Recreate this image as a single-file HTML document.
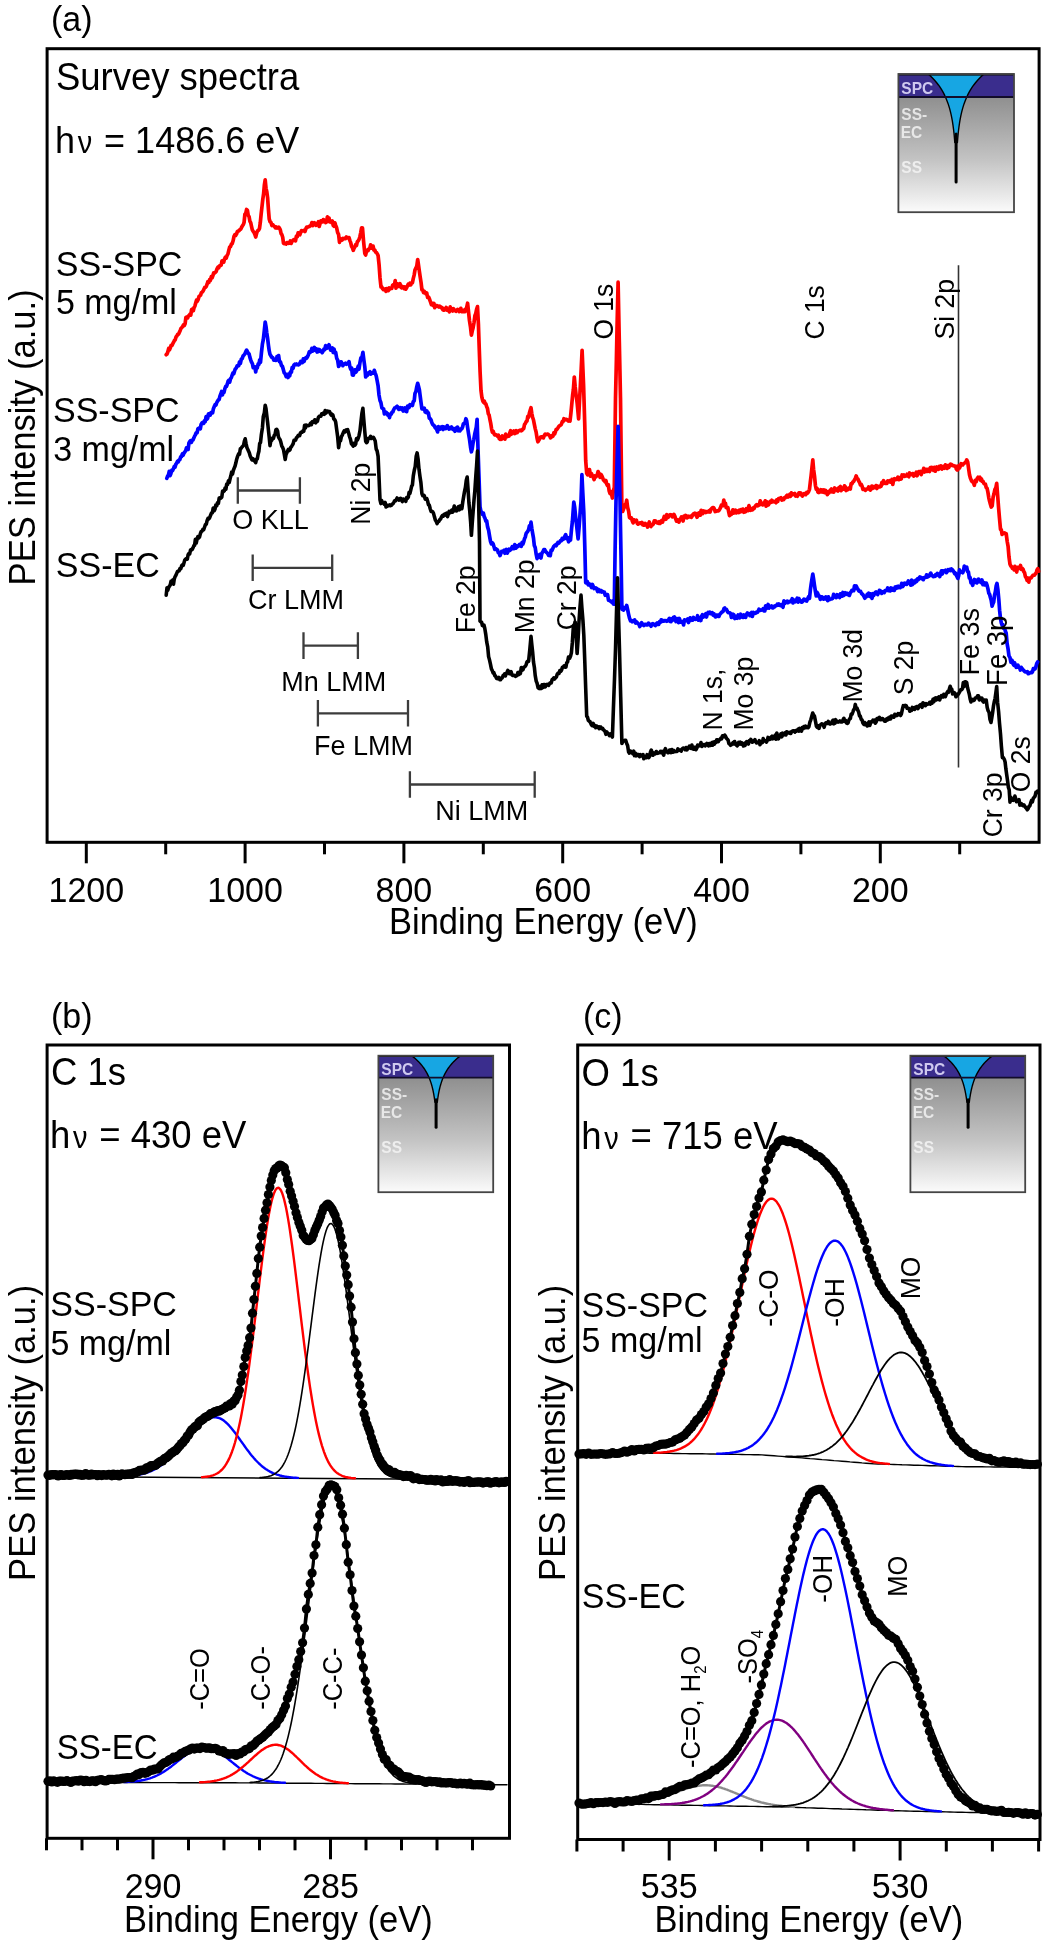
<!DOCTYPE html>
<html><head><meta charset="utf-8"><style>
html,body{margin:0;padding:0;background:#fff;}
svg{display:block;filter:blur(0.6px);}
text{font-family:"Liberation Sans",sans-serif;}
</style></head><body>
<svg width="1050" height="1947" viewBox="0 0 1050 1947">
<defs><linearGradient id="gg" x1="0" y1="0" x2="0" y2="1"><stop offset="0" stop-color="#8f8f8f"/><stop offset="0.55" stop-color="#c4c4c4"/><stop offset="1" stop-color="#fbfbfb"/></linearGradient></defs>
<rect width="1050" height="1947" fill="#fff"/>
<rect x="47.1" y="48.7" width="992" height="793.6" fill="none" stroke="#000" stroke-width="3"/>
<line x1="959.7" y1="842.3" x2="959.7" y2="854.3" stroke="#000" stroke-width="3" />
<line x1="880.3" y1="842.3" x2="880.3" y2="863.3" stroke="#000" stroke-width="3" />
<text x="0" y="0" transform="translate(880.3,901.5) scale(1,1.05)" font-size="34" text-anchor="middle" >200</text>
<line x1="800.9" y1="842.3" x2="800.9" y2="854.3" stroke="#000" stroke-width="3" />
<line x1="721.5" y1="842.3" x2="721.5" y2="863.3" stroke="#000" stroke-width="3" />
<text x="0" y="0" transform="translate(721.5,901.5) scale(1,1.05)" font-size="34" text-anchor="middle" >400</text>
<line x1="642.1" y1="842.3" x2="642.1" y2="854.3" stroke="#000" stroke-width="3" />
<line x1="562.7" y1="842.3" x2="562.7" y2="863.3" stroke="#000" stroke-width="3" />
<text x="0" y="0" transform="translate(562.7,901.5) scale(1,1.05)" font-size="34" text-anchor="middle" >600</text>
<line x1="483.3" y1="842.3" x2="483.3" y2="854.3" stroke="#000" stroke-width="3" />
<line x1="403.9" y1="842.3" x2="403.9" y2="863.3" stroke="#000" stroke-width="3" />
<text x="0" y="0" transform="translate(403.9,901.5) scale(1,1.05)" font-size="34" text-anchor="middle" >800</text>
<line x1="324.5" y1="842.3" x2="324.5" y2="854.3" stroke="#000" stroke-width="3" />
<line x1="245.1" y1="842.3" x2="245.1" y2="863.3" stroke="#000" stroke-width="3" />
<text x="0" y="0" transform="translate(245.1,901.5) scale(1,1.05)" font-size="34" text-anchor="middle" >1000</text>
<line x1="165.7" y1="842.3" x2="165.7" y2="854.3" stroke="#000" stroke-width="3" />
<line x1="86.3" y1="842.3" x2="86.3" y2="863.3" stroke="#000" stroke-width="3" />
<text x="0" y="0" transform="translate(86.3,901.5) scale(1,1.05)" font-size="34" text-anchor="middle" >1200</text>
<text x="0" y="0" transform="translate(543.3,934.0) scale(1,1.05)" font-size="34.5" text-anchor="middle" >Binding Energy (eV)</text>
<text x="0" y="0" transform="translate(50.9,31.4) scale(1,1.05)" font-size="34" text-anchor="start" >(a)</text>
<text x="0" y="0" transform="translate(55.9,89.5) scale(1,1.05)" font-size="36.5" text-anchor="start" >Survey spectra</text>
<text x="0" y="0" transform="translate(55.0,153.3) scale(1,1.05)" font-size="36" text-anchor="start" >h</text>
<text x="0" y="0" transform="translate(77.8,153.3) scale(1,1.05)" font-size="29" text-anchor="start" >ν</text>
<text x="0" y="0" transform="translate(104.1,153.3) scale(1,1.05)" font-size="36" text-anchor="start" >= 1486.6 eV</text>
<text x="0" y="0" transform="translate(55.8,276.0) scale(1,1.05)" font-size="34" text-anchor="start" >SS-SPC</text>
<text x="0" y="0" transform="translate(55.9,314.3) scale(1,1.05)" font-size="34" text-anchor="start" >5 mg/ml</text>
<text x="0" y="0" transform="translate(53.0,422.0) scale(1,1.05)" font-size="34" text-anchor="start" >SS-SPC</text>
<text x="0" y="0" transform="translate(53.2,460.5) scale(1,1.05)" font-size="34" text-anchor="start" >3 mg/ml</text>
<text x="0" y="0" transform="translate(55.8,577.0) scale(1,1.05)" font-size="34" text-anchor="start" >SS-EC</text>
<text x="0" y="0" font-size="34.6" transform="translate(34.5,585.4) rotate(-90) scale(1,1.05)" >PES intensity (a.u.)</text>
<g>
<rect x="898.4" y="97.0" width="115.6" height="115.2" fill="url(#gg)"/>
<rect x="898.4" y="74.0" width="115.6" height="23" fill="#3a2d8d"/>
<path d="M928.80,74.50 L930.70,76.24 L932.47,77.99 L934.13,79.73 L935.66,81.47 L937.09,83.22 L938.43,84.96 L939.67,86.71 L940.82,88.45 L941.90,90.19 L942.90,91.94 L943.84,93.68 L944.71,95.42 L945.52,97.17 L946.27,98.91 L946.97,100.65 L947.63,102.40 L948.24,104.14 L948.81,105.88 L949.33,107.63 L949.83,109.37 L950.29,111.12 L950.71,112.86 L951.11,114.60 L951.48,116.35 L951.82,118.09 L952.15,119.83 L952.45,121.58 L952.72,123.32 L952.98,125.06 L953.22,126.81 L953.45,128.55 L953.66,130.29 L953.85,132.04 L954.04,133.78 L954.21,135.53 L954.36,137.27 L954.51,139.01 L954.65,140.76 L954.77,142.50 L957.43,142.50 L957.55,140.76 L957.69,139.01 L957.84,137.27 L957.99,135.53 L958.16,133.78 L958.35,132.04 L958.54,130.29 L958.75,128.55 L958.98,126.81 L959.22,125.06 L959.48,123.32 L959.75,121.58 L960.05,119.83 L960.38,118.09 L960.72,116.35 L961.09,114.60 L961.49,112.86 L961.91,111.12 L962.37,109.37 L962.87,107.63 L963.39,105.88 L963.96,104.14 L964.57,102.40 L965.23,100.65 L965.93,98.91 L966.68,97.17 L967.49,95.42 L968.36,93.68 L969.30,91.94 L970.30,90.19 L971.38,88.45 L972.53,86.71 L973.77,84.96 L975.11,83.22 L976.54,81.47 L978.07,79.73 L979.73,77.99 L981.50,76.24 L983.40,74.50 Z" fill="#17a6e3" stroke="#000" stroke-width="1.4" stroke-linejoin="round"/>
<line x1="956.1" y1="134.0" x2="956.1" y2="182.0" stroke="#000" stroke-width="3" stroke-linecap="round"/>
<line x1="898.4" y1="97.0" x2="1014.0" y2="97.0" stroke="#120c2a" stroke-width="1.8" />
<line x1="898.4" y1="74.5" x2="1014.0" y2="74.5" stroke="#111" stroke-width="1.8" />
<rect x="898.4" y="74.0" width="115.6" height="138.2" fill="none" stroke="#444" stroke-width="1.8"/>
<text x="0" y="0" transform="translate(901.3,93.9) scale(1,1.05)" font-size="15.5" text-anchor="start" font-weight="bold" style="fill:#cfc9ef">SPC</text>
<text x="0" y="0" transform="translate(901.3,119.6) scale(1,1.05)" font-size="15.5" text-anchor="start" font-weight="bold" style="fill:#e4e4e4">SS-</text>
<text x="0" y="0" transform="translate(900.7,137.6) scale(1,1.05)" font-size="15.5" text-anchor="start" font-weight="bold" style="fill:#e8e8e8">EC</text>
<text x="0" y="0" transform="translate(901.3,173.0) scale(1,1.05)" font-size="15.5" text-anchor="start" font-weight="bold" style="fill:#eeeeee">SS</text>
</g>
<line x1="958.5" y1="265.2" x2="958.5" y2="767.6" stroke="#333" stroke-width="1.6" />
<polyline points="166.2,354.7 167.0,354.0 167.8,352.0 168.7,348.4 169.5,349.9 170.3,347.9 171.1,345.3 172.0,345.4 172.8,343.7 173.6,342.2 174.4,340.5 175.2,339.8 176.1,336.7 176.9,336.1 177.7,334.3 178.5,334.3 179.4,332.2 180.2,330.4 181.0,328.3 181.8,327.6 182.7,326.6 183.5,324.8 184.3,325.5 185.1,323.7 185.9,317.4 186.7,317.1 187.6,317.9 188.4,316.1 189.2,315.5 190.0,314.1 190.8,315.1 191.6,309.5 192.4,309.0 193.3,310.7 194.1,307.5 194.9,306.1 195.7,303.1 196.5,300.2 197.3,301.2 198.1,299.7 199.0,296.5 199.8,295.8 200.6,295.1 201.4,292.6 202.2,292.2 203.0,291.1 203.8,289.6 204.7,287.4 205.5,287.4 206.3,286.4 207.1,284.2 207.9,281.6 208.8,282.4 209.6,279.7 210.4,280.3 211.3,276.6 212.1,278.0 212.9,275.6 213.7,272.9 214.6,272.9 215.4,272.3 216.2,271.4 217.1,268.6 217.9,267.3 218.7,267.8 219.6,265.8 220.4,265.5 221.2,265.1 222.0,260.8 222.9,262.1 223.7,262.2 224.5,259.0 225.4,257.2 226.2,258.1 227.1,255.4 227.9,254.1 228.8,250.4 229.7,246.9 230.5,246.6 231.4,244.1 232.2,243.6 233.1,240.8 234.0,236.3 234.8,234.8 235.7,235.4 236.5,234.1 237.4,231.4 238.2,231.1 239.1,230.7 239.9,229.6 240.8,229.1 241.6,227.2 242.5,225.7 243.3,224.5 244.1,222.3 244.9,214.2 245.8,213.1 246.6,209.5 247.4,210.3 248.2,215.3 249.1,216.7 249.9,221.3 250.7,222.7 251.5,226.4 252.3,229.8 253.2,231.4 254.0,232.4 254.8,234.2 255.7,237.0 256.7,233.0 257.6,230.7 258.6,230.3 259.5,228.4 260.3,222.6 261.1,214.5 261.9,207.4 262.8,199.3 263.6,193.8 264.4,184.7 265.2,179.9 266.0,188.3 266.8,191.7 267.6,197.7 268.4,209.1 269.2,218.9 270.0,221.6 270.9,222.2 271.9,225.6 272.9,224.7 273.8,226.0 274.6,226.5 275.4,227.9 276.2,227.0 277.1,228.1 277.9,227.8 278.7,227.2 279.5,228.2 280.3,229.9 281.1,233.7 281.9,234.7 282.7,237.3 283.5,243.2 284.3,243.7 285.2,243.5 286.0,244.1 286.9,242.7 287.7,242.7 288.6,243.4 289.5,243.0 290.3,241.0 291.2,243.4 292.0,241.3 292.9,240.5 293.8,239.7 294.6,239.3 295.5,240.9 296.4,236.2 297.2,236.9 298.1,232.9 298.9,234.6 299.8,234.8 300.7,232.3 301.5,230.7 302.4,230.8 303.3,230.9 304.1,230.3 305.0,231.5 305.9,228.7 306.7,227.1 307.6,227.2 308.4,226.8 309.3,226.5 310.2,225.8 311.0,225.5 311.9,222.6 312.7,225.6 313.5,223.6 314.3,222.6 315.2,224.7 316.0,225.4 316.8,224.1 317.6,223.4 318.4,221.8 319.2,226.5 320.0,223.7 320.9,220.8 321.7,221.0 322.5,221.9 323.3,219.6 324.1,221.6 324.9,220.5 325.7,222.5 326.6,221.9 327.4,216.9 328.2,220.3 329.0,217.9 329.8,222.0 330.7,221.4 331.5,222.5 332.4,221.0 333.2,225.4 334.0,226.2 334.9,222.8 335.7,225.3 336.6,227.7 337.6,232.4 338.6,234.6 339.5,242.4 340.4,238.6 341.2,239.3 342.1,240.1 343.0,238.4 343.8,238.8 344.7,238.2 345.5,238.6 346.4,237.0 347.3,237.8 348.1,237.9 349.0,237.6 349.9,240.6 350.7,242.6 351.6,246.5 352.4,247.6 353.3,250.3 354.1,248.2 354.9,246.9 355.7,244.6 356.5,245.4 357.3,241.8 358.1,240.9 359.0,239.5 359.9,236.7 360.7,232.8 361.6,227.8 362.5,228.1 363.6,241.7 364.8,253.4 365.6,255.0 366.4,251.9 367.3,250.2 368.1,250.6 368.9,249.0 369.8,248.3 370.6,244.8 371.4,248.1 372.2,246.1 373.1,246.1 373.9,250.1 374.8,250.0 375.6,252.1 376.4,252.4 377.3,253.9 378.1,255.5 379.1,265.0 380.0,277.7 381.0,287.0 381.8,286.9 382.6,288.7 383.5,289.6 384.3,289.2 385.1,288.9 386.0,291.3 386.8,288.6 387.6,290.1 388.4,290.6 389.3,287.9 390.1,288.9 391.0,288.0 391.8,288.3 392.7,285.1 393.5,284.7 394.4,285.1 395.2,280.6 396.0,288.2 396.8,283.6 397.6,284.0 398.4,286.4 399.2,285.6 400.0,283.7 400.9,287.2 401.7,287.9 402.5,286.5 403.3,287.1 404.1,288.5 404.9,287.0 405.7,289.2 406.5,288.0 407.4,286.0 408.2,284.3 409.0,285.0 409.9,283.3 410.7,284.9 411.6,282.9 412.4,282.9 413.3,278.4 414.2,274.9 415.0,269.9 415.9,268.2 416.8,266.0 417.7,259.6 418.5,265.1 419.4,271.6 420.2,277.1 421.1,282.7 421.9,289.7 422.7,289.8 423.5,292.6 424.3,291.4 425.1,292.5 425.9,293.9 426.7,292.9 427.6,297.5 428.6,297.1 429.5,299.1 430.5,302.0 431.4,304.7 432.2,303.2 433.0,305.3 433.9,303.4 434.7,307.7 435.5,306.1 436.3,305.6 437.1,305.5 438.0,306.5 438.8,307.0 439.6,306.2 440.4,306.6 441.3,307.8 442.1,307.7 442.9,309.8 443.7,310.2 444.5,308.9 445.3,309.6 446.2,307.4 447.0,310.1 447.8,309.4 448.6,310.2 449.4,311.8 450.2,306.9 451.0,310.3 451.9,308.7 452.7,311.0 453.5,308.7 454.3,309.9 455.1,310.8 455.9,311.3 456.7,310.6 457.6,309.5 458.4,309.8 459.2,311.6 460.0,310.5 460.8,308.3 461.6,311.6 462.4,311.0 463.3,311.6 464.1,310.1 464.9,311.6 465.7,309.1 466.6,307.9 467.6,303.2 468.6,312.5 469.5,320.8 470.4,326.4 471.4,335.1 472.3,330.8 473.1,327.8 474.0,322.7 474.9,315.7 475.8,313.4 476.6,309.3 477.5,306.6 478.4,323.8 479.2,347.4 480.1,372.0 481.0,390.6 481.9,397.4 482.7,400.6 483.5,402.3 484.3,401.0 485.1,403.6 485.9,404.0 486.7,406.8 487.5,408.6 488.3,413.7 489.1,415.0 490.0,419.8 490.8,423.7 491.6,429.1 492.4,432.2 493.2,431.3 494.1,434.0 494.9,434.9 495.8,434.6 496.6,435.3 497.5,436.2 498.3,435.1 499.2,438.4 500.0,439.3 500.8,437.5 501.6,439.2 502.4,436.0 503.3,436.7 504.1,436.3 504.9,439.1 505.7,434.1 506.5,436.5 507.3,436.6 508.1,435.4 509.0,436.1 509.8,432.8 510.6,430.7 511.4,434.3 512.2,431.5 513.0,432.3 513.9,431.0 514.7,433.6 515.5,433.1 516.3,430.7 517.1,432.6 518.0,431.3 518.8,430.7 519.6,430.7 520.4,430.1 521.3,430.8 522.1,430.2 522.9,429.0 523.7,428.7 524.5,424.5 525.3,423.6 526.1,421.7 527.0,421.0 527.8,416.3 528.6,417.1 529.4,413.0 530.2,410.4 531.0,407.7 531.8,413.6 532.6,417.2 533.5,420.0 534.3,424.2 535.2,428.6 536.1,432.0 537.0,437.8 537.9,441.8 538.8,440.3 539.7,438.8 540.6,437.0 541.6,436.8 542.5,437.1 543.4,437.9 544.3,435.5 545.2,434.1 546.1,434.7 547.0,434.2 547.8,434.0 548.7,434.9 549.6,435.6 550.5,437.9 551.4,435.8 552.2,436.5 553.0,436.1 553.8,432.9 554.6,434.0 555.4,431.9 556.2,429.4 557.0,429.4 557.8,428.1 558.6,426.8 559.5,425.8 560.4,425.2 561.3,424.5 562.2,421.7 563.0,421.8 563.9,418.7 564.8,420.0 565.7,419.4 566.6,419.4 567.4,420.1 568.3,421.0 569.1,420.0 570.0,421.1 570.9,413.2 571.7,405.0 572.6,395.3 573.4,389.3 574.3,377.0 575.2,387.0 576.2,395.9 577.1,402.7 578.6,418.9 579.5,401.0 580.4,385.2 581.2,368.9 582.1,350.4 583.6,385.9 584.7,422.4 585.7,460.7 586.7,473.4 587.6,474.9 588.6,473.0 589.5,469.6 590.5,476.1 591.4,473.4 592.3,475.7 593.3,477.4 594.1,479.5 594.9,475.9 595.7,477.0 596.5,476.0 597.3,474.6 598.1,471.6 599.0,473.5 600.0,477.4 601.0,474.5 601.9,476.0 602.7,477.9 603.5,480.1 604.3,480.3 605.1,481.9 605.9,480.5 606.7,484.1 607.5,485.5 608.3,484.6 609.1,490.6 610.0,493.5 610.8,491.4 611.6,494.4 612.4,498.0 613.3,491.2 614.3,487.4 615.5,398.3 616.4,359.7 617.2,320.2 618.1,282.2 619.3,341.0 620.5,398.4 621.9,511.2 622.7,511.4 623.5,509.1 624.3,507.3 625.1,504.5 625.9,504.3 626.7,500.2 627.6,507.3 628.6,511.1 629.5,517.5 630.5,518.3 631.4,517.9 632.4,521.2 633.2,522.8 634.0,519.9 634.8,520.9 635.6,520.8 636.4,520.1 637.2,523.4 638.0,524.1 638.8,523.6 639.6,523.1 640.4,522.9 641.2,523.5 642.0,522.4 642.8,524.8 643.6,525.2 644.4,525.2 645.2,523.5 646.0,524.5 646.8,524.4 647.6,527.1 648.4,524.9 649.3,522.0 650.1,524.8 651.0,526.5 651.8,524.8 652.6,524.9 653.5,523.6 654.3,520.8 655.1,520.8 656.0,521.4 656.8,522.6 657.6,523.0 658.5,523.3 659.3,521.8 660.2,523.3 661.0,521.5 661.8,520.5 662.6,522.0 663.4,519.3 664.3,516.4 665.1,518.1 665.9,519.2 666.7,514.5 667.5,517.6 668.3,517.2 669.1,515.3 670.0,514.7 670.8,515.6 671.6,515.0 672.4,516.8 673.2,516.4 674.0,514.5 674.8,516.1 675.7,518.9 676.5,521.1 677.3,519.8 678.1,520.4 678.9,522.1 679.8,519.4 680.6,518.7 681.4,517.0 682.3,517.8 683.1,521.0 683.9,516.1 684.8,517.6 685.6,515.5 686.4,517.2 687.2,517.9 688.1,516.1 688.9,517.0 689.7,516.7 690.6,516.1 691.4,517.4 692.2,516.0 693.0,514.4 693.8,513.7 694.6,513.3 695.4,514.8 696.2,513.6 697.0,517.3 697.8,516.0 698.6,513.1 699.5,512.8 700.3,515.2 701.1,510.4 701.9,512.0 702.7,513.6 703.5,511.0 704.3,511.4 705.1,511.3 705.9,512.5 706.7,511.6 707.5,511.7 708.4,511.8 709.2,510.8 710.1,512.0 710.9,509.4 711.8,508.3 712.6,507.6 713.5,507.6 714.3,508.8 715.2,511.6 716.2,511.2 717.1,510.9 718.1,511.0 718.9,510.4 719.7,509.2 720.5,507.6 721.4,505.1 722.2,505.0 723.0,505.6 723.8,500.1 724.6,504.1 725.4,503.1 726.2,507.6 727.1,507.9 727.9,507.6 728.7,511.9 729.5,515.7 730.3,513.3 731.2,514.5 732.0,512.7 732.9,509.8 733.7,513.1 734.5,511.7 735.4,510.2 736.2,512.9 737.0,512.1 737.9,510.9 738.7,512.5 739.5,510.1 740.4,511.9 741.2,509.6 742.1,511.4 742.9,509.1 743.8,512.3 744.6,510.5 745.5,511.8 746.4,508.7 747.2,509.0 748.1,510.6 748.9,505.7 749.8,507.7 750.7,510.3 751.5,509.4 752.4,509.9 753.3,507.9 754.1,508.6 755.0,506.6 755.9,505.4 756.7,504.7 757.6,505.8 758.4,505.5 759.3,505.0 760.2,500.9 761.0,502.5 761.9,504.1 762.7,504.9 763.6,503.5 764.4,502.9 765.2,500.8 766.1,506.2 766.9,501.9 767.7,505.2 768.5,504.8 769.4,502.9 770.2,501.5 771.0,502.2 771.9,500.3 772.7,501.9 773.5,501.3 774.4,501.7 775.2,502.0 776.0,502.8 776.8,499.8 777.7,501.4 778.5,498.7 779.3,498.3 780.2,498.4 781.0,497.7 781.9,500.0 782.7,499.6 783.6,499.7 784.5,497.7 785.3,497.8 786.2,496.3 787.1,495.3 787.9,497.0 788.8,496.5 789.7,494.4 790.5,496.3 791.4,492.9 792.2,494.9 793.1,494.2 793.9,494.3 794.8,493.5 795.6,496.0 796.5,495.5 797.3,496.2 798.2,494.7 799.0,492.8 799.9,494.0 800.7,492.9 801.6,495.0 802.4,496.0 803.3,494.8 804.1,493.6 805.0,493.8 805.8,494.6 806.7,492.4 807.6,493.0 808.6,491.7 809.5,489.3 810.3,482.2 811.1,475.7 812.0,467.2 812.8,459.9 813.6,469.4 814.5,476.0 815.4,485.3 816.2,489.2 817.1,488.4 817.9,492.2 818.8,492.5 819.7,490.5 820.5,489.8 821.4,491.9 822.2,490.0 823.1,492.1 824.0,489.9 824.8,492.7 825.7,490.5 826.5,492.6 827.3,494.6 828.1,491.9 829.0,492.9 829.8,490.7 830.6,490.1 831.4,489.0 832.2,491.9 833.0,490.2 833.8,492.0 834.7,488.0 835.5,488.9 836.3,489.0 837.1,490.4 837.9,491.0 838.7,487.8 839.6,487.3 840.4,486.5 841.2,490.6 842.0,488.8 842.9,488.1 843.7,489.0 844.5,485.8 845.3,486.9 846.1,490.5 847.0,489.8 847.8,489.6 848.6,488.1 849.4,488.8 850.3,489.0 851.1,483.7 852.0,483.9 852.8,482.0 853.7,481.6 854.5,479.8 855.4,478.2 856.2,475.9 857.0,478.4 857.9,479.0 858.7,481.0 859.6,482.5 860.4,484.8 861.3,484.5 862.1,486.3 863.0,489.4 863.8,489.1 864.6,489.0 865.4,490.3 866.2,489.4 867.1,489.0 867.9,489.0 868.7,487.0 869.5,489.1 870.3,490.1 871.1,489.0 871.9,486.1 872.8,488.3 873.6,486.6 874.4,487.4 875.2,487.7 876.0,485.6 876.9,488.5 877.7,486.2 878.6,486.9 879.4,486.3 880.2,486.8 881.1,486.2 881.9,482.3 882.7,483.9 883.6,480.7 884.4,482.4 885.2,483.5 886.1,483.4 886.9,483.5 887.8,480.9 888.6,481.4 889.4,480.8 890.3,482.1 891.1,482.2 892.0,479.4 892.8,484.5 893.7,479.4 894.5,478.6 895.4,479.6 896.2,479.5 897.0,479.0 897.9,477.2 898.7,479.7 899.6,477.6 900.4,479.2 901.3,478.8 902.1,475.0 903.0,475.2 903.8,474.9 904.6,476.3 905.5,475.8 906.3,475.9 907.1,474.3 908.0,475.7 908.8,476.7 909.6,473.0 910.4,474.3 911.3,474.6 912.1,473.9 912.9,473.6 913.8,476.0 914.6,475.1 915.4,474.4 916.3,472.1 917.1,475.8 917.9,473.1 918.7,471.7 919.6,471.8 920.4,471.4 921.2,474.6 922.1,471.9 922.9,471.5 923.7,468.4 924.6,472.0 925.4,469.5 926.2,469.3 927.0,471.4 927.9,469.3 928.7,471.3 929.5,471.5 930.3,467.6 931.2,469.6 932.0,467.5 932.8,469.3 933.6,470.4 934.5,467.3 935.3,471.2 936.1,468.3 936.9,467.0 937.8,468.2 938.6,469.3 939.4,466.3 940.2,467.9 941.1,466.0 941.9,469.1 942.8,467.5 943.6,466.5 944.5,468.2 945.4,464.9 946.2,465.8 947.1,468.4 947.9,465.6 948.8,467.3 949.7,465.5 950.5,464.1 951.4,464.5 952.2,465.5 953.0,465.6 953.8,465.7 954.7,466.4 955.5,466.2 956.3,468.9 957.1,470.0 957.9,469.7 958.7,465.5 959.5,468.1 960.3,466.3 961.1,463.7 961.9,464.8 962.7,465.0 963.5,463.8 964.3,463.3 965.1,462.8 965.9,461.9 966.7,459.9 967.7,462.0 968.6,468.5 969.5,474.7 970.5,478.4 971.5,480.8 972.4,482.0 973.3,482.0 974.3,485.3 975.2,480.4 976.2,481.8 977.1,478.8 978.1,477.2 979.0,477.8 979.8,477.3 980.6,480.3 981.4,478.8 982.2,481.4 983.0,481.3 983.8,483.2 984.6,484.1 985.4,484.1 986.2,487.5 987.1,488.4 987.9,492.1 988.8,497.8 989.6,501.3 990.4,504.2 991.3,507.1 992.2,505.7 993.1,497.2 994.0,493.8 994.9,489.5 995.8,488.0 996.7,483.3 997.7,496.2 998.6,507.9 999.5,518.3 1000.5,529.4 1001.3,529.7 1002.1,534.4 1002.9,533.4 1003.8,533.4 1004.6,532.8 1005.4,533.5 1006.2,533.8 1007.2,541.5 1008.1,546.4 1009.0,557.1 1010.0,564.3 1010.8,566.0 1011.6,566.7 1012.4,568.3 1013.3,568.0 1014.1,569.9 1014.9,566.3 1015.7,569.0 1016.7,572.0 1017.6,567.4 1018.6,567.8 1019.5,568.4 1020.5,565.5 1021.3,569.3 1022.1,568.2 1023.0,569.2 1023.8,571.6 1024.6,572.8 1025.4,576.6 1026.3,577.9 1027.1,580.4 1027.9,578.1 1028.8,582.2 1029.6,578.2 1030.4,577.8 1031.2,577.9 1032.1,576.4 1032.9,575.4 1033.7,575.2 1034.5,575.2 1035.3,573.8 1036.2,573.1 1037.0,570.0 1037.8,568.7 1038.6,571.2" fill="none" stroke="#ff0000" stroke-width="3.7" stroke-linejoin="round" stroke-linecap="round" />
<polyline points="166.8,478.3 167.6,476.2 168.4,475.1 169.3,471.3 170.1,475.6 170.9,473.5 171.7,470.4 172.5,470.7 173.4,468.8 174.2,466.5 175.0,467.3 175.8,464.4 176.6,463.2 177.4,461.4 178.3,461.8 179.1,459.9 179.9,459.5 180.7,456.8 181.5,456.5 182.4,454.0 183.2,455.0 184.0,453.0 184.8,452.0 185.6,450.9 186.5,447.8 187.3,448.9 188.1,449.4 188.9,443.2 189.7,441.7 190.5,440.7 191.4,442.3 192.2,440.0 193.0,439.9 193.8,438.1 194.6,436.1 195.4,434.8 196.2,432.8 197.1,432.8 197.9,428.9 198.7,428.4 199.5,427.9 200.3,428.9 201.1,424.4 202.0,422.9 202.8,422.5 203.6,423.4 204.4,420.8 205.2,421.7 206.1,416.5 206.9,419.3 207.7,418.1 208.5,413.8 209.4,414.8 210.2,415.1 211.0,412.5 211.8,412.3 212.6,412.8 213.4,408.7 214.3,406.6 215.1,404.6 215.9,405.1 216.7,402.6 217.5,401.3 218.3,400.0 219.1,399.6 220.0,396.0 220.8,394.0 221.6,391.5 222.4,394.9 223.2,391.9 224.0,392.3 224.8,388.8 225.7,386.4 226.5,386.5 227.3,384.2 228.1,381.2 228.9,380.2 229.7,382.2 230.5,378.8 231.4,377.4 232.2,375.0 233.0,373.0 233.8,373.6 234.6,370.9 235.4,368.7 236.2,368.2 237.1,365.8 237.9,365.9 238.7,365.7 239.5,361.8 240.4,363.3 241.3,359.1 242.2,358.6 243.1,355.9 243.9,355.2 244.8,354.0 245.7,351.9 246.6,350.1 247.4,351.8 248.3,353.3 249.1,354.0 249.9,357.4 250.7,359.9 251.6,362.3 252.4,363.6 253.2,367.6 254.0,366.6 254.9,367.2 255.7,371.9 256.5,366.7 257.3,367.9 258.1,364.0 258.9,364.3 259.7,359.9 260.5,362.2 261.4,353.0 262.4,344.1 263.3,339.7 264.3,330.7 265.2,322.0 266.0,326.5 266.8,332.9 267.6,338.3 268.4,345.0 269.2,350.7 270.0,354.3 270.9,355.9 271.9,357.4 272.9,357.8 273.8,360.2 274.6,360.1 275.4,360.3 276.2,360.3 277.0,356.7 277.8,357.7 278.6,355.6 279.5,361.8 280.5,361.9 281.4,365.4 282.4,366.4 283.3,369.4 284.2,372.7 285.2,373.8 286.2,376.7 287.1,376.1 288.0,377.5 288.8,374.0 289.7,375.9 290.5,371.8 291.4,372.1 292.2,367.4 293.1,368.3 293.9,365.1 294.8,364.2 295.6,364.6 296.5,364.0 297.3,364.5 298.2,364.9 299.0,364.6 299.9,363.4 300.7,361.5 301.6,362.1 302.4,362.6 303.3,358.9 304.1,361.4 305.0,358.9 305.9,357.7 306.7,358.0 307.6,356.5 308.4,354.7 309.3,351.9 310.2,352.3 311.0,351.2 311.9,348.3 312.8,351.0 313.6,350.5 314.5,347.5 315.4,350.3 316.2,348.7 317.1,352.0 317.9,351.8 318.8,349.4 319.7,349.9 320.5,351.4 321.4,351.1 322.2,352.7 323.1,351.1 323.9,349.1 324.8,349.6 325.6,345.6 326.5,348.0 327.3,348.1 328.2,346.1 329.0,344.8 329.8,347.4 330.7,350.1 331.5,348.8 332.4,348.0 333.2,352.3 334.0,349.0 334.9,353.0 335.7,352.5 336.7,358.3 337.6,359.9 338.6,366.5 339.5,365.0 340.3,362.2 341.2,361.8 342.1,363.8 342.9,365.7 343.8,364.0 344.7,363.8 345.5,363.2 346.4,364.3 347.3,363.7 348.1,363.4 349.0,361.6 349.9,366.7 350.7,369.2 351.6,368.0 352.4,375.0 353.3,375.2 354.1,372.7 354.9,369.9 355.7,372.3 356.6,371.2 357.4,368.7 358.2,366.2 359.0,369.1 360.0,362.3 360.9,357.9 361.9,357.7 362.9,352.3 363.8,359.6 364.8,366.7 365.7,377.0 366.6,372.8 367.4,375.4 368.3,373.8 369.1,372.6 370.0,371.7 370.9,374.0 371.7,373.0 372.6,372.6 373.4,373.0 374.3,370.3 375.2,373.1 376.2,375.8 377.2,381.0 378.1,385.8 379.0,395.0 380.0,400.5 380.9,402.6 381.9,408.0 382.7,408.5 383.6,408.9 384.4,413.9 385.3,413.5 386.1,412.3 387.0,413.3 387.8,415.1 388.7,414.3 389.5,417.7 390.3,414.3 391.2,414.3 392.0,412.3 392.9,411.9 393.7,409.6 394.6,408.1 395.4,407.8 396.3,407.0 397.1,406.3 398.0,407.1 398.8,409.4 399.7,408.8 400.6,407.8 401.5,409.4 402.3,407.9 403.2,411.0 404.1,410.2 405.0,408.0 405.8,411.1 406.7,411.6 407.5,406.2 408.3,407.9 409.1,407.4 410.0,404.7 410.8,405.0 411.6,404.4 412.4,405.5 413.3,401.5 414.2,400.9 415.0,393.3 415.9,391.7 416.8,386.7 417.7,383.3 418.5,386.2 419.4,389.9 420.2,396.2 421.1,402.9 421.9,408.8 422.7,408.3 423.5,409.0 424.3,408.1 425.2,412.0 426.0,412.5 426.8,410.9 427.6,412.3 428.4,413.0 429.3,418.1 430.1,418.6 431.0,419.9 431.8,422.4 432.7,424.4 433.5,425.2 434.4,426.0 435.2,427.8 436.0,427.1 436.8,429.8 437.6,431.9 438.4,426.7 439.2,428.9 440.0,429.1 440.8,427.1 441.6,428.5 442.4,426.6 443.2,429.5 444.0,427.0 444.8,427.7 445.6,428.6 446.5,427.3 447.3,425.6 448.2,427.3 449.0,429.1 449.9,428.1 450.7,428.6 451.6,427.0 452.4,428.7 453.2,429.6 454.1,428.8 454.9,431.3 455.8,428.7 456.6,427.7 457.5,427.1 458.3,430.8 459.2,429.3 460.0,430.8 460.8,428.8 461.7,429.0 462.5,427.2 463.4,423.8 464.2,423.3 465.0,423.0 465.9,418.7 466.7,420.9 467.6,427.4 468.6,434.0 469.5,439.3 470.5,446.8 471.4,451.8 472.2,448.8 473.0,443.3 473.8,439.6 474.7,434.2 475.5,430.6 476.3,427.1 477.1,419.3 478.1,451.7 479.0,477.4 480.0,506.7 480.8,510.8 481.7,512.4 482.5,514.4 483.4,513.1 484.2,516.6 485.0,518.3 485.9,521.2 486.7,520.9 487.6,526.9 488.6,530.2 489.6,536.4 490.5,541.3 491.4,543.9 492.2,542.7 493.1,543.9 494.0,546.8 494.8,549.4 495.7,548.6 496.5,549.5 497.4,549.7 498.3,552.6 499.1,553.0 500.0,555.6 500.8,553.5 501.6,551.5 502.4,551.7 503.3,550.9 504.1,550.3 504.9,553.3 505.7,552.4 506.5,549.5 507.3,553.2 508.1,550.9 509.0,549.1 509.8,550.5 510.6,549.7 511.4,548.5 512.2,546.6 513.0,548.7 513.9,548.7 514.7,544.5 515.5,548.2 516.3,547.9 517.1,546.0 518.0,546.4 518.8,545.5 519.6,544.3 520.4,544.6 521.3,546.4 522.1,542.3 522.9,544.1 523.7,541.9 524.5,538.7 525.3,537.0 526.1,533.6 527.0,532.2 527.8,531.3 528.6,529.6 529.4,525.9 530.2,529.0 531.0,522.2 531.8,528.3 532.6,533.1 533.5,538.1 534.3,545.5 535.2,547.6 536.2,554.4 537.1,558.6 538.1,555.1 539.0,557.2 540.0,554.4 541.0,558.0 541.9,553.2 542.9,551.7 543.8,549.7 544.8,549.7 545.8,551.8 546.7,552.5 547.6,553.4 548.6,555.3 549.4,554.7 550.3,555.6 551.1,550.2 552.0,550.4 552.8,548.6 553.7,546.6 554.5,545.7 555.4,544.9 556.2,545.7 557.1,543.8 557.9,542.5 558.8,543.2 559.7,542.0 560.5,540.6 561.4,540.6 562.2,538.3 563.1,539.4 564.0,538.4 564.8,536.4 565.7,534.6 566.7,538.7 567.6,537.4 568.6,541.8 569.5,537.6 570.5,540.1 571.5,529.4 572.4,521.3 573.8,502.1 574.7,507.4 575.5,515.7 576.4,523.5 577.2,530.8 578.1,538.9 579.1,527.1 580.0,514.5 581.0,501.3 581.9,474.7 582.8,492.8 583.8,512.3 584.8,546.9 585.7,582.8 586.5,582.1 587.4,581.7 588.2,584.9 589.0,583.7 589.9,584.5 590.7,585.9 591.6,587.5 592.4,584.5 593.3,586.5 594.1,588.5 595.0,588.2 595.9,587.9 596.7,588.6 597.6,591.5 598.4,589.4 599.3,591.3 600.2,591.7 601.0,590.5 601.9,592.0 602.7,591.5 603.5,592.0 604.3,592.0 605.2,595.3 606.0,594.3 606.8,594.8 607.6,594.7 608.5,600.2 609.5,600.5 610.5,601.1 611.4,602.0 612.4,601.2 613.3,603.9 614.3,604.2 615.1,550.1 616.0,501.5 617.0,464.8 618.1,426.3 619.0,463.1 620.0,499.4 621.0,555.0 621.9,609.3 622.7,606.7 623.5,610.1 624.3,608.0 625.1,608.6 625.9,608.0 626.7,605.4 627.7,610.0 628.6,614.3 629.5,618.2 630.5,620.8 631.3,620.5 632.2,621.7 633.0,620.9 633.9,621.5 634.7,619.9 635.6,623.0 636.4,621.8 637.3,622.8 638.1,623.7 639.0,624.4 639.8,626.6 640.7,624.6 641.6,622.7 642.4,624.8 643.3,624.1 644.1,625.5 645.0,624.3 645.9,624.4 646.7,624.9 647.6,624.9 648.5,623.1 649.3,624.3 650.2,624.9 651.1,626.2 651.9,624.0 652.8,623.7 653.6,624.7 654.5,624.4 655.4,625.5 656.2,623.9 657.1,622.9 657.9,624.5 658.7,624.5 659.6,621.7 660.4,622.4 661.2,619.8 662.0,621.3 662.8,620.5 663.7,621.1 664.5,620.6 665.3,620.8 666.1,620.7 666.9,621.3 667.7,620.8 668.6,619.6 669.4,618.4 670.2,621.5 671.0,621.6 671.8,619.0 672.7,620.1 673.5,617.2 674.3,617.0 675.1,619.0 676.0,621.6 676.8,618.6 677.7,619.2 678.5,622.7 679.4,618.5 680.2,622.1 681.1,622.2 681.9,621.6 682.7,622.0 683.6,624.9 684.4,619.9 685.2,620.8 686.1,620.7 686.9,619.9 687.7,618.9 688.5,622.5 689.4,620.6 690.2,617.8 691.0,619.0 691.9,620.3 692.7,620.1 693.5,617.5 694.4,619.1 695.2,619.3 696.0,619.2 696.8,618.9 697.6,615.7 698.4,620.2 699.2,617.8 700.0,619.5 700.8,620.6 701.6,616.4 702.4,614.7 703.3,617.1 704.1,615.5 704.9,614.8 705.7,613.8 706.5,617.0 707.3,613.9 708.1,612.4 708.9,613.3 709.7,612.1 710.5,613.5 711.3,613.1 712.2,612.6 713.0,615.0 713.9,613.8 714.7,615.9 715.6,616.9 716.4,615.1 717.3,615.0 718.1,616.5 718.9,616.4 719.8,614.3 720.6,613.5 721.5,612.4 722.3,611.9 723.1,611.3 724.0,608.6 724.8,608.0 725.6,609.5 726.4,609.4 727.3,611.3 728.1,612.6 728.9,612.7 729.8,612.8 730.6,613.4 731.4,617.5 732.2,616.6 733.1,614.2 733.9,614.7 734.8,618.5 735.6,618.2 736.5,616.6 737.3,618.2 738.2,615.0 739.0,617.1 739.8,617.8 740.7,614.2 741.5,615.4 742.4,617.2 743.2,617.4 744.0,614.9 744.9,615.8 745.7,617.3 746.5,614.5 747.4,613.0 748.2,614.4 749.0,613.7 749.9,615.7 750.7,614.0 751.6,612.5 752.4,616.4 753.2,612.4 754.1,613.3 754.9,613.3 755.7,613.2 756.5,612.1 757.4,612.3 758.2,611.2 759.0,609.2 759.8,610.4 760.7,610.2 761.5,609.9 762.3,610.0 763.1,608.8 764.0,611.0 764.8,611.0 765.6,605.8 766.4,608.4 767.3,607.2 768.1,604.5 768.9,608.1 769.7,606.5 770.6,606.5 771.4,605.9 772.2,607.9 773.1,607.9 773.9,606.4 774.7,606.8 775.6,605.5 776.4,605.7 777.2,604.3 778.0,605.1 778.9,603.9 779.7,605.1 780.5,605.5 781.4,604.7 782.2,605.6 783.0,607.3 783.9,600.9 784.7,603.4 785.5,602.5 786.3,602.4 787.2,601.1 788.0,602.7 788.8,602.1 789.7,601.4 790.5,601.7 791.3,601.1 792.2,598.7 793.0,603.0 793.9,601.1 794.7,600.2 795.5,601.7 796.4,600.3 797.2,598.2 798.1,602.1 798.9,598.6 799.8,600.4 800.6,600.7 801.4,602.2 802.3,601.9 803.1,600.5 804.0,599.1 804.8,599.5 805.7,600.8 806.7,601.1 807.6,598.9 808.6,596.8 809.5,598.3 810.3,590.6 811.1,584.6 812.0,578.9 812.8,574.1 813.6,579.1 814.5,585.5 815.4,591.4 816.2,595.9 817.0,592.4 817.8,593.5 818.6,596.2 819.5,596.2 820.3,599.4 821.1,596.8 821.9,596.9 822.7,598.6 823.5,599.0 824.3,597.6 825.2,598.8 826.0,597.0 826.8,597.5 827.6,600.6 828.5,596.9 829.3,599.7 830.2,599.1 831.1,599.0 831.9,598.9 832.8,598.2 833.6,594.4 834.5,595.7 835.4,595.9 836.2,597.6 837.1,594.7 837.9,595.1 838.7,595.5 839.6,597.5 840.4,593.8 841.2,593.8 842.0,596.2 842.9,592.5 843.7,595.5 844.5,594.4 845.3,592.8 846.1,594.2 847.0,593.3 847.8,594.7 848.6,594.8 849.4,595.4 850.3,592.6 851.1,591.9 852.0,590.2 852.8,590.0 853.7,590.6 854.5,585.9 855.4,588.4 856.2,586.0 857.1,587.8 857.9,589.2 858.8,590.9 859.6,591.2 860.5,591.4 861.4,593.3 862.2,594.0 863.1,594.8 863.9,596.3 864.8,598.2 865.6,597.0 866.4,596.7 867.2,594.5 868.0,595.8 868.8,593.2 869.6,596.3 870.4,593.8 871.2,596.4 872.0,598.4 872.8,593.7 873.6,595.6 874.4,594.1 875.2,592.6 876.0,592.0 876.9,593.6 877.7,594.5 878.5,592.9 879.4,590.3 880.2,590.7 881.0,591.6 881.8,593.4 882.7,591.8 883.5,591.7 884.3,592.6 885.2,590.6 886.0,590.5 886.8,590.2 887.7,587.9 888.5,590.6 889.3,590.4 890.1,590.9 891.0,587.9 891.8,588.2 892.6,590.2 893.5,589.2 894.3,590.4 895.1,587.1 896.0,588.2 896.8,586.7 897.6,587.7 898.4,586.3 899.3,587.3 900.1,587.7 900.9,586.8 901.7,583.3 902.6,586.5 903.4,585.5 904.2,583.3 905.0,583.2 905.9,584.0 906.7,584.4 907.5,582.7 908.3,580.9 909.2,583.0 910.0,582.5 910.8,585.2 911.6,580.0 912.5,584.6 913.3,583.3 914.1,581.1 915.0,582.7 915.8,580.4 916.6,581.3 917.5,578.8 918.3,579.6 919.1,577.9 919.9,576.9 920.8,578.4 921.6,577.6 922.4,579.0 923.3,579.6 924.1,577.5 924.9,577.5 925.8,577.5 926.6,574.8 927.4,577.1 928.2,576.5 929.1,576.1 929.9,574.5 930.7,573.1 931.6,575.1 932.4,575.6 933.2,576.7 934.1,576.2 934.9,576.3 935.7,574.7 936.5,575.5 937.4,573.4 938.2,574.3 939.0,574.4 939.8,576.5 940.7,573.0 941.5,570.8 942.3,574.0 943.1,570.9 944.0,571.7 944.8,571.1 945.6,570.1 946.4,572.7 947.3,571.5 948.1,569.7 948.9,570.3 949.7,569.4 950.6,570.5 951.4,569.0 952.2,569.5 953.0,570.6 953.8,571.8 954.7,573.7 955.5,573.1 956.3,575.1 957.1,576.8 957.9,578.4 958.7,575.7 959.5,569.9 960.3,572.4 961.1,571.7 961.9,571.9 962.7,572.7 963.5,570.8 964.3,566.1 965.1,568.7 965.9,567.6 966.7,567.2 967.6,571.7 968.4,571.8 969.3,577.9 970.1,577.5 971.0,583.0 971.9,583.1 972.7,585.3 973.5,581.1 974.4,579.5 975.2,582.3 976.1,580.3 977.0,582.9 977.8,579.7 978.6,579.1 979.5,581.6 980.3,580.7 981.2,582.6 982.0,580.0 982.9,584.7 983.7,582.4 984.6,584.9 985.4,583.1 986.3,583.1 987.1,585.4 987.9,588.7 988.8,593.2 989.6,594.3 990.4,597.5 991.2,600.2 992.1,606.1 992.9,603.7 993.7,601.9 994.5,595.4 995.4,591.4 996.2,585.8 997.0,583.4 997.9,589.8 998.8,599.2 999.6,610.2 1000.5,618.5 1001.3,622.8 1002.1,625.0 1002.9,624.7 1003.8,628.6 1004.6,628.6 1005.4,631.3 1006.2,633.3 1007.1,643.7 1008.1,649.2 1009.0,655.9 1010.0,657.6 1010.9,662.1 1011.9,660.1 1012.8,663.4 1013.8,665.2 1014.6,662.7 1015.4,665.4 1016.2,667.4 1017.1,666.6 1017.9,665.2 1018.7,667.5 1019.5,667.4 1020.4,670.1 1021.2,667.3 1022.1,668.5 1023.0,669.8 1023.8,670.4 1024.7,671.4 1025.5,672.0 1026.4,672.0 1027.3,671.6 1028.1,673.7 1029.0,673.4 1029.9,672.8 1030.7,672.4 1031.6,672.7 1032.4,672.1 1033.3,668.6 1034.2,669.3 1035.0,668.9 1035.9,666.8 1036.7,663.7 1037.6,662.0" fill="none" stroke="#0000ff" stroke-width="3.7" stroke-linejoin="round" stroke-linecap="round" />
<polyline points="166.2,595.1 167.0,587.7 167.8,590.2 168.6,587.5 169.4,586.2 170.2,585.2 171.0,581.4 171.9,582.4 172.7,580.1 173.5,584.2 174.3,578.8 175.1,576.6 175.9,575.3 176.7,573.4 177.5,571.6 178.3,571.1 179.1,570.8 180.0,568.5 180.8,568.7 181.6,565.9 182.4,564.8 183.2,565.4 184.0,562.7 184.8,560.0 185.7,559.1 186.5,558.6 187.3,559.1 188.1,554.8 188.9,553.5 189.7,553.8 190.5,550.0 191.4,549.4 192.2,549.6 193.0,547.8 193.8,545.8 194.6,545.2 195.4,539.3 196.2,543.0 197.1,539.0 197.9,536.7 198.7,537.9 199.5,537.1 200.3,533.9 201.2,531.4 202.0,531.2 202.9,529.4 203.7,529.6 204.6,527.0 205.4,524.6 206.3,524.1 207.1,520.7 208.0,518.4 208.8,519.0 209.7,517.6 210.6,515.2 211.5,513.0 212.3,513.0 213.2,508.0 214.1,510.8 215.0,509.1 215.8,505.0 216.7,505.8 217.5,502.8 218.4,503.3 219.2,498.0 220.1,497.8 220.9,498.2 221.8,497.1 222.6,491.1 223.5,491.5 224.3,490.9 225.1,488.1 225.9,489.3 226.7,484.0 227.6,484.4 228.4,480.9 229.2,482.5 230.0,479.0 230.8,476.1 231.7,472.0 232.5,474.1 233.3,470.5 234.2,468.1 235.0,466.2 235.9,462.8 236.7,459.2 237.6,456.4 238.6,453.9 239.5,454.2 240.3,448.9 241.1,448.4 241.9,447.1 242.8,446.2 243.6,445.0 244.4,441.0 245.2,438.8 246.0,443.4 246.9,447.5 247.7,449.3 248.5,451.1 249.3,452.8 250.2,456.0 251.0,457.8 251.9,459.9 252.9,458.6 253.8,460.6 254.8,461.0 255.7,462.6 256.5,459.0 257.3,458.9 258.1,454.3 258.9,451.2 259.7,443.4 260.5,442.5 261.4,434.3 262.4,428.0 263.3,416.5 264.3,413.1 265.2,405.2 266.0,408.6 266.8,415.6 267.6,422.3 268.4,429.9 269.2,437.2 270.0,445.6 270.8,441.0 271.7,440.5 272.5,438.1 273.4,438.5 274.2,435.5 275.0,434.6 275.9,429.8 276.7,429.3 277.6,431.1 278.4,436.8 279.2,438.4 280.1,439.8 280.9,442.3 281.8,446.2 282.6,447.3 283.5,449.7 284.3,454.2 285.2,459.4 286.0,454.6 286.8,452.9 287.6,450.9 288.4,449.4 289.2,450.5 290.0,449.7 290.8,447.3 291.6,446.5 292.4,445.0 293.2,443.7 294.0,440.3 294.8,440.4 295.6,440.1 296.4,437.8 297.2,437.1 298.1,435.6 298.9,435.1 299.7,435.6 300.5,432.8 301.3,432.1 302.1,432.2 302.9,430.9 303.8,431.2 304.6,425.2 305.4,427.9 306.2,425.1 307.1,425.4 307.9,425.8 308.8,425.6 309.7,425.0 310.5,423.3 311.4,424.7 312.2,421.7 313.1,421.4 314.0,422.1 314.8,419.8 315.7,422.8 316.6,420.5 317.4,421.3 318.3,417.6 319.2,416.4 320.0,416.3 320.9,416.3 321.7,413.8 322.6,414.2 323.5,412.9 324.3,414.3 325.2,410.5 326.1,413.1 326.9,411.2 327.8,411.1 328.6,411.8 329.5,411.5 330.3,413.5 331.2,415.0 332.0,414.2 332.9,415.1 333.8,419.0 334.8,419.7 335.7,422.2 336.7,429.8 337.6,436.3 338.6,447.7 339.6,441.1 340.5,440.8 341.4,436.6 342.4,434.8 343.3,432.6 344.1,431.0 345.0,431.9 345.9,430.0 346.7,429.9 347.6,429.6 348.6,432.9 349.5,436.5 350.5,439.3 351.4,443.7 352.4,444.8 353.2,446.1 354.0,443.4 354.9,445.1 355.7,444.0 356.5,438.5 357.4,439.9 358.2,438.2 359.0,435.7 360.0,430.7 360.9,422.2 361.9,413.4 362.9,408.3 363.8,419.8 364.8,431.6 365.7,441.3 366.5,442.7 367.3,441.9 368.1,438.5 369.0,438.2 369.8,438.0 370.6,436.4 371.4,438.5 372.3,437.7 373.3,437.3 374.2,438.8 375.2,440.9 376.2,449.1 377.1,450.9 378.1,456.4 379.1,478.8 380.0,499.9 380.9,503.6 381.7,500.6 382.6,503.0 383.4,502.9 384.3,504.2 385.2,502.5 386.0,507.0 386.9,505.2 387.7,506.1 388.6,505.5 389.5,504.9 390.3,505.7 391.2,505.4 392.0,504.2 392.9,504.0 393.7,502.5 394.6,500.7 395.4,500.9 396.2,499.7 397.1,498.0 398.0,499.2 398.8,500.1 399.7,498.9 400.6,498.3 401.5,499.9 402.3,501.6 403.2,499.0 404.1,499.4 405.0,499.5 405.8,501.4 406.7,497.6 407.5,498.3 408.3,497.2 409.1,492.4 410.0,493.2 410.8,489.8 411.6,486.3 412.4,485.1 413.3,475.9 414.3,470.3 415.2,466.6 416.2,456.2 417.1,452.9 418.1,459.2 419.0,469.3 420.0,476.8 420.9,482.6 421.9,493.6 422.7,495.6 423.5,495.0 424.3,495.8 425.2,499.1 426.0,498.9 426.8,498.6 427.6,501.0 428.5,504.9 429.3,505.1 430.2,508.8 431.1,511.5 431.9,511.5 432.8,511.9 433.6,513.6 434.5,517.1 435.4,520.2 436.2,521.3 437.1,523.6 438.0,521.5 438.8,521.5 439.7,519.7 440.6,519.0 441.5,516.9 442.3,515.6 443.2,516.2 444.1,514.5 445.0,513.8 445.8,515.0 446.7,513.2 447.5,516.7 448.4,513.8 449.2,511.4 450.1,512.8 450.9,511.9 451.8,510.2 452.6,512.2 453.5,509.4 454.3,506.0 455.1,510.7 456.0,508.5 456.8,510.8 457.7,507.7 458.5,506.6 459.4,509.8 460.2,506.0 461.1,507.3 461.9,508.6 462.8,501.8 463.7,496.4 464.5,491.6 465.4,487.5 466.3,480.2 467.2,477.0 468.0,488.6 468.9,502.5 469.7,510.6 470.6,521.5 471.4,535.3 472.3,522.4 473.1,511.8 474.0,500.2 474.9,490.1 475.8,476.3 476.6,465.6 477.5,451.0 478.5,496.0 479.5,542.0 480.0,621.0 480.8,621.9 481.6,622.2 482.4,625.5 483.2,625.9 484.0,625.1 484.8,628.5 485.8,634.6 486.7,641.9 487.7,646.8 488.6,656.6 489.5,659.9 490.5,664.3 491.4,668.8 492.2,670.3 493.1,672.9 493.9,672.7 494.8,675.6 495.6,676.1 496.5,678.3 497.3,678.7 498.2,678.8 499.0,677.5 499.8,679.7 500.6,679.6 501.4,678.1 502.2,677.9 503.0,675.8 503.8,675.2 504.6,673.8 505.4,676.0 506.2,673.8 507.0,672.2 507.8,670.4 508.6,671.2 509.4,673.7 510.3,672.8 511.1,671.7 512.0,674.9 512.8,675.4 513.7,675.2 514.5,675.4 515.4,676.3 516.2,675.9 517.0,675.4 517.9,672.5 518.7,674.6 519.6,672.1 520.4,673.6 521.3,667.5 522.1,670.2 523.0,669.7 523.8,667.2 524.6,666.9 525.4,666.0 526.2,664.6 527.0,661.8 527.8,661.1 528.6,661.3 529.8,649.8 531.0,636.3 531.8,644.5 532.7,652.8 533.5,662.1 534.4,667.5 535.2,675.4 536.2,681.1 537.1,683.3 538.1,687.8 538.9,688.4 539.7,688.6 540.5,686.3 541.3,688.5 542.1,684.8 542.9,687.6 543.8,684.5 544.6,684.6 545.4,686.8 546.2,685.1 547.0,684.4 547.8,684.5 548.6,685.4 549.5,683.7 550.3,682.7 551.2,683.0 552.1,679.7 552.9,679.0 553.8,677.8 554.6,679.0 555.5,677.7 556.4,677.1 557.2,674.3 558.1,673.1 559.0,673.4 559.8,670.7 560.7,671.3 561.6,670.1 562.4,667.2 563.3,667.0 564.1,665.9 565.0,667.3 565.9,667.3 566.7,662.8 567.6,661.9 568.5,657.0 569.5,658.4 570.5,656.2 571.4,652.9 572.3,642.9 573.3,627.5 574.2,625.4 575.2,622.1 576.2,635.5 577.1,653.5 578.1,639.2 579.0,621.5 580.0,607.0 581.0,595.1 581.9,607.9 582.9,620.0 583.8,634.8 584.8,661.7 585.7,688.3 586.7,716.3 587.5,717.1 588.3,720.2 589.1,721.1 590.0,721.6 590.8,723.5 591.6,725.1 592.4,725.7 593.2,723.4 594.1,726.3 594.9,725.5 595.8,727.7 596.6,726.0 597.5,726.8 598.3,726.7 599.2,728.7 600.0,726.9 600.8,727.1 601.7,728.6 602.5,728.3 603.4,729.8 604.2,730.4 605.1,731.5 605.9,734.3 606.8,732.0 607.6,733.3 608.6,733.8 609.5,735.7 610.5,734.0 611.4,735.4 612.4,737.0 613.4,708.8 614.5,679.0 615.5,649.3 616.5,612.4 617.5,577.8 618.5,615.4 619.5,650.4 620.7,696.7 621.9,743.5 622.9,740.9 623.8,741.0 624.8,740.4 625.7,740.4 626.7,743.5 627.6,745.4 628.6,752.0 629.4,753.1 630.3,751.0 631.1,752.3 632.0,752.5 632.8,753.6 633.7,751.1 634.5,755.6 635.4,753.3 636.2,755.9 637.0,754.7 637.9,754.4 638.7,755.1 639.6,756.7 640.4,754.7 641.3,755.7 642.1,755.9 643.0,754.6 643.8,758.8 644.6,757.6 645.5,756.5 646.3,757.7 647.1,754.7 648.0,755.5 648.8,757.6 649.6,756.3 650.5,751.9 651.3,750.1 652.1,752.8 652.9,755.2 653.8,753.0 654.6,753.0 655.4,753.8 656.3,751.5 657.1,752.7 657.9,753.3 658.8,752.8 659.6,752.7 660.4,751.3 661.3,752.7 662.1,751.3 662.9,753.5 663.7,755.1 664.6,750.7 665.4,748.7 666.2,750.9 667.1,751.9 667.9,752.7 668.7,752.6 669.6,750.1 670.4,750.0 671.2,752.6 672.0,749.5 672.9,752.2 673.7,750.5 674.5,751.7 675.4,751.5 676.2,751.5 677.0,751.4 677.9,748.9 678.7,750.4 679.5,749.9 680.3,750.1 681.2,751.1 682.0,749.0 682.8,748.3 683.6,748.1 684.5,748.4 685.3,749.7 686.1,747.5 686.9,749.9 687.8,748.6 688.6,747.7 689.4,746.1 690.2,748.0 691.1,748.4 691.9,745.1 692.7,748.7 693.5,749.2 694.4,747.3 695.2,747.3 696.0,749.7 696.9,748.0 697.7,745.0 698.5,746.0 699.4,745.7 700.2,745.5 701.0,742.5 701.8,746.4 702.7,744.4 703.5,745.3 704.3,744.7 705.2,745.8 706.0,744.2 706.8,743.4 707.7,744.9 708.5,745.9 709.3,743.5 710.1,745.5 711.0,743.9 711.8,742.7 712.6,745.2 713.5,742.0 714.3,744.2 715.1,741.7 715.9,742.5 716.7,739.7 717.5,739.7 718.3,741.7 719.1,740.1 720.0,739.3 720.8,738.2 721.6,738.8 722.4,735.9 723.2,735.8 724.0,736.5 724.8,735.1 725.6,736.4 726.4,738.3 727.3,739.2 728.1,740.2 728.9,743.7 729.8,744.0 730.6,745.3 731.4,744.8 732.2,744.0 733.0,742.6 733.8,743.9 734.6,741.5 735.4,743.3 736.2,744.9 737.1,745.9 737.9,744.9 738.7,742.4 739.5,744.0 740.3,742.2 741.1,744.1 741.9,742.8 742.7,743.9 743.5,746.0 744.3,743.7 745.1,745.3 745.9,742.4 746.7,741.6 747.6,743.6 748.4,744.0 749.2,740.9 750.0,741.5 750.8,739.4 751.6,740.9 752.4,742.2 753.2,741.1 754.1,740.6 754.9,739.7 755.8,742.1 756.6,742.9 757.5,742.8 758.3,742.5 759.2,740.7 760.0,744.8 760.8,742.2 761.6,741.8 762.4,742.6 763.2,738.6 764.0,741.0 764.8,740.7 765.6,741.1 766.4,742.1 767.2,740.6 768.0,737.4 768.8,739.0 769.6,739.5 770.4,739.1 771.2,737.0 772.0,736.2 772.8,738.8 773.6,738.3 774.4,737.5 775.2,735.0 776.0,739.3 776.8,733.0 777.6,736.0 778.5,738.9 779.3,735.7 780.1,736.0 780.9,733.9 781.8,736.9 782.6,733.2 783.4,735.0 784.2,734.6 785.1,732.8 785.9,735.0 786.7,731.8 787.5,732.4 788.4,733.0 789.2,732.3 790.0,733.2 790.8,733.5 791.7,731.6 792.5,731.1 793.3,730.8 794.1,730.8 794.9,732.1 795.8,730.6 796.6,731.1 797.4,730.3 798.2,729.1 799.0,731.1 799.8,728.4 800.6,729.5 801.5,731.2 802.3,727.6 803.1,728.8 803.9,726.6 804.7,727.7 805.5,726.2 806.4,727.5 807.2,727.0 808.0,727.7 808.9,726.7 809.9,722.2 810.8,719.8 811.8,716.1 812.7,713.0 813.6,714.9 814.5,716.3 815.5,721.4 816.4,726.1 817.3,727.3 818.2,725.8 819.0,728.4 819.9,725.4 820.7,724.9 821.6,723.9 822.4,724.0 823.3,724.7 824.1,727.3 825.0,724.2 825.8,722.9 826.7,723.2 827.5,723.5 828.3,721.4 829.1,723.5 830.0,724.1 830.8,723.4 831.6,723.5 832.4,720.9 833.2,720.1 834.0,723.8 834.9,723.3 835.7,719.7 836.5,721.8 837.3,721.3 838.1,722.1 838.9,721.8 839.8,721.0 840.6,722.0 841.4,722.0 842.2,721.9 843.1,719.6 843.9,718.3 844.7,721.2 845.5,720.3 846.4,722.8 847.2,723.5 848.0,723.0 848.8,720.3 849.6,718.9 850.4,718.4 851.2,714.0 852.1,714.2 852.9,712.0 853.7,709.5 854.5,709.1 855.3,704.4 856.1,708.5 857.0,708.1 857.8,710.3 858.6,711.9 859.5,715.9 860.3,716.1 861.2,719.4 862.0,719.8 862.9,723.0 863.8,724.3 864.6,722.5 865.5,724.7 866.4,723.6 867.2,726.0 868.1,723.6 869.0,721.8 869.8,725.4 870.6,723.0 871.4,721.5 872.2,721.7 873.0,720.1 873.8,721.7 874.6,720.2 875.4,723.2 876.2,721.8 877.0,718.5 877.8,718.4 878.6,719.3 879.5,717.4 880.3,719.7 881.2,719.7 882.1,718.6 882.9,718.8 883.8,720.1 884.6,721.2 885.5,721.2 886.4,719.2 887.2,720.2 888.1,718.0 888.9,719.2 889.8,717.0 890.6,718.9 891.4,716.0 892.3,716.0 893.1,716.9 893.9,717.2 894.8,714.3 895.6,715.1 896.4,715.6 897.2,715.4 898.1,713.6 898.9,714.5 899.7,713.7 900.6,715.5 901.4,714.0 902.4,709.2 903.3,705.7 904.2,706.3 905.2,705.3 906.2,705.7 907.1,708.3 908.0,708.2 909.0,708.7 909.8,711.2 910.6,710.0 911.5,710.4 912.3,707.4 913.1,709.1 913.9,707.8 914.7,709.3 915.6,707.2 916.4,706.8 917.2,706.5 918.0,708.6 918.8,706.7 919.6,705.4 920.5,704.7 921.3,704.4 922.1,707.3 922.9,702.7 923.7,703.7 924.6,705.3 925.4,705.7 926.2,703.6 927.0,704.4 927.9,704.0 928.7,704.0 929.6,702.4 930.4,704.1 931.3,701.8 932.1,703.2 933.0,699.4 933.8,701.7 934.6,698.5 935.5,697.8 936.3,700.0 937.2,697.9 938.0,699.2 938.9,696.9 939.7,700.0 940.6,697.5 941.4,695.7 942.2,696.7 943.0,697.0 943.8,694.3 944.6,695.3 945.4,696.7 946.2,694.5 947.0,692.7 947.8,691.4 948.6,692.2 949.4,688.9 950.2,686.3 951.0,688.7 951.8,689.2 952.6,694.0 953.4,693.0 954.3,692.6 955.1,693.5 955.9,696.7 956.7,696.1 957.5,694.9 958.4,694.0 959.2,692.6 960.0,691.1 960.8,689.6 961.7,689.6 962.5,688.5 963.3,682.6 964.1,686.5 965.0,681.8 965.8,681.7 966.7,682.6 967.5,687.5 968.4,690.9 969.3,694.2 970.1,698.7 971.0,701.9 971.8,699.3 972.6,700.0 973.5,700.6 974.3,700.0 975.1,698.2 976.0,697.8 976.8,697.5 977.6,695.8 978.5,695.9 979.3,700.0 980.2,697.9 981.0,698.9 981.9,698.2 982.8,701.2 983.6,702.2 984.5,700.0 985.3,701.4 986.2,700.1 987.2,707.6 988.1,710.7 989.1,712.5 990.0,719.4 991.0,722.5 991.8,717.6 992.6,712.7 993.4,706.4 994.3,701.7 995.1,698.3 995.9,692.5 996.7,686.5 997.6,702.4 998.6,711.6 999.5,723.2 1000.5,733.8 1001.4,746.4 1002.4,757.6 1003.3,757.6 1004.3,759.3 1005.1,762.0 1005.9,769.1 1006.7,774.7 1007.6,781.1 1008.4,787.4 1009.2,789.8 1010.0,802.2 1010.8,797.3 1011.6,799.2 1012.4,800.1 1013.3,800.4 1014.1,799.8 1014.9,796.0 1015.7,798.7 1016.5,801.7 1017.3,800.2 1018.1,800.8 1019.0,799.7 1019.8,805.1 1020.6,804.8 1021.4,803.7 1022.2,805.2 1023.1,805.7 1023.9,804.8 1024.8,806.4 1025.6,807.5 1026.4,808.4 1027.3,809.8 1028.1,808.7 1029.0,806.4 1029.8,805.9 1030.7,802.9 1031.6,800.4 1032.4,801.9 1033.3,798.3 1034.1,797.3 1035.0,796.3 1035.9,792.4 1036.7,793.0 1037.6,791.1" fill="none" stroke="#000" stroke-width="3.6" stroke-linejoin="round" stroke-linecap="round" />
<path d="M237.8,477.2 V503.8 M237.8,490.5 H299.9 M299.9,477.2 V503.8" stroke="#3c3c3c" stroke-width="2.3" fill="none"/>
<text x="0" y="0" transform="translate(232.2,528.6) scale(1,1.05)" font-size="27" text-anchor="start" >O KLL</text>
<path d="M252.7,554.5 V581.1 M252.7,567.8 H332.2 M332.2,554.5 V581.1" stroke="#3c3c3c" stroke-width="2.3" fill="none"/>
<text x="0" y="0" transform="translate(248.0,609.3) scale(1,1.05)" font-size="27" text-anchor="start" >Cr LMM</text>
<path d="M303.5,632.3 V658.9 M303.5,645.6 H357.9 M357.9,632.3 V658.9" stroke="#3c3c3c" stroke-width="2.3" fill="none"/>
<text x="0" y="0" transform="translate(281.3,690.5) scale(1,1.05)" font-size="27" text-anchor="start" >Mn LMM</text>
<path d="M317.9,700.0 V726.6 M317.9,713.3 H408.0 M408.0,700.0 V726.6" stroke="#3c3c3c" stroke-width="2.3" fill="none"/>
<text x="0" y="0" transform="translate(314.1,755.3) scale(1,1.05)" font-size="27" text-anchor="start" >Fe LMM</text>
<path d="M409.9,771.2 V797.8 M409.9,784.5 H534.7 M534.7,771.2 V797.8" stroke="#3c3c3c" stroke-width="2.3" fill="none"/>
<text x="0" y="0" transform="translate(435.3,820.0) scale(1,1.05)" font-size="27" text-anchor="start" >Ni LMM</text>
<text x="0" y="0" font-size="26.5" transform="translate(370.0,524.7) rotate(-90) scale(1,1.05)" >Ni 2p</text>
<text x="0" y="0" font-size="26.5" transform="translate(475.0,633.2) rotate(-90) scale(1,1.05)" >Fe 2p</text>
<text x="0" y="0" font-size="26.5" transform="translate(533.5,633.2) rotate(-90) scale(1,1.05)" >Mn 2p</text>
<text x="0" y="0" font-size="26.5" transform="translate(576.0,630.3) rotate(-90) scale(1,1.05)" >Cr 2p</text>
<text x="0" y="0" font-size="26.5" transform="translate(613.0,339.6) rotate(-90) scale(1,1.05)" >O 1s</text>
<text x="0" y="0" font-size="26.5" transform="translate(721.5,730.5) rotate(-90) scale(1,1.05)" >N 1s,</text>
<text x="0" y="0" font-size="26.5" transform="translate(752.5,730.5) rotate(-90) scale(1,1.05)" >Mo 3p</text>
<text x="0" y="0" font-size="26.5" transform="translate(824.0,339.6) rotate(-90) scale(1,1.05)" >C 1s</text>
<text x="0" y="0" font-size="26.5" transform="translate(953.5,339.5) rotate(-90) scale(1,1.05)" >Si 2p</text>
<text x="0" y="0" font-size="26.5" transform="translate(862.0,702.6) rotate(-90) scale(1,1.05)" >Mo 3d</text>
<text x="0" y="0" font-size="26.5" transform="translate(912.5,695.2) rotate(-90) scale(1,1.05)" >S 2p</text>
<text x="0" y="0" font-size="27" transform="translate(979.0,675.5) rotate(-90) scale(1,1.05)" >Fe 3s</text>
<text x="0" y="0" font-size="27.5" transform="translate(1006.5,685.9) rotate(-90) scale(1,1.05)" >Fe 3p</text>
<text x="0" y="0" font-size="26.5" transform="translate(1029.5,792.3) rotate(-90) scale(1,1.05)" >O 2s</text>
<text x="0" y="0" font-size="26.5" transform="translate(1002.3,837.3) rotate(-90) scale(1,1.05)" >Cr 3p</text>
<rect x="47.1" y="1045" width="462.4" height="793.3" fill="none" stroke="#000" stroke-width="3"/>
<line x1="472.5" y1="1838.3" x2="472.5" y2="1850.3" stroke="#000" stroke-width="3" />
<line x1="437.0" y1="1838.3" x2="437.0" y2="1850.3" stroke="#000" stroke-width="3" />
<line x1="401.5" y1="1838.3" x2="401.5" y2="1850.3" stroke="#000" stroke-width="3" />
<line x1="366.0" y1="1838.3" x2="366.0" y2="1850.3" stroke="#000" stroke-width="3" />
<line x1="330.5" y1="1838.3" x2="330.5" y2="1859.3" stroke="#000" stroke-width="3" />
<text x="0" y="0" transform="translate(330.5,1898.0) scale(1,1.05)" font-size="34" text-anchor="middle" >285</text>
<line x1="295.0" y1="1838.3" x2="295.0" y2="1850.3" stroke="#000" stroke-width="3" />
<line x1="259.5" y1="1838.3" x2="259.5" y2="1850.3" stroke="#000" stroke-width="3" />
<line x1="224.0" y1="1838.3" x2="224.0" y2="1850.3" stroke="#000" stroke-width="3" />
<line x1="188.5" y1="1838.3" x2="188.5" y2="1850.3" stroke="#000" stroke-width="3" />
<line x1="153.0" y1="1838.3" x2="153.0" y2="1859.3" stroke="#000" stroke-width="3" />
<text x="0" y="0" transform="translate(153.0,1898.0) scale(1,1.05)" font-size="34" text-anchor="middle" >290</text>
<line x1="117.5" y1="1838.3" x2="117.5" y2="1850.3" stroke="#000" stroke-width="3" />
<line x1="82.0" y1="1838.3" x2="82.0" y2="1850.3" stroke="#000" stroke-width="3" />
<line x1="46.5" y1="1838.3" x2="46.5" y2="1850.3" stroke="#000" stroke-width="3" />
<text x="0" y="0" transform="translate(278.3,1932.0) scale(1,1.05)" font-size="34.5" text-anchor="middle" >Binding Energy (eV)</text>
<text x="0" y="0" transform="translate(50.9,1028.0) scale(1,1.05)" font-size="34" text-anchor="start" >(b)</text>
<text x="0" y="0" transform="translate(51.0,1085.4) scale(1,1.05)" font-size="36.5" text-anchor="start" >C 1s</text>
<text x="0" y="0" transform="translate(50.0,1148.0) scale(1,1.05)" font-size="36.5" text-anchor="start" >h</text>
<text x="0" y="0" transform="translate(72.9,1148.0) scale(1,1.05)" font-size="29" text-anchor="start" >ν</text>
<text x="0" y="0" transform="translate(99.2,1148.0) scale(1,1.05)" font-size="36.5" text-anchor="start" >= 430 eV</text>
<text x="0" y="0" transform="translate(50.3,1315.5) scale(1,1.05)" font-size="34" text-anchor="start" >SS-SPC</text>
<text x="0" y="0" transform="translate(50.4,1354.5) scale(1,1.05)" font-size="34" text-anchor="start" >5 mg/ml</text>
<text x="0" y="0" transform="translate(56.8,1759.4) scale(1,1.05)" font-size="33" text-anchor="start" >SS-EC</text>
<text x="0" y="0" font-size="34.6" transform="translate(35.0,1580.9) rotate(-90) scale(1,1.05)" >PES intensity (a.u.)</text>
<g>
<rect x="378.4" y="1077.7" width="114.8" height="114.5" fill="url(#gg)"/>
<rect x="378.4" y="1055.7" width="114.8" height="22" fill="#3a2d8d"/>
<path d="M412.30,1056.20 L413.79,1057.38 L415.20,1058.56 L416.51,1059.74 L417.75,1060.92 L418.92,1062.10 L420.01,1063.28 L421.04,1064.46 L422.01,1065.64 L422.92,1066.82 L423.77,1067.99 L424.57,1069.17 L425.33,1070.35 L426.03,1071.53 L426.70,1072.71 L427.33,1073.89 L427.91,1075.07 L428.47,1076.25 L428.99,1077.43 L429.48,1078.61 L429.93,1079.79 L430.37,1080.97 L430.77,1082.15 L431.15,1083.33 L431.51,1084.51 L431.85,1085.69 L432.16,1086.87 L432.46,1088.05 L432.74,1089.23 L433.00,1090.41 L433.25,1091.58 L433.48,1092.76 L433.70,1093.94 L433.90,1095.12 L434.10,1096.30 L434.28,1097.48 L434.45,1098.66 L434.61,1099.84 L434.76,1101.02 L434.90,1102.20 L437.30,1102.20 L437.44,1101.02 L437.59,1099.84 L437.75,1098.66 L437.92,1097.48 L438.10,1096.30 L438.30,1095.12 L438.50,1093.94 L438.72,1092.76 L438.95,1091.58 L439.20,1090.41 L439.46,1089.23 L439.74,1088.05 L440.04,1086.87 L440.35,1085.69 L440.69,1084.51 L441.05,1083.33 L441.43,1082.15 L441.83,1080.97 L442.27,1079.79 L442.72,1078.61 L443.21,1077.43 L443.73,1076.25 L444.29,1075.07 L444.87,1073.89 L445.50,1072.71 L446.17,1071.53 L446.87,1070.35 L447.63,1069.17 L448.43,1067.99 L449.28,1066.82 L450.19,1065.64 L451.16,1064.46 L452.19,1063.28 L453.28,1062.10 L454.45,1060.92 L455.69,1059.74 L457.00,1058.56 L458.41,1057.38 L459.90,1056.20 Z" fill="#17a6e3" stroke="#000" stroke-width="1.4" stroke-linejoin="round"/>
<line x1="436.1" y1="1099.7" x2="436.1" y2="1127.2" stroke="#000" stroke-width="3" stroke-linecap="round"/>
<line x1="378.4" y1="1077.7" x2="493.2" y2="1077.7" stroke="#120c2a" stroke-width="1.8" />
<line x1="378.4" y1="1056.2" x2="493.2" y2="1056.2" stroke="#111" stroke-width="1.8" />
<rect x="378.4" y="1055.7" width="114.8" height="136.5" fill="none" stroke="#444" stroke-width="1.8"/>
<text x="0" y="0" transform="translate(381.3,1074.6) scale(1,1.05)" font-size="15.5" text-anchor="start" font-weight="bold" style="fill:#cfc9ef">SPC</text>
<text x="0" y="0" transform="translate(381.3,1100.0) scale(1,1.05)" font-size="15.5" text-anchor="start" font-weight="bold" style="fill:#e4e4e4">SS-</text>
<text x="0" y="0" transform="translate(380.7,1118.0) scale(1,1.05)" font-size="15.5" text-anchor="start" font-weight="bold" style="fill:#e8e8e8">EC</text>
<text x="0" y="0" transform="translate(381.3,1153.2) scale(1,1.05)" font-size="15.5" text-anchor="start" font-weight="bold" style="fill:#eeeeee">SS</text>
</g>
<polyline points="47.0,1476.5 509.0,1479.8" fill="none" stroke="#000" stroke-width="1.4" stroke-linejoin="round" stroke-linecap="round" />
<polyline points="47.0,1782.2 51.0,1782.2 55.0,1782.2 59.0,1782.2 63.0,1782.3 67.0,1782.3 71.0,1782.3 75.0,1782.3 79.0,1782.3 83.0,1782.3 87.0,1782.3 91.0,1782.4 95.0,1782.4 99.0,1782.4 103.0,1782.4 107.0,1782.4 111.0,1782.4 115.0,1782.4 119.0,1782.4 123.0,1782.5 127.0,1782.5 131.0,1782.5 135.0,1782.5 139.0,1782.5 143.0,1782.5 147.0,1782.5 151.0,1782.6 155.0,1782.6 159.0,1782.6 163.0,1782.6 167.0,1782.6 171.0,1782.6 175.0,1782.6 179.0,1782.7 183.0,1782.7 187.0,1782.7 191.0,1782.7 195.0,1782.7 199.0,1782.7 203.0,1782.7 207.0,1782.8 211.0,1782.8 215.0,1782.8 219.0,1782.8 223.0,1782.8 227.0,1782.8 231.0,1782.8 235.0,1782.8 239.0,1782.9 243.0,1782.9 247.0,1782.9 251.0,1782.9 255.0,1782.9 259.0,1783.0 263.0,1783.0 267.0,1783.0 271.0,1783.1 275.0,1783.1 279.0,1783.1 283.0,1783.1 287.0,1783.2 291.0,1783.2 295.0,1783.2 299.0,1783.3 303.0,1783.3 307.0,1783.3 311.0,1783.3 315.0,1783.4 319.0,1783.4 323.0,1783.4 327.0,1783.5 331.0,1783.5 335.0,1783.5 339.0,1783.6 343.0,1783.6 347.0,1783.6 351.0,1783.6 355.0,1783.7 359.0,1783.7 363.0,1783.7 367.0,1783.8 371.0,1783.8 375.0,1783.8 379.0,1783.8 383.0,1783.9 387.0,1783.9 391.0,1783.9 395.0,1784.0 399.0,1784.0 403.0,1784.0 407.0,1784.1 411.0,1784.1 415.0,1784.1 419.0,1784.1 423.0,1784.2 427.0,1784.2 431.0,1784.2 435.0,1784.3 439.0,1784.3 443.0,1784.3 447.0,1784.3 451.0,1784.4 455.0,1784.4 459.0,1784.4 463.0,1784.5 467.0,1784.5 471.0,1784.5 475.0,1784.6 479.0,1784.6 483.0,1784.6 487.0,1784.6 491.0,1784.7 495.0,1784.7 499.0,1784.7 503.0,1784.8 507.0,1784.8" fill="none" stroke="#000" stroke-width="1.4" stroke-linejoin="round" stroke-linecap="round" />
<polyline points="119.0,1476.7 120.0,1476.6 121.0,1476.6 122.0,1476.5 123.0,1476.5 124.0,1476.4 125.0,1476.4 126.0,1476.3 127.0,1476.3 128.0,1476.2 129.0,1476.1 130.0,1476.0 131.0,1475.9 132.0,1475.8 133.0,1475.7 134.0,1475.6 135.0,1475.4 136.0,1475.3 137.0,1475.1 138.0,1474.9 139.0,1474.7 140.0,1474.5 141.0,1474.3 142.0,1474.1 143.0,1473.8 144.0,1473.6 145.0,1473.3 146.0,1473.0 147.0,1472.6 148.0,1472.3 149.0,1471.9 150.0,1471.5 151.0,1471.1 152.0,1470.6 153.0,1470.2 154.0,1469.7 155.0,1469.2 156.0,1468.6 157.0,1468.0 158.0,1467.4 159.0,1466.8 160.0,1466.1 161.0,1465.4 162.0,1464.7 163.0,1464.0 164.0,1463.2 165.0,1462.4 166.0,1461.5 167.0,1460.7 168.0,1459.8 169.0,1458.8 170.0,1457.9 171.0,1456.9 172.0,1455.9 173.0,1454.8 174.0,1453.8 175.0,1452.7 176.0,1451.6 177.0,1450.5 178.0,1449.3 179.0,1448.2 180.0,1447.0 181.0,1445.8 182.0,1444.6 183.0,1443.4 184.0,1442.2 185.0,1441.0 186.0,1439.8 187.0,1438.5 188.0,1437.3 189.0,1436.1 190.0,1435.0 191.0,1433.8 192.0,1432.6 193.0,1431.5 194.0,1430.4 195.0,1429.3 196.0,1428.2 197.0,1427.2 198.0,1426.2 199.0,1425.3 200.0,1424.4 201.0,1423.5 202.0,1422.7 203.0,1421.9 204.0,1421.2 205.0,1420.6 206.0,1420.0 207.0,1419.4 208.0,1418.9 209.0,1418.5 210.0,1418.1 211.0,1417.8 212.0,1417.6 213.0,1417.4 214.0,1417.3 215.0,1417.3 216.0,1417.3 217.0,1417.5 218.0,1417.7 219.0,1418.0 220.0,1418.4 221.0,1418.9 222.0,1419.4 223.0,1420.1 224.0,1420.8 225.0,1421.6 226.0,1422.5 227.0,1423.4 228.0,1424.4 229.0,1425.4 230.0,1426.6 231.0,1427.7 232.0,1428.9 233.0,1430.2 234.0,1431.5 235.0,1432.8 236.0,1434.1 237.0,1435.5 238.0,1436.9 239.0,1438.3 240.0,1439.7 241.0,1441.1 242.0,1442.5 243.0,1443.9 244.0,1445.3 245.0,1446.7 246.0,1448.1 247.0,1449.5 248.0,1450.8 249.0,1452.1 250.0,1453.4 251.0,1454.7 252.0,1455.9 253.0,1457.1 254.0,1458.3 255.0,1459.4 256.0,1460.5 257.0,1461.5 258.0,1462.5 259.0,1463.5 260.0,1464.4 261.0,1465.3 262.0,1466.2 263.0,1467.0 264.0,1467.7 265.0,1468.5 266.0,1469.2 267.0,1469.8 268.0,1470.5 269.0,1471.0 270.0,1471.6 271.0,1472.1 272.0,1472.6 273.0,1473.1 274.0,1473.5 275.0,1473.9 276.0,1474.2 277.0,1474.6 278.0,1474.9 279.0,1475.2 280.0,1475.5 281.0,1475.7 282.0,1476.0 283.0,1476.2 284.0,1476.4 285.0,1476.6 286.0,1476.7 287.0,1476.9 288.0,1477.0 289.0,1477.2 290.0,1477.3 291.0,1477.4 292.0,1477.5 293.0,1477.6 294.0,1477.7 295.0,1477.7 296.0,1477.8 297.0,1477.9 298.0,1477.9" fill="none" stroke="#0000ff" stroke-width="2.4" stroke-linejoin="round" stroke-linecap="round" />
<polyline points="202.0,1477.2 203.0,1477.1 204.0,1477.0 205.0,1476.9 206.0,1476.8 207.0,1476.7 208.0,1476.5 209.0,1476.4 210.0,1476.2 211.0,1475.9 212.0,1475.6 213.0,1475.3 214.0,1474.9 215.0,1474.5 216.0,1474.0 217.0,1473.5 218.0,1472.9 219.0,1472.2 220.0,1471.4 221.0,1470.5 222.0,1469.6 223.0,1468.5 224.0,1467.2 225.0,1465.9 226.0,1464.4 227.0,1462.7 228.0,1460.9 229.0,1458.9 230.0,1456.7 231.0,1454.3 232.0,1451.7 233.0,1448.9 234.0,1445.8 235.0,1442.5 236.0,1438.9 237.0,1435.1 238.0,1431.0 239.0,1426.6 240.0,1421.9 241.0,1416.9 242.0,1411.6 243.0,1406.1 244.0,1400.2 245.0,1394.1 246.0,1387.6 247.0,1380.9 248.0,1374.0 249.0,1366.8 250.0,1359.3 251.0,1351.7 252.0,1343.8 253.0,1335.8 254.0,1327.7 255.0,1319.4 256.0,1311.1 257.0,1302.7 258.0,1294.3 259.0,1286.0 260.0,1277.7 261.0,1269.6 262.0,1261.6 263.0,1253.8 264.0,1246.3 265.0,1239.0 266.0,1232.1 267.0,1225.5 268.0,1219.4 269.0,1213.7 270.0,1208.5 271.0,1203.8 272.0,1199.7 273.0,1196.2 274.0,1193.2 275.0,1190.9 276.0,1189.2 277.0,1188.1 278.0,1187.8 279.0,1188.0 280.0,1189.0 281.0,1190.5 282.0,1192.7 283.0,1195.6 284.0,1199.0 285.0,1203.1 286.0,1207.6 287.0,1212.8 288.0,1218.4 289.0,1224.4 290.0,1230.9 291.0,1237.8 292.0,1245.0 293.0,1252.5 294.0,1260.2 295.0,1268.2 296.0,1276.3 297.0,1284.6 298.0,1292.9 299.0,1301.3 300.0,1309.7 301.0,1318.1 302.0,1326.4 303.0,1334.5 304.0,1342.6 305.0,1350.5 306.0,1358.2 307.0,1365.7 308.0,1373.0 309.0,1380.0 310.0,1386.8 311.0,1393.3 312.0,1399.5 313.0,1405.4 314.0,1411.0 315.0,1416.4 316.0,1421.4 317.0,1426.2 318.0,1430.7 319.0,1434.9 320.0,1438.8 321.0,1442.4 322.0,1445.8 323.0,1448.9 324.0,1451.8 325.0,1454.5 326.0,1457.0 327.0,1459.2 328.0,1461.3 329.0,1463.1 330.0,1464.8 331.0,1466.4 332.0,1467.8 333.0,1469.0 334.0,1470.1 335.0,1471.2 336.0,1472.1 337.0,1472.9 338.0,1473.6 339.0,1474.3 340.0,1474.8 341.0,1475.3 342.0,1475.8 343.0,1476.2 344.0,1476.5 345.0,1476.8 346.0,1477.1 347.0,1477.3 348.0,1477.5 349.0,1477.7 350.0,1477.8 351.0,1478.0 352.0,1478.1 353.0,1478.2 354.0,1478.3 355.0,1478.3" fill="none" stroke="#ff0000" stroke-width="2.4" stroke-linejoin="round" stroke-linecap="round" />
<polyline points="260.0,1477.6 261.0,1477.6 262.0,1477.5 263.0,1477.4 264.0,1477.3 265.0,1477.1 266.0,1477.0 267.0,1476.8 268.0,1476.6 269.0,1476.3 270.0,1476.0 271.0,1475.7 272.0,1475.3 273.0,1474.8 274.0,1474.3 275.0,1473.7 276.0,1473.0 277.0,1472.2 278.0,1471.4 279.0,1470.4 280.0,1469.3 281.0,1468.1 282.0,1466.7 283.0,1465.2 284.0,1463.5 285.0,1461.6 286.0,1459.5 287.0,1457.2 288.0,1454.7 289.0,1452.0 290.0,1449.0 291.0,1445.8 292.0,1442.3 293.0,1438.5 294.0,1434.5 295.0,1430.2 296.0,1425.6 297.0,1420.6 298.0,1415.4 299.0,1409.9 300.0,1404.1 301.0,1398.0 302.0,1391.7 303.0,1385.1 304.0,1378.2 305.0,1371.1 306.0,1363.8 307.0,1356.4 308.0,1348.7 309.0,1341.0 310.0,1333.2 311.0,1325.3 312.0,1317.4 313.0,1309.6 314.0,1301.8 315.0,1294.2 316.0,1286.7 317.0,1279.4 318.0,1272.4 319.0,1265.7 320.0,1259.4 321.0,1253.4 322.0,1247.9 323.0,1242.9 324.0,1238.4 325.0,1234.4 326.0,1231.0 327.0,1228.2 328.0,1226.1 329.0,1224.6 330.0,1223.7 331.0,1223.5 332.0,1224.0 333.0,1225.1 334.0,1226.9 335.0,1229.3 336.0,1232.4 337.0,1236.0 338.0,1240.2 339.0,1245.0 340.0,1250.2 341.0,1255.9 342.0,1262.0 343.0,1268.5 344.0,1275.4 345.0,1282.5 346.0,1289.9 347.0,1297.4 348.0,1305.1 349.0,1313.0 350.0,1320.8 351.0,1328.7 352.0,1336.6 353.0,1344.4 354.0,1352.1 355.0,1359.7 356.0,1367.1 357.0,1374.4 358.0,1381.4 359.0,1388.1 360.0,1394.7 361.0,1400.9 362.0,1406.9 363.0,1412.6 364.0,1418.0 365.0,1423.1 366.0,1427.9 367.0,1432.5 368.0,1436.7 369.0,1440.6 370.0,1444.3 371.0,1447.7 372.0,1450.8 373.0,1453.7 374.0,1456.4 375.0,1458.8 376.0,1461.0 377.0,1463.0 378.0,1464.8 379.0,1466.5 380.0,1468.0 381.0,1469.3 382.0,1470.5 383.0,1471.5 384.0,1472.5 385.0,1473.3 386.0,1474.1 387.0,1474.7 388.0,1475.3 389.0,1475.8 390.0,1476.3 391.0,1476.7 392.0,1477.0 393.0,1477.3 394.0,1477.6 395.0,1477.8 396.0,1478.0 397.0,1478.2 398.0,1478.3 399.0,1478.4 400.0,1478.5 401.0,1478.6" fill="none" stroke="#000" stroke-width="1.6" stroke-linejoin="round" stroke-linecap="round" />
<polyline points="48.0,1475.1 49.5,1475.3 50.9,1474.9 52.4,1474.6 53.8,1474.8 55.3,1474.5 56.7,1475.1 58.2,1475.9 59.6,1474.8 61.1,1474.7 62.5,1475.4 64.0,1475.3 65.4,1475.2 66.9,1474.5 68.3,1475.1 69.8,1475.5 71.2,1474.3 72.7,1474.8 74.1,1474.0 75.6,1474.3 77.0,1474.0 78.5,1475.0 79.9,1474.3 81.4,1475.3 82.8,1475.2 84.3,1475.0 85.7,1473.6 87.2,1474.8 88.6,1475.1 90.1,1475.2 91.5,1474.2 93.0,1474.8 94.4,1474.5 95.9,1474.6 97.3,1475.7 98.8,1474.6 100.2,1475.0 101.7,1475.6 103.1,1474.7 104.6,1475.0 106.0,1475.1 107.5,1475.1 108.9,1474.3 110.4,1475.0 111.8,1475.8 113.3,1474.0 114.7,1475.4 116.2,1474.9 117.6,1474.4 119.1,1475.9 120.5,1475.1 122.0,1473.8 123.4,1474.5 124.9,1474.7 126.3,1474.1 127.8,1474.5 129.2,1473.9 130.7,1474.2 132.1,1474.4 133.6,1472.8 135.0,1472.9 136.5,1472.0 137.9,1471.8 139.4,1470.4 140.8,1470.3 142.3,1470.0 143.7,1470.1 145.2,1469.8 146.6,1467.8 148.1,1467.5 149.5,1467.8 151.0,1465.6 152.4,1465.9 153.9,1465.4 155.3,1465.4 156.8,1464.3 158.2,1462.8 159.7,1461.9 161.1,1461.0 162.6,1461.1 164.0,1458.9 165.5,1458.0 166.9,1457.4 168.4,1456.0 169.8,1454.8 171.3,1453.1 172.7,1452.6 174.2,1451.1 175.6,1450.7 177.1,1449.0 178.5,1447.0 180.0,1445.8 181.4,1443.6 182.9,1442.7 184.3,1440.3 185.8,1438.9 187.2,1436.0 188.7,1435.0 190.1,1431.9 191.6,1429.8 193.0,1429.1 194.5,1427.1 195.9,1426.1 197.4,1425.8 198.8,1422.4 200.3,1421.1 201.7,1420.3 203.2,1419.3 204.6,1417.8 206.1,1416.8 207.5,1416.4 209.0,1415.4 210.4,1413.7 211.9,1413.5 213.3,1412.9 214.8,1411.6 216.2,1411.8 217.7,1410.6 219.1,1411.2 220.6,1410.2 222.0,1409.5 223.5,1408.5 224.9,1408.0 226.4,1406.2 227.8,1406.0 229.3,1406.0 230.7,1403.6 232.2,1404.2 233.6,1401.2 235.1,1400.8 236.5,1397.4 238.0,1395.1 239.4,1390.2 240.9,1381.6 242.3,1375.1 243.8,1366.5 245.2,1357.5 246.7,1351.1 248.1,1345.4 249.6,1337.7 251.0,1328.0 252.5,1313.2 253.9,1299.6 255.4,1286.3 256.8,1273.4 258.3,1258.6 259.7,1247.2 261.2,1236.0 262.6,1227.5 264.1,1218.4 265.5,1210.2 267.0,1202.8 268.4,1194.5 269.9,1187.0 271.3,1180.5 272.8,1175.1 274.2,1170.8 275.7,1168.5 277.1,1168.1 278.6,1165.9 280.0,1165.2 281.5,1165.7 282.9,1166.9 284.4,1167.7 285.8,1172.7 287.3,1179.4 288.7,1184.4 290.2,1191.2 291.6,1196.0 293.1,1201.3 294.5,1206.4 296.0,1212.7 297.4,1217.5 298.9,1222.6 300.3,1226.3 301.8,1230.3 303.2,1235.4 304.7,1236.9 306.1,1239.3 307.6,1240.5 309.0,1240.7 310.5,1239.6 311.9,1238.5 313.4,1234.8 314.8,1230.6 316.3,1226.9 317.7,1224.0 319.2,1220.2 320.6,1216.5 322.1,1212.1 323.5,1208.1 325.0,1207.0 326.4,1205.0 327.9,1204.0 329.3,1205.4 330.8,1207.2 332.2,1209.3 333.7,1212.4 335.1,1215.2 336.6,1220.4 338.0,1223.6 339.5,1230.4 340.9,1237.0 342.4,1245.3 343.8,1255.9 345.3,1266.1 346.7,1275.0 348.2,1284.7 349.6,1296.1 351.1,1307.2 352.5,1322.0 354.0,1338.8 355.4,1352.7 356.9,1364.0 358.3,1375.4 359.8,1385.1 361.2,1394.3 362.7,1404.3 364.1,1413.7 365.6,1419.0 367.0,1424.3 368.5,1428.3 369.9,1432.1 371.4,1437.7 372.8,1441.7 374.3,1446.4 375.7,1450.2 377.2,1454.9 378.6,1457.9 380.1,1460.6 381.5,1463.5 383.0,1464.7 384.4,1466.9 385.9,1468.3 387.3,1470.6 388.8,1469.6 390.2,1471.9 391.7,1472.1 393.1,1472.7 394.6,1472.4 396.0,1473.6 397.5,1474.8 398.9,1474.7 400.4,1475.2 401.8,1475.4 403.3,1476.6 404.7,1476.3 406.2,1475.3 407.6,1476.5 409.1,1476.0 410.5,1475.5 412.0,1477.4 413.4,1478.8 414.9,1478.3 416.3,1477.8 417.8,1478.2 419.2,1479.6 420.7,1479.3 422.1,1479.4 423.6,1479.5 425.0,1479.7 426.5,1480.2 427.9,1480.2 429.4,1480.1 430.8,1479.4 432.3,1480.5 433.7,1479.8 435.2,1481.0 436.6,1479.7 438.1,1480.4 439.5,1480.6 441.0,1479.9 442.4,1481.8 443.9,1481.7 445.3,1480.6 446.8,1481.4 448.2,1481.2 449.7,1479.5 451.1,1481.2 452.6,1481.1 454.0,1481.2 455.5,1480.6 456.9,1481.1 458.4,1481.2 459.8,1482.1 461.3,1481.6 462.7,1481.5 464.2,1482.5 465.6,1481.3 467.1,1481.4 468.5,1480.6 470.0,1482.7 471.4,1482.4 472.9,1482.4 474.3,1482.3 475.8,1482.0 477.2,1482.1 478.7,1481.9 480.1,1482.0 481.6,1482.2 483.0,1483.1 484.5,1482.5 485.9,1482.2 487.4,1481.9 488.8,1481.9 490.3,1483.2 491.7,1482.6 493.2,1482.3 494.6,1482.1 496.1,1481.6 497.5,1482.3 499.0,1482.8 500.4,1482.1 501.9,1482.2 503.3,1482.2 504.8,1482.4 506.2,1481.3" fill="none" stroke="#000" stroke-width="3" stroke-linejoin="round" stroke-linecap="round" />
<g fill="#000"><circle cx="48.0" cy="1475.1" r="4.6"/><circle cx="49.5" cy="1475.3" r="4.6"/><circle cx="50.9" cy="1474.9" r="4.6"/><circle cx="52.4" cy="1474.6" r="4.6"/><circle cx="53.8" cy="1474.8" r="4.6"/><circle cx="55.3" cy="1474.5" r="4.6"/><circle cx="56.7" cy="1475.1" r="4.6"/><circle cx="58.2" cy="1475.9" r="4.6"/><circle cx="59.6" cy="1474.8" r="4.6"/><circle cx="61.1" cy="1474.7" r="4.6"/><circle cx="62.5" cy="1475.4" r="4.6"/><circle cx="64.0" cy="1475.3" r="4.6"/><circle cx="65.4" cy="1475.2" r="4.6"/><circle cx="66.9" cy="1474.5" r="4.6"/><circle cx="68.3" cy="1475.1" r="4.6"/><circle cx="69.8" cy="1475.5" r="4.6"/><circle cx="71.2" cy="1474.3" r="4.6"/><circle cx="72.7" cy="1474.8" r="4.6"/><circle cx="74.1" cy="1474.0" r="4.6"/><circle cx="75.6" cy="1474.3" r="4.6"/><circle cx="77.0" cy="1474.0" r="4.6"/><circle cx="78.5" cy="1475.0" r="4.6"/><circle cx="79.9" cy="1474.3" r="4.6"/><circle cx="81.4" cy="1475.3" r="4.6"/><circle cx="82.8" cy="1475.2" r="4.6"/><circle cx="84.3" cy="1475.0" r="4.6"/><circle cx="85.7" cy="1473.6" r="4.6"/><circle cx="87.2" cy="1474.8" r="4.6"/><circle cx="88.6" cy="1475.1" r="4.6"/><circle cx="90.1" cy="1475.2" r="4.6"/><circle cx="91.5" cy="1474.2" r="4.6"/><circle cx="93.0" cy="1474.8" r="4.6"/><circle cx="94.4" cy="1474.5" r="4.6"/><circle cx="95.9" cy="1474.6" r="4.6"/><circle cx="97.3" cy="1475.7" r="4.6"/><circle cx="98.8" cy="1474.6" r="4.6"/><circle cx="100.2" cy="1475.0" r="4.6"/><circle cx="101.7" cy="1475.6" r="4.6"/><circle cx="103.1" cy="1474.7" r="4.6"/><circle cx="104.6" cy="1475.0" r="4.6"/><circle cx="106.0" cy="1475.1" r="4.6"/><circle cx="107.5" cy="1475.1" r="4.6"/><circle cx="108.9" cy="1474.3" r="4.6"/><circle cx="110.4" cy="1475.0" r="4.6"/><circle cx="111.8" cy="1475.8" r="4.6"/><circle cx="113.3" cy="1474.0" r="4.6"/><circle cx="114.7" cy="1475.4" r="4.6"/><circle cx="116.2" cy="1474.9" r="4.6"/><circle cx="117.6" cy="1474.4" r="4.6"/><circle cx="119.1" cy="1475.9" r="4.6"/><circle cx="120.5" cy="1475.1" r="4.6"/><circle cx="122.0" cy="1473.8" r="4.6"/><circle cx="123.4" cy="1474.5" r="4.6"/><circle cx="124.9" cy="1474.7" r="4.6"/><circle cx="126.3" cy="1474.1" r="4.6"/><circle cx="127.8" cy="1474.5" r="4.6"/><circle cx="129.2" cy="1473.9" r="4.6"/><circle cx="130.7" cy="1474.2" r="4.6"/><circle cx="132.1" cy="1474.4" r="4.6"/><circle cx="133.6" cy="1472.8" r="4.6"/><circle cx="135.0" cy="1472.9" r="4.6"/><circle cx="136.5" cy="1472.0" r="4.6"/><circle cx="137.9" cy="1471.8" r="4.6"/><circle cx="139.4" cy="1470.4" r="4.6"/><circle cx="140.8" cy="1470.3" r="4.6"/><circle cx="142.3" cy="1470.0" r="4.6"/><circle cx="143.7" cy="1470.1" r="4.6"/><circle cx="145.2" cy="1469.8" r="4.6"/><circle cx="146.6" cy="1467.8" r="4.6"/><circle cx="148.1" cy="1467.5" r="4.6"/><circle cx="149.5" cy="1467.8" r="4.6"/><circle cx="151.0" cy="1465.6" r="4.6"/><circle cx="152.4" cy="1465.9" r="4.6"/><circle cx="153.9" cy="1465.4" r="4.6"/><circle cx="155.3" cy="1465.4" r="4.6"/><circle cx="156.8" cy="1464.3" r="4.6"/><circle cx="158.2" cy="1462.8" r="4.6"/><circle cx="159.7" cy="1461.9" r="4.6"/><circle cx="161.1" cy="1461.0" r="4.6"/><circle cx="162.6" cy="1461.1" r="4.6"/><circle cx="164.0" cy="1458.9" r="4.6"/><circle cx="165.5" cy="1458.0" r="4.6"/><circle cx="166.9" cy="1457.4" r="4.6"/><circle cx="168.4" cy="1456.0" r="4.6"/><circle cx="169.8" cy="1454.8" r="4.6"/><circle cx="171.3" cy="1453.1" r="4.6"/><circle cx="172.7" cy="1452.6" r="4.6"/><circle cx="174.2" cy="1451.1" r="4.6"/><circle cx="175.6" cy="1450.7" r="4.6"/><circle cx="177.1" cy="1449.0" r="4.6"/><circle cx="178.5" cy="1447.0" r="4.6"/><circle cx="180.0" cy="1445.8" r="4.6"/><circle cx="181.4" cy="1443.6" r="4.6"/><circle cx="182.9" cy="1442.7" r="4.6"/><circle cx="184.3" cy="1440.3" r="4.6"/><circle cx="185.8" cy="1438.9" r="4.6"/><circle cx="187.2" cy="1436.0" r="4.6"/><circle cx="188.7" cy="1435.0" r="4.6"/><circle cx="190.1" cy="1431.9" r="4.6"/><circle cx="191.6" cy="1429.8" r="4.6"/><circle cx="193.0" cy="1429.1" r="4.6"/><circle cx="194.5" cy="1427.1" r="4.6"/><circle cx="195.9" cy="1426.1" r="4.6"/><circle cx="197.4" cy="1425.8" r="4.6"/><circle cx="198.8" cy="1422.4" r="4.6"/><circle cx="200.3" cy="1421.1" r="4.6"/><circle cx="201.7" cy="1420.3" r="4.6"/><circle cx="203.2" cy="1419.3" r="4.6"/><circle cx="204.6" cy="1417.8" r="4.6"/><circle cx="206.1" cy="1416.8" r="4.6"/><circle cx="207.5" cy="1416.4" r="4.6"/><circle cx="209.0" cy="1415.4" r="4.6"/><circle cx="210.4" cy="1413.7" r="4.6"/><circle cx="211.9" cy="1413.5" r="4.6"/><circle cx="213.3" cy="1412.9" r="4.6"/><circle cx="214.8" cy="1411.6" r="4.6"/><circle cx="216.2" cy="1411.8" r="4.6"/><circle cx="217.7" cy="1410.6" r="4.6"/><circle cx="219.1" cy="1411.2" r="4.6"/><circle cx="220.6" cy="1410.2" r="4.6"/><circle cx="222.0" cy="1409.5" r="4.6"/><circle cx="223.5" cy="1408.5" r="4.6"/><circle cx="224.9" cy="1408.0" r="4.6"/><circle cx="226.4" cy="1406.2" r="4.6"/><circle cx="227.8" cy="1406.0" r="4.6"/><circle cx="229.3" cy="1406.0" r="4.6"/><circle cx="230.7" cy="1403.6" r="4.6"/><circle cx="232.2" cy="1404.2" r="4.6"/><circle cx="233.6" cy="1401.2" r="4.6"/><circle cx="235.1" cy="1400.8" r="4.6"/><circle cx="236.5" cy="1397.4" r="4.6"/><circle cx="238.0" cy="1395.1" r="4.6"/><circle cx="239.4" cy="1390.2" r="4.6"/><circle cx="240.9" cy="1381.6" r="4.6"/><circle cx="242.3" cy="1375.1" r="4.6"/><circle cx="243.8" cy="1366.5" r="4.6"/><circle cx="245.2" cy="1357.5" r="4.6"/><circle cx="246.7" cy="1351.1" r="4.6"/><circle cx="248.1" cy="1345.4" r="4.6"/><circle cx="249.6" cy="1337.7" r="4.6"/><circle cx="251.0" cy="1328.0" r="4.6"/><circle cx="252.5" cy="1313.2" r="4.6"/><circle cx="253.9" cy="1299.6" r="4.6"/><circle cx="255.4" cy="1286.3" r="4.6"/><circle cx="256.8" cy="1273.4" r="4.6"/><circle cx="258.3" cy="1258.6" r="4.6"/><circle cx="259.7" cy="1247.2" r="4.6"/><circle cx="261.2" cy="1236.0" r="4.6"/><circle cx="262.6" cy="1227.5" r="4.6"/><circle cx="264.1" cy="1218.4" r="4.6"/><circle cx="265.5" cy="1210.2" r="4.6"/><circle cx="267.0" cy="1202.8" r="4.6"/><circle cx="268.4" cy="1194.5" r="4.6"/><circle cx="269.9" cy="1187.0" r="4.6"/><circle cx="271.3" cy="1180.5" r="4.6"/><circle cx="272.8" cy="1175.1" r="4.6"/><circle cx="274.2" cy="1170.8" r="4.6"/><circle cx="275.7" cy="1168.5" r="4.6"/><circle cx="277.1" cy="1168.1" r="4.6"/><circle cx="278.6" cy="1165.9" r="4.6"/><circle cx="280.0" cy="1165.2" r="4.6"/><circle cx="281.5" cy="1165.7" r="4.6"/><circle cx="282.9" cy="1166.9" r="4.6"/><circle cx="284.4" cy="1167.7" r="4.6"/><circle cx="285.8" cy="1172.7" r="4.6"/><circle cx="287.3" cy="1179.4" r="4.6"/><circle cx="288.7" cy="1184.4" r="4.6"/><circle cx="290.2" cy="1191.2" r="4.6"/><circle cx="291.6" cy="1196.0" r="4.6"/><circle cx="293.1" cy="1201.3" r="4.6"/><circle cx="294.5" cy="1206.4" r="4.6"/><circle cx="296.0" cy="1212.7" r="4.6"/><circle cx="297.4" cy="1217.5" r="4.6"/><circle cx="298.9" cy="1222.6" r="4.6"/><circle cx="300.3" cy="1226.3" r="4.6"/><circle cx="301.8" cy="1230.3" r="4.6"/><circle cx="303.2" cy="1235.4" r="4.6"/><circle cx="304.7" cy="1236.9" r="4.6"/><circle cx="306.1" cy="1239.3" r="4.6"/><circle cx="307.6" cy="1240.5" r="4.6"/><circle cx="309.0" cy="1240.7" r="4.6"/><circle cx="310.5" cy="1239.6" r="4.6"/><circle cx="311.9" cy="1238.5" r="4.6"/><circle cx="313.4" cy="1234.8" r="4.6"/><circle cx="314.8" cy="1230.6" r="4.6"/><circle cx="316.3" cy="1226.9" r="4.6"/><circle cx="317.7" cy="1224.0" r="4.6"/><circle cx="319.2" cy="1220.2" r="4.6"/><circle cx="320.6" cy="1216.5" r="4.6"/><circle cx="322.1" cy="1212.1" r="4.6"/><circle cx="323.5" cy="1208.1" r="4.6"/><circle cx="325.0" cy="1207.0" r="4.6"/><circle cx="326.4" cy="1205.0" r="4.6"/><circle cx="327.9" cy="1204.0" r="4.6"/><circle cx="329.3" cy="1205.4" r="4.6"/><circle cx="330.8" cy="1207.2" r="4.6"/><circle cx="332.2" cy="1209.3" r="4.6"/><circle cx="333.7" cy="1212.4" r="4.6"/><circle cx="335.1" cy="1215.2" r="4.6"/><circle cx="336.6" cy="1220.4" r="4.6"/><circle cx="338.0" cy="1223.6" r="4.6"/><circle cx="339.5" cy="1230.4" r="4.6"/><circle cx="340.9" cy="1237.0" r="4.6"/><circle cx="342.4" cy="1245.3" r="4.6"/><circle cx="343.8" cy="1255.9" r="4.6"/><circle cx="345.3" cy="1266.1" r="4.6"/><circle cx="346.7" cy="1275.0" r="4.6"/><circle cx="348.2" cy="1284.7" r="4.6"/><circle cx="349.6" cy="1296.1" r="4.6"/><circle cx="351.1" cy="1307.2" r="4.6"/><circle cx="352.5" cy="1322.0" r="4.6"/><circle cx="354.0" cy="1338.8" r="4.6"/><circle cx="355.4" cy="1352.7" r="4.6"/><circle cx="356.9" cy="1364.0" r="4.6"/><circle cx="358.3" cy="1375.4" r="4.6"/><circle cx="359.8" cy="1385.1" r="4.6"/><circle cx="361.2" cy="1394.3" r="4.6"/><circle cx="362.7" cy="1404.3" r="4.6"/><circle cx="364.1" cy="1413.7" r="4.6"/><circle cx="365.6" cy="1419.0" r="4.6"/><circle cx="367.0" cy="1424.3" r="4.6"/><circle cx="368.5" cy="1428.3" r="4.6"/><circle cx="369.9" cy="1432.1" r="4.6"/><circle cx="371.4" cy="1437.7" r="4.6"/><circle cx="372.8" cy="1441.7" r="4.6"/><circle cx="374.3" cy="1446.4" r="4.6"/><circle cx="375.7" cy="1450.2" r="4.6"/><circle cx="377.2" cy="1454.9" r="4.6"/><circle cx="378.6" cy="1457.9" r="4.6"/><circle cx="380.1" cy="1460.6" r="4.6"/><circle cx="381.5" cy="1463.5" r="4.6"/><circle cx="383.0" cy="1464.7" r="4.6"/><circle cx="384.4" cy="1466.9" r="4.6"/><circle cx="385.9" cy="1468.3" r="4.6"/><circle cx="387.3" cy="1470.6" r="4.6"/><circle cx="388.8" cy="1469.6" r="4.6"/><circle cx="390.2" cy="1471.9" r="4.6"/><circle cx="391.7" cy="1472.1" r="4.6"/><circle cx="393.1" cy="1472.7" r="4.6"/><circle cx="394.6" cy="1472.4" r="4.6"/><circle cx="396.0" cy="1473.6" r="4.6"/><circle cx="397.5" cy="1474.8" r="4.6"/><circle cx="398.9" cy="1474.7" r="4.6"/><circle cx="400.4" cy="1475.2" r="4.6"/><circle cx="401.8" cy="1475.4" r="4.6"/><circle cx="403.3" cy="1476.6" r="4.6"/><circle cx="404.7" cy="1476.3" r="4.6"/><circle cx="406.2" cy="1475.3" r="4.6"/><circle cx="407.6" cy="1476.5" r="4.6"/><circle cx="409.1" cy="1476.0" r="4.6"/><circle cx="410.5" cy="1475.5" r="4.6"/><circle cx="412.0" cy="1477.4" r="4.6"/><circle cx="413.4" cy="1478.8" r="4.6"/><circle cx="414.9" cy="1478.3" r="4.6"/><circle cx="416.3" cy="1477.8" r="4.6"/><circle cx="417.8" cy="1478.2" r="4.6"/><circle cx="419.2" cy="1479.6" r="4.6"/><circle cx="420.7" cy="1479.3" r="4.6"/><circle cx="422.1" cy="1479.4" r="4.6"/><circle cx="423.6" cy="1479.5" r="4.6"/><circle cx="425.0" cy="1479.7" r="4.6"/><circle cx="426.5" cy="1480.2" r="4.6"/><circle cx="427.9" cy="1480.2" r="4.6"/><circle cx="429.4" cy="1480.1" r="4.6"/><circle cx="430.8" cy="1479.4" r="4.6"/><circle cx="432.3" cy="1480.5" r="4.6"/><circle cx="433.7" cy="1479.8" r="4.6"/><circle cx="435.2" cy="1481.0" r="4.6"/><circle cx="436.6" cy="1479.7" r="4.6"/><circle cx="438.1" cy="1480.4" r="4.6"/><circle cx="439.5" cy="1480.6" r="4.6"/><circle cx="441.0" cy="1479.9" r="4.6"/><circle cx="442.4" cy="1481.8" r="4.6"/><circle cx="443.9" cy="1481.7" r="4.6"/><circle cx="445.3" cy="1480.6" r="4.6"/><circle cx="446.8" cy="1481.4" r="4.6"/><circle cx="448.2" cy="1481.2" r="4.6"/><circle cx="449.7" cy="1479.5" r="4.6"/><circle cx="451.1" cy="1481.2" r="4.6"/><circle cx="452.6" cy="1481.1" r="4.6"/><circle cx="454.0" cy="1481.2" r="4.6"/><circle cx="455.5" cy="1480.6" r="4.6"/><circle cx="456.9" cy="1481.1" r="4.6"/><circle cx="458.4" cy="1481.2" r="4.6"/><circle cx="459.8" cy="1482.1" r="4.6"/><circle cx="461.3" cy="1481.6" r="4.6"/><circle cx="462.7" cy="1481.5" r="4.6"/><circle cx="464.2" cy="1482.5" r="4.6"/><circle cx="465.6" cy="1481.3" r="4.6"/><circle cx="467.1" cy="1481.4" r="4.6"/><circle cx="468.5" cy="1480.6" r="4.6"/><circle cx="470.0" cy="1482.7" r="4.6"/><circle cx="471.4" cy="1482.4" r="4.6"/><circle cx="472.9" cy="1482.4" r="4.6"/><circle cx="474.3" cy="1482.3" r="4.6"/><circle cx="475.8" cy="1482.0" r="4.6"/><circle cx="477.2" cy="1482.1" r="4.6"/><circle cx="478.7" cy="1481.9" r="4.6"/><circle cx="480.1" cy="1482.0" r="4.6"/><circle cx="481.6" cy="1482.2" r="4.6"/><circle cx="483.0" cy="1483.1" r="4.6"/><circle cx="484.5" cy="1482.5" r="4.6"/><circle cx="485.9" cy="1482.2" r="4.6"/><circle cx="487.4" cy="1481.9" r="4.6"/><circle cx="488.8" cy="1481.9" r="4.6"/><circle cx="490.3" cy="1483.2" r="4.6"/><circle cx="491.7" cy="1482.6" r="4.6"/><circle cx="493.2" cy="1482.3" r="4.6"/><circle cx="494.6" cy="1482.1" r="4.6"/><circle cx="496.1" cy="1481.6" r="4.6"/><circle cx="497.5" cy="1482.3" r="4.6"/><circle cx="499.0" cy="1482.8" r="4.6"/><circle cx="500.4" cy="1482.1" r="4.6"/><circle cx="501.9" cy="1482.2" r="4.6"/><circle cx="503.3" cy="1482.2" r="4.6"/><circle cx="504.8" cy="1482.4" r="4.6"/><circle cx="506.2" cy="1481.3" r="4.6"/></g>
<polyline points="124.0,1782.1 125.0,1782.1 126.0,1782.0 127.0,1782.0 128.0,1781.9 129.0,1781.9 130.0,1781.8 131.0,1781.7 132.0,1781.7 133.0,1781.6 134.0,1781.5 135.0,1781.4 136.0,1781.2 137.0,1781.1 138.0,1781.0 139.0,1780.8 140.0,1780.7 141.0,1780.5 142.0,1780.3 143.0,1780.1 144.0,1779.9 145.0,1779.7 146.0,1779.4 147.0,1779.2 148.0,1778.9 149.0,1778.6 150.0,1778.3 151.0,1777.9 152.0,1777.6 153.0,1777.2 154.0,1776.8 155.0,1776.4 156.0,1775.9 157.0,1775.5 158.0,1775.0 159.0,1774.5 160.0,1773.9 161.0,1773.4 162.0,1772.8 163.0,1772.2 164.0,1771.6 165.0,1770.9 166.0,1770.3 167.0,1769.6 168.0,1768.9 169.0,1768.1 170.0,1767.4 171.0,1766.7 172.0,1765.9 173.0,1765.1 174.0,1764.3 175.0,1763.5 176.0,1762.7 177.0,1761.9 178.0,1761.1 179.0,1760.3 180.0,1759.5 181.0,1758.7 182.0,1757.9 183.0,1757.1 184.0,1756.4 185.0,1755.6 186.0,1754.9 187.0,1754.1 188.0,1753.4 189.0,1752.8 190.0,1752.1 191.0,1751.5 192.0,1750.9 193.0,1750.4 194.0,1749.9 195.0,1749.4 196.0,1749.0 197.0,1748.6 198.0,1748.3 199.0,1748.0 200.0,1747.7 201.0,1747.5 202.0,1747.4 203.0,1747.3 204.0,1747.2 205.0,1747.3 206.0,1747.3 207.0,1747.4 208.0,1747.6 209.0,1747.8 210.0,1748.0 211.0,1748.3 212.0,1748.7 213.0,1749.1 214.0,1749.5 215.0,1750.0 216.0,1750.5 217.0,1751.0 218.0,1751.6 219.0,1752.2 220.0,1752.9 221.0,1753.6 222.0,1754.3 223.0,1755.0 224.0,1755.7 225.0,1756.5 226.0,1757.3 227.0,1758.1 228.0,1758.9 229.0,1759.7 230.0,1760.5 231.0,1761.3 232.0,1762.1 233.0,1762.9 234.0,1763.7 235.0,1764.5 236.0,1765.3 237.0,1766.1 238.0,1766.9 239.0,1767.7 240.0,1768.4 241.0,1769.1 242.0,1769.8 243.0,1770.5 244.0,1771.2 245.0,1771.8 246.0,1772.5 247.0,1773.1 248.0,1773.7 249.0,1774.2 250.0,1774.8 251.0,1775.3 252.0,1775.8 253.0,1776.3 254.0,1776.7 255.0,1777.2 256.0,1777.6 257.0,1778.0 258.0,1778.3 259.0,1778.7 260.0,1779.0 261.0,1779.3 262.0,1779.6 263.0,1779.9 264.0,1780.1 265.0,1780.4 266.0,1780.6 267.0,1780.8 268.0,1781.0 269.0,1781.2 270.0,1781.4 271.0,1781.5 272.0,1781.7 273.0,1781.8 274.0,1781.9 275.0,1782.1 276.0,1782.2 277.0,1782.3 278.0,1782.3 279.0,1782.4 280.0,1782.5 281.0,1782.6 282.0,1782.6 283.0,1782.7 284.0,1782.8 285.0,1782.8" fill="none" stroke="#0000ff" stroke-width="2.4" stroke-linejoin="round" stroke-linecap="round" />
<polyline points="200.0,1782.3 201.0,1782.3 202.0,1782.2 203.0,1782.2 204.0,1782.1 205.0,1782.1 206.0,1782.0 207.0,1781.9 208.0,1781.8 209.0,1781.7 210.0,1781.6 211.0,1781.4 212.0,1781.3 213.0,1781.1 214.0,1781.0 215.0,1780.8 216.0,1780.6 217.0,1780.4 218.0,1780.1 219.0,1779.9 220.0,1779.6 221.0,1779.3 222.0,1779.0 223.0,1778.7 224.0,1778.3 225.0,1778.0 226.0,1777.6 227.0,1777.1 228.0,1776.7 229.0,1776.2 230.0,1775.7 231.0,1775.1 232.0,1774.6 233.0,1774.0 234.0,1773.4 235.0,1772.7 236.0,1772.1 237.0,1771.4 238.0,1770.6 239.0,1769.9 240.0,1769.1 241.0,1768.3 242.0,1767.5 243.0,1766.7 244.0,1765.8 245.0,1765.0 246.0,1764.1 247.0,1763.2 248.0,1762.3 249.0,1761.3 250.0,1760.4 251.0,1759.5 252.0,1758.6 253.0,1757.7 254.0,1756.7 255.0,1755.8 256.0,1755.0 257.0,1754.1 258.0,1753.2 259.0,1752.4 260.0,1751.6 261.0,1750.8 262.0,1750.1 263.0,1749.4 264.0,1748.7 265.0,1748.1 266.0,1747.5 267.0,1747.0 268.0,1746.6 269.0,1746.1 270.0,1745.8 271.0,1745.5 272.0,1745.2 273.0,1745.0 274.0,1744.9 275.0,1744.8 276.0,1744.8 277.0,1744.8 278.0,1745.0 279.0,1745.2 280.0,1745.4 281.0,1745.7 282.0,1746.1 283.0,1746.6 284.0,1747.1 285.0,1747.6 286.0,1748.2 287.0,1748.9 288.0,1749.6 289.0,1750.3 290.0,1751.1 291.0,1752.0 292.0,1752.8 293.0,1753.7 294.0,1754.6 295.0,1755.6 296.0,1756.5 297.0,1757.5 298.0,1758.5 299.0,1759.4 300.0,1760.4 301.0,1761.4 302.0,1762.4 303.0,1763.4 304.0,1764.3 305.0,1765.3 306.0,1766.2 307.0,1767.1 308.0,1768.0 309.0,1768.9 310.0,1769.7 311.0,1770.5 312.0,1771.3 313.0,1772.1 314.0,1772.8 315.0,1773.5 316.0,1774.2 317.0,1774.8 318.0,1775.4 319.0,1776.0 320.0,1776.6 321.0,1777.1 322.0,1777.6 323.0,1778.1 324.0,1778.5 325.0,1778.9 326.0,1779.3 327.0,1779.7 328.0,1780.0 329.0,1780.3 330.0,1780.6 331.0,1780.9 332.0,1781.1 333.0,1781.4 334.0,1781.6 335.0,1781.8 336.0,1782.0 337.0,1782.1 338.0,1782.3 339.0,1782.4 340.0,1782.6 341.0,1782.7 342.0,1782.8 343.0,1782.9 344.0,1783.0 345.0,1783.0 346.0,1783.1 347.0,1783.2 348.0,1783.2" fill="none" stroke="#ff0000" stroke-width="2.4" stroke-linejoin="round" stroke-linecap="round" />
<polyline points="250.0,1782.5 251.0,1782.4 252.0,1782.4 253.0,1782.3 254.0,1782.2 255.0,1782.0 256.0,1781.9 257.0,1781.7 258.0,1781.6 259.0,1781.4 260.0,1781.1 261.0,1780.8 262.0,1780.5 263.0,1780.2 264.0,1779.8 265.0,1779.3 266.0,1778.8 267.0,1778.2 268.0,1777.6 269.0,1776.8 270.0,1776.0 271.0,1775.1 272.0,1774.1 273.0,1773.0 274.0,1771.8 275.0,1770.4 276.0,1769.0 277.0,1767.3 278.0,1765.5 279.0,1763.6 280.0,1761.5 281.0,1759.2 282.0,1756.7 283.0,1754.0 284.0,1751.0 285.0,1747.9 286.0,1744.5 287.0,1740.9 288.0,1737.1 289.0,1732.9 290.0,1728.6 291.0,1724.0 292.0,1719.1 293.0,1713.9 294.0,1708.5 295.0,1702.8 296.0,1696.9 297.0,1690.7 298.0,1684.2 299.0,1677.5 300.0,1670.6 301.0,1663.5 302.0,1656.2 303.0,1648.7 304.0,1641.1 305.0,1633.3 306.0,1625.4 307.0,1617.4 308.0,1609.4 309.0,1601.4 310.0,1593.4 311.0,1585.4 312.0,1577.5 313.0,1569.7 314.0,1562.0 315.0,1554.6 316.0,1547.3 317.0,1540.3 318.0,1533.7 319.0,1527.3 320.0,1521.3 321.0,1515.7 322.0,1510.6 323.0,1505.9 324.0,1501.7 325.0,1498.0 326.0,1494.8 327.0,1492.2 328.0,1490.1 329.0,1488.7 330.0,1487.8 331.0,1487.5 332.0,1487.8 333.0,1488.6 334.0,1489.9 335.0,1491.8 336.0,1494.2 337.0,1497.1 338.0,1500.5 339.0,1504.4 340.0,1508.7 341.0,1513.4 342.0,1518.5 343.0,1524.1 344.0,1529.9 345.0,1536.1 346.0,1542.6 347.0,1549.3 348.0,1556.3 349.0,1563.4 350.0,1570.8 351.0,1578.2 352.0,1585.8 353.0,1593.4 354.0,1601.1 355.0,1608.7 356.0,1616.4 357.0,1624.0 358.0,1631.6 359.0,1639.0 360.0,1646.4 361.0,1653.6 362.0,1660.6 363.0,1667.5 364.0,1674.2 365.0,1680.7 366.0,1687.0 367.0,1693.1 368.0,1699.0 369.0,1704.6 370.0,1710.0 371.0,1715.1 372.0,1720.0 373.0,1724.7 374.0,1729.1 375.0,1733.3 376.0,1737.2 377.0,1741.0 378.0,1744.5 379.0,1747.7 380.0,1750.8 381.0,1753.7 382.0,1756.3 383.0,1758.8 384.0,1761.1 385.0,1763.2 386.0,1765.2 387.0,1767.0 388.0,1768.7 389.0,1770.2 390.0,1771.6 391.0,1772.9 392.0,1774.0 393.0,1775.1 394.0,1776.1 395.0,1776.9 396.0,1777.7 397.0,1778.4 398.0,1779.1 399.0,1779.7 400.0,1780.2 401.0,1780.6 402.0,1781.0 403.0,1781.4 404.0,1781.7 405.0,1782.0 406.0,1782.3 407.0,1782.5 408.0,1782.7 409.0,1782.9 410.0,1783.1 411.0,1783.2 412.0,1783.3 413.0,1783.5 414.0,1783.6 415.0,1783.6 416.0,1783.7" fill="none" stroke="#000" stroke-width="1.6" stroke-linejoin="round" stroke-linecap="round" />
<polyline points="48.0,1781.3 49.9,1780.9 51.8,1781.9 53.7,1780.9 55.6,1781.7 57.5,1782.3 59.4,1781.2 61.3,1781.0 63.2,1781.4 65.1,1781.3 67.0,1780.7 68.9,1781.5 70.8,1782.4 72.7,1781.0 74.6,1781.0 76.5,1780.5 78.4,1781.2 80.3,1780.2 82.2,1780.3 84.1,1781.7 86.0,1780.3 87.9,1781.4 89.8,1781.6 91.7,1780.8 93.6,1780.9 95.5,1781.7 97.4,1780.3 99.3,1780.0 101.2,1779.5 103.1,1780.3 105.0,1781.0 106.9,1780.7 108.8,1779.4 110.7,1779.4 112.6,1779.4 114.5,1779.7 116.4,1779.2 118.3,1779.2 120.2,1779.0 122.1,1778.3 124.0,1778.2 125.9,1778.0 127.8,1777.5 129.7,1777.5 131.6,1777.9 133.5,1776.6 135.4,1775.7 137.3,1774.0 139.2,1774.6 141.1,1772.6 143.0,1772.4 144.9,1773.3 146.8,1772.7 148.7,1771.6 150.6,1770.1 152.5,1770.2 154.4,1769.2 156.3,1769.0 158.2,1768.8 160.1,1766.3 162.0,1764.4 163.9,1762.9 165.8,1762.5 167.7,1761.2 169.6,1759.5 171.5,1759.1 173.4,1757.2 175.3,1757.5 177.2,1756.4 179.1,1755.4 181.0,1753.4 182.9,1753.0 184.8,1751.7 186.7,1750.8 188.6,1750.2 190.5,1748.9 192.4,1748.2 194.3,1749.1 196.2,1748.1 198.1,1748.1 200.0,1748.6 201.9,1747.0 203.8,1747.5 205.7,1748.1 207.6,1748.2 209.5,1747.8 211.4,1748.7 213.3,1748.6 215.2,1748.3 217.1,1749.2 219.0,1750.9 220.9,1751.3 222.8,1750.5 224.7,1753.1 226.6,1753.3 228.5,1754.4 230.4,1753.8 232.3,1754.1 234.2,1753.6 236.1,1755.5 238.0,1753.5 239.9,1754.0 241.8,1752.1 243.7,1751.8 245.6,1749.6 247.5,1749.1 249.4,1748.6 251.3,1745.8 253.2,1745.6 255.1,1743.5 257.0,1741.1 258.9,1739.9 260.8,1738.4 262.7,1737.2 264.6,1735.3 266.5,1733.4 268.4,1731.9 270.3,1729.6 272.2,1727.4 274.1,1726.1 276.0,1724.5 277.9,1720.5 279.8,1718.5 281.7,1714.7 283.6,1710.2 285.5,1705.9 287.4,1698.5 289.3,1694.1 291.2,1687.2 293.1,1682.0 295.0,1674.3 296.9,1666.4 298.8,1659.7 300.7,1651.5 302.6,1642.8 304.5,1628.0 306.4,1608.9 308.3,1594.4 310.2,1583.4 312.1,1573.0 314.0,1555.5 315.9,1544.8 317.8,1527.2 319.7,1514.7 321.6,1504.7 323.5,1496.1 325.4,1491.4 327.3,1489.1 329.2,1485.3 331.1,1484.9 333.0,1485.5 334.9,1486.5 336.8,1489.8 338.7,1497.8 340.6,1505.2 342.5,1514.2 344.4,1528.2 346.3,1544.7 348.2,1562.2 350.1,1574.8 352.0,1590.6 353.9,1606.1 355.8,1616.2 357.7,1628.5 359.6,1641.8 361.5,1655.1 363.4,1667.8 365.3,1681.2 367.2,1690.8 369.1,1701.2 371.0,1711.5 372.9,1720.5 374.8,1730.3 376.7,1737.6 378.6,1743.1 380.5,1748.9 382.4,1754.5 384.3,1759.3 386.2,1759.7 388.1,1764.3 390.0,1765.4 391.9,1768.6 393.8,1769.0 395.7,1770.9 397.6,1771.6 399.5,1773.2 401.4,1775.7 403.3,1776.4 405.2,1776.5 407.1,1777.0 409.0,1777.0 410.9,1778.4 412.8,1779.1 414.7,1779.5 416.6,1779.9 418.5,1779.6 420.4,1780.5 422.3,1780.8 424.2,1781.8 426.1,1782.4 428.0,1781.4 429.9,1781.2 431.8,1781.8 433.7,1781.6 435.6,1781.7 437.5,1782.3 439.4,1781.8 441.3,1783.0 443.2,1782.7 445.1,1783.0 447.0,1782.9 448.9,1782.7 450.8,1782.7 452.7,1783.3 454.6,1783.2 456.5,1783.8 458.4,1783.8 460.3,1783.1 462.2,1784.0 464.1,1783.3 466.0,1783.9 467.9,1784.2 469.8,1783.2 471.7,1784.7 473.6,1784.8 475.5,1784.8 477.4,1784.7 479.3,1784.9 481.2,1784.7 483.1,1785.2 485.0,1785.2 486.9,1785.7 488.8,1785.0 490.7,1786.0" fill="none" stroke="#000" stroke-width="3" stroke-linejoin="round" stroke-linecap="round" />
<g fill="#000"><circle cx="48.0" cy="1781.3" r="4.6"/><circle cx="49.9" cy="1780.9" r="4.6"/><circle cx="51.8" cy="1781.9" r="4.6"/><circle cx="53.7" cy="1780.9" r="4.6"/><circle cx="55.6" cy="1781.7" r="4.6"/><circle cx="57.5" cy="1782.3" r="4.6"/><circle cx="59.4" cy="1781.2" r="4.6"/><circle cx="61.3" cy="1781.0" r="4.6"/><circle cx="63.2" cy="1781.4" r="4.6"/><circle cx="65.1" cy="1781.3" r="4.6"/><circle cx="67.0" cy="1780.7" r="4.6"/><circle cx="68.9" cy="1781.5" r="4.6"/><circle cx="70.8" cy="1782.4" r="4.6"/><circle cx="72.7" cy="1781.0" r="4.6"/><circle cx="74.6" cy="1781.0" r="4.6"/><circle cx="76.5" cy="1780.5" r="4.6"/><circle cx="78.4" cy="1781.2" r="4.6"/><circle cx="80.3" cy="1780.2" r="4.6"/><circle cx="82.2" cy="1780.3" r="4.6"/><circle cx="84.1" cy="1781.7" r="4.6"/><circle cx="86.0" cy="1780.3" r="4.6"/><circle cx="87.9" cy="1781.4" r="4.6"/><circle cx="89.8" cy="1781.6" r="4.6"/><circle cx="91.7" cy="1780.8" r="4.6"/><circle cx="93.6" cy="1780.9" r="4.6"/><circle cx="95.5" cy="1781.7" r="4.6"/><circle cx="97.4" cy="1780.3" r="4.6"/><circle cx="99.3" cy="1780.0" r="4.6"/><circle cx="101.2" cy="1779.5" r="4.6"/><circle cx="103.1" cy="1780.3" r="4.6"/><circle cx="105.0" cy="1781.0" r="4.6"/><circle cx="106.9" cy="1780.7" r="4.6"/><circle cx="108.8" cy="1779.4" r="4.6"/><circle cx="110.7" cy="1779.4" r="4.6"/><circle cx="112.6" cy="1779.4" r="4.6"/><circle cx="114.5" cy="1779.7" r="4.6"/><circle cx="116.4" cy="1779.2" r="4.6"/><circle cx="118.3" cy="1779.2" r="4.6"/><circle cx="120.2" cy="1779.0" r="4.6"/><circle cx="122.1" cy="1778.3" r="4.6"/><circle cx="124.0" cy="1778.2" r="4.6"/><circle cx="125.9" cy="1778.0" r="4.6"/><circle cx="127.8" cy="1777.5" r="4.6"/><circle cx="129.7" cy="1777.5" r="4.6"/><circle cx="131.6" cy="1777.9" r="4.6"/><circle cx="133.5" cy="1776.6" r="4.6"/><circle cx="135.4" cy="1775.7" r="4.6"/><circle cx="137.3" cy="1774.0" r="4.6"/><circle cx="139.2" cy="1774.6" r="4.6"/><circle cx="141.1" cy="1772.6" r="4.6"/><circle cx="143.0" cy="1772.4" r="4.6"/><circle cx="144.9" cy="1773.3" r="4.6"/><circle cx="146.8" cy="1772.7" r="4.6"/><circle cx="148.7" cy="1771.6" r="4.6"/><circle cx="150.6" cy="1770.1" r="4.6"/><circle cx="152.5" cy="1770.2" r="4.6"/><circle cx="154.4" cy="1769.2" r="4.6"/><circle cx="156.3" cy="1769.0" r="4.6"/><circle cx="158.2" cy="1768.8" r="4.6"/><circle cx="160.1" cy="1766.3" r="4.6"/><circle cx="162.0" cy="1764.4" r="4.6"/><circle cx="163.9" cy="1762.9" r="4.6"/><circle cx="165.8" cy="1762.5" r="4.6"/><circle cx="167.7" cy="1761.2" r="4.6"/><circle cx="169.6" cy="1759.5" r="4.6"/><circle cx="171.5" cy="1759.1" r="4.6"/><circle cx="173.4" cy="1757.2" r="4.6"/><circle cx="175.3" cy="1757.5" r="4.6"/><circle cx="177.2" cy="1756.4" r="4.6"/><circle cx="179.1" cy="1755.4" r="4.6"/><circle cx="181.0" cy="1753.4" r="4.6"/><circle cx="182.9" cy="1753.0" r="4.6"/><circle cx="184.8" cy="1751.7" r="4.6"/><circle cx="186.7" cy="1750.8" r="4.6"/><circle cx="188.6" cy="1750.2" r="4.6"/><circle cx="190.5" cy="1748.9" r="4.6"/><circle cx="192.4" cy="1748.2" r="4.6"/><circle cx="194.3" cy="1749.1" r="4.6"/><circle cx="196.2" cy="1748.1" r="4.6"/><circle cx="198.1" cy="1748.1" r="4.6"/><circle cx="200.0" cy="1748.6" r="4.6"/><circle cx="201.9" cy="1747.0" r="4.6"/><circle cx="203.8" cy="1747.5" r="4.6"/><circle cx="205.7" cy="1748.1" r="4.6"/><circle cx="207.6" cy="1748.2" r="4.6"/><circle cx="209.5" cy="1747.8" r="4.6"/><circle cx="211.4" cy="1748.7" r="4.6"/><circle cx="213.3" cy="1748.6" r="4.6"/><circle cx="215.2" cy="1748.3" r="4.6"/><circle cx="217.1" cy="1749.2" r="4.6"/><circle cx="219.0" cy="1750.9" r="4.6"/><circle cx="220.9" cy="1751.3" r="4.6"/><circle cx="222.8" cy="1750.5" r="4.6"/><circle cx="224.7" cy="1753.1" r="4.6"/><circle cx="226.6" cy="1753.3" r="4.6"/><circle cx="228.5" cy="1754.4" r="4.6"/><circle cx="230.4" cy="1753.8" r="4.6"/><circle cx="232.3" cy="1754.1" r="4.6"/><circle cx="234.2" cy="1753.6" r="4.6"/><circle cx="236.1" cy="1755.5" r="4.6"/><circle cx="238.0" cy="1753.5" r="4.6"/><circle cx="239.9" cy="1754.0" r="4.6"/><circle cx="241.8" cy="1752.1" r="4.6"/><circle cx="243.7" cy="1751.8" r="4.6"/><circle cx="245.6" cy="1749.6" r="4.6"/><circle cx="247.5" cy="1749.1" r="4.6"/><circle cx="249.4" cy="1748.6" r="4.6"/><circle cx="251.3" cy="1745.8" r="4.6"/><circle cx="253.2" cy="1745.6" r="4.6"/><circle cx="255.1" cy="1743.5" r="4.6"/><circle cx="257.0" cy="1741.1" r="4.6"/><circle cx="258.9" cy="1739.9" r="4.6"/><circle cx="260.8" cy="1738.4" r="4.6"/><circle cx="262.7" cy="1737.2" r="4.6"/><circle cx="264.6" cy="1735.3" r="4.6"/><circle cx="266.5" cy="1733.4" r="4.6"/><circle cx="268.4" cy="1731.9" r="4.6"/><circle cx="270.3" cy="1729.6" r="4.6"/><circle cx="272.2" cy="1727.4" r="4.6"/><circle cx="274.1" cy="1726.1" r="4.6"/><circle cx="276.0" cy="1724.5" r="4.6"/><circle cx="277.9" cy="1720.5" r="4.6"/><circle cx="279.8" cy="1718.5" r="4.6"/><circle cx="281.7" cy="1714.7" r="4.6"/><circle cx="283.6" cy="1710.2" r="4.6"/><circle cx="285.5" cy="1705.9" r="4.6"/><circle cx="287.4" cy="1698.5" r="4.6"/><circle cx="289.3" cy="1694.1" r="4.6"/><circle cx="291.2" cy="1687.2" r="4.6"/><circle cx="293.1" cy="1682.0" r="4.6"/><circle cx="295.0" cy="1674.3" r="4.6"/><circle cx="296.9" cy="1666.4" r="4.6"/><circle cx="298.8" cy="1659.7" r="4.6"/><circle cx="300.7" cy="1651.5" r="4.6"/><circle cx="302.6" cy="1642.8" r="4.6"/><circle cx="304.5" cy="1628.0" r="4.6"/><circle cx="306.4" cy="1608.9" r="4.6"/><circle cx="308.3" cy="1594.4" r="4.6"/><circle cx="310.2" cy="1583.4" r="4.6"/><circle cx="312.1" cy="1573.0" r="4.6"/><circle cx="314.0" cy="1555.5" r="4.6"/><circle cx="315.9" cy="1544.8" r="4.6"/><circle cx="317.8" cy="1527.2" r="4.6"/><circle cx="319.7" cy="1514.7" r="4.6"/><circle cx="321.6" cy="1504.7" r="4.6"/><circle cx="323.5" cy="1496.1" r="4.6"/><circle cx="325.4" cy="1491.4" r="4.6"/><circle cx="327.3" cy="1489.1" r="4.6"/><circle cx="329.2" cy="1485.3" r="4.6"/><circle cx="331.1" cy="1484.9" r="4.6"/><circle cx="333.0" cy="1485.5" r="4.6"/><circle cx="334.9" cy="1486.5" r="4.6"/><circle cx="336.8" cy="1489.8" r="4.6"/><circle cx="338.7" cy="1497.8" r="4.6"/><circle cx="340.6" cy="1505.2" r="4.6"/><circle cx="342.5" cy="1514.2" r="4.6"/><circle cx="344.4" cy="1528.2" r="4.6"/><circle cx="346.3" cy="1544.7" r="4.6"/><circle cx="348.2" cy="1562.2" r="4.6"/><circle cx="350.1" cy="1574.8" r="4.6"/><circle cx="352.0" cy="1590.6" r="4.6"/><circle cx="353.9" cy="1606.1" r="4.6"/><circle cx="355.8" cy="1616.2" r="4.6"/><circle cx="357.7" cy="1628.5" r="4.6"/><circle cx="359.6" cy="1641.8" r="4.6"/><circle cx="361.5" cy="1655.1" r="4.6"/><circle cx="363.4" cy="1667.8" r="4.6"/><circle cx="365.3" cy="1681.2" r="4.6"/><circle cx="367.2" cy="1690.8" r="4.6"/><circle cx="369.1" cy="1701.2" r="4.6"/><circle cx="371.0" cy="1711.5" r="4.6"/><circle cx="372.9" cy="1720.5" r="4.6"/><circle cx="374.8" cy="1730.3" r="4.6"/><circle cx="376.7" cy="1737.6" r="4.6"/><circle cx="378.6" cy="1743.1" r="4.6"/><circle cx="380.5" cy="1748.9" r="4.6"/><circle cx="382.4" cy="1754.5" r="4.6"/><circle cx="384.3" cy="1759.3" r="4.6"/><circle cx="386.2" cy="1759.7" r="4.6"/><circle cx="388.1" cy="1764.3" r="4.6"/><circle cx="390.0" cy="1765.4" r="4.6"/><circle cx="391.9" cy="1768.6" r="4.6"/><circle cx="393.8" cy="1769.0" r="4.6"/><circle cx="395.7" cy="1770.9" r="4.6"/><circle cx="397.6" cy="1771.6" r="4.6"/><circle cx="399.5" cy="1773.2" r="4.6"/><circle cx="401.4" cy="1775.7" r="4.6"/><circle cx="403.3" cy="1776.4" r="4.6"/><circle cx="405.2" cy="1776.5" r="4.6"/><circle cx="407.1" cy="1777.0" r="4.6"/><circle cx="409.0" cy="1777.0" r="4.6"/><circle cx="410.9" cy="1778.4" r="4.6"/><circle cx="412.8" cy="1779.1" r="4.6"/><circle cx="414.7" cy="1779.5" r="4.6"/><circle cx="416.6" cy="1779.9" r="4.6"/><circle cx="418.5" cy="1779.6" r="4.6"/><circle cx="420.4" cy="1780.5" r="4.6"/><circle cx="422.3" cy="1780.8" r="4.6"/><circle cx="424.2" cy="1781.8" r="4.6"/><circle cx="426.1" cy="1782.4" r="4.6"/><circle cx="428.0" cy="1781.4" r="4.6"/><circle cx="429.9" cy="1781.2" r="4.6"/><circle cx="431.8" cy="1781.8" r="4.6"/><circle cx="433.7" cy="1781.6" r="4.6"/><circle cx="435.6" cy="1781.7" r="4.6"/><circle cx="437.5" cy="1782.3" r="4.6"/><circle cx="439.4" cy="1781.8" r="4.6"/><circle cx="441.3" cy="1783.0" r="4.6"/><circle cx="443.2" cy="1782.7" r="4.6"/><circle cx="445.1" cy="1783.0" r="4.6"/><circle cx="447.0" cy="1782.9" r="4.6"/><circle cx="448.9" cy="1782.7" r="4.6"/><circle cx="450.8" cy="1782.7" r="4.6"/><circle cx="452.7" cy="1783.3" r="4.6"/><circle cx="454.6" cy="1783.2" r="4.6"/><circle cx="456.5" cy="1783.8" r="4.6"/><circle cx="458.4" cy="1783.8" r="4.6"/><circle cx="460.3" cy="1783.1" r="4.6"/><circle cx="462.2" cy="1784.0" r="4.6"/><circle cx="464.1" cy="1783.3" r="4.6"/><circle cx="466.0" cy="1783.9" r="4.6"/><circle cx="467.9" cy="1784.2" r="4.6"/><circle cx="469.8" cy="1783.2" r="4.6"/><circle cx="471.7" cy="1784.7" r="4.6"/><circle cx="473.6" cy="1784.8" r="4.6"/><circle cx="475.5" cy="1784.8" r="4.6"/><circle cx="477.4" cy="1784.7" r="4.6"/><circle cx="479.3" cy="1784.9" r="4.6"/><circle cx="481.2" cy="1784.7" r="4.6"/><circle cx="483.1" cy="1785.2" r="4.6"/><circle cx="485.0" cy="1785.2" r="4.6"/><circle cx="486.9" cy="1785.7" r="4.6"/><circle cx="488.8" cy="1785.0" r="4.6"/><circle cx="490.7" cy="1786.0" r="4.6"/></g>
<text x="0" y="0" font-size="25.5" transform="translate(208.5,1709.8) rotate(-90) scale(1,1.05)" >-C=O</text>
<text x="0" y="0" font-size="25.5" transform="translate(270.0,1709.8) rotate(-90) scale(1,1.05)" >-C-O-</text>
<text x="0" y="0" font-size="25.5" transform="translate(342.0,1709.8) rotate(-90) scale(1,1.05)" >-C-C-</text>
<rect x="577.7" y="1045" width="462.3" height="794.5" fill="none" stroke="#000" stroke-width="3"/>
<line x1="1038.6" y1="1839.5" x2="1038.6" y2="1851.5" stroke="#000" stroke-width="3" />
<line x1="992.4" y1="1839.5" x2="992.4" y2="1851.5" stroke="#000" stroke-width="3" />
<line x1="946.3" y1="1839.5" x2="946.3" y2="1851.5" stroke="#000" stroke-width="3" />
<line x1="900.1" y1="1839.5" x2="900.1" y2="1860.5" stroke="#000" stroke-width="3" />
<text x="0" y="0" transform="translate(900.1,1897.7) scale(1,1.05)" font-size="34" text-anchor="middle" >530</text>
<line x1="853.9" y1="1839.5" x2="853.9" y2="1851.5" stroke="#000" stroke-width="3" />
<line x1="807.8" y1="1839.5" x2="807.8" y2="1851.5" stroke="#000" stroke-width="3" />
<line x1="761.6" y1="1839.5" x2="761.6" y2="1851.5" stroke="#000" stroke-width="3" />
<line x1="715.4" y1="1839.5" x2="715.4" y2="1851.5" stroke="#000" stroke-width="3" />
<line x1="669.2" y1="1839.5" x2="669.2" y2="1860.5" stroke="#000" stroke-width="3" />
<text x="0" y="0" transform="translate(669.2,1897.7) scale(1,1.05)" font-size="34" text-anchor="middle" >535</text>
<line x1="623.1" y1="1839.5" x2="623.1" y2="1851.5" stroke="#000" stroke-width="3" />
<line x1="576.9" y1="1839.5" x2="576.9" y2="1851.5" stroke="#000" stroke-width="3" />
<text x="0" y="0" transform="translate(808.9,1932.0) scale(1,1.05)" font-size="34.5" text-anchor="middle" >Binding Energy (eV)</text>
<text x="0" y="0" transform="translate(582.9,1028.0) scale(1,1.05)" font-size="34" text-anchor="start" >(c)</text>
<text x="0" y="0" transform="translate(581.6,1085.7) scale(1,1.05)" font-size="36.5" text-anchor="start" >O 1s</text>
<text x="0" y="0" transform="translate(581.3,1149.3) scale(1,1.05)" font-size="36.5" text-anchor="start" >h</text>
<text x="0" y="0" transform="translate(604.2,1149.3) scale(1,1.05)" font-size="29" text-anchor="start" >ν</text>
<text x="0" y="0" transform="translate(630.5,1149.3) scale(1,1.05)" font-size="36.5" text-anchor="start" >= 715 eV</text>
<text x="0" y="0" transform="translate(581.5,1316.7) scale(1,1.05)" font-size="34" text-anchor="start" >SS-SPC</text>
<text x="0" y="0" transform="translate(581.6,1351.7) scale(1,1.05)" font-size="34" text-anchor="start" >5 mg/ml</text>
<text x="0" y="0" transform="translate(581.8,1607.7) scale(1,1.05)" font-size="34" text-anchor="start" >SS-EC</text>
<text x="0" y="0" font-size="34.6" transform="translate(565.0,1580.9) rotate(-90) scale(1,1.05)" >PES intensity (a.u.)</text>
<g>
<rect x="910.4" y="1077.7" width="114.8" height="114.5" fill="url(#gg)"/>
<rect x="910.4" y="1055.7" width="114.8" height="22" fill="#3a2d8d"/>
<path d="M944.30,1056.20 L945.79,1057.38 L947.20,1058.56 L948.51,1059.74 L949.75,1060.92 L950.92,1062.10 L952.01,1063.28 L953.04,1064.46 L954.01,1065.64 L954.92,1066.82 L955.77,1067.99 L956.57,1069.17 L957.33,1070.35 L958.03,1071.53 L958.70,1072.71 L959.33,1073.89 L959.91,1075.07 L960.47,1076.25 L960.99,1077.43 L961.48,1078.61 L961.93,1079.79 L962.37,1080.97 L962.77,1082.15 L963.15,1083.33 L963.51,1084.51 L963.85,1085.69 L964.16,1086.87 L964.46,1088.05 L964.74,1089.23 L965.00,1090.41 L965.25,1091.58 L965.48,1092.76 L965.70,1093.94 L965.90,1095.12 L966.10,1096.30 L966.28,1097.48 L966.45,1098.66 L966.61,1099.84 L966.76,1101.02 L966.90,1102.20 L969.30,1102.20 L969.44,1101.02 L969.59,1099.84 L969.75,1098.66 L969.92,1097.48 L970.10,1096.30 L970.30,1095.12 L970.50,1093.94 L970.72,1092.76 L970.95,1091.58 L971.20,1090.41 L971.46,1089.23 L971.74,1088.05 L972.04,1086.87 L972.35,1085.69 L972.69,1084.51 L973.05,1083.33 L973.43,1082.15 L973.83,1080.97 L974.27,1079.79 L974.72,1078.61 L975.21,1077.43 L975.73,1076.25 L976.29,1075.07 L976.87,1073.89 L977.50,1072.71 L978.17,1071.53 L978.87,1070.35 L979.63,1069.17 L980.43,1067.99 L981.28,1066.82 L982.19,1065.64 L983.16,1064.46 L984.19,1063.28 L985.28,1062.10 L986.45,1060.92 L987.69,1059.74 L989.00,1058.56 L990.41,1057.38 L991.90,1056.20 Z" fill="#17a6e3" stroke="#000" stroke-width="1.4" stroke-linejoin="round"/>
<line x1="968.1" y1="1099.7" x2="968.1" y2="1127.2" stroke="#000" stroke-width="3" stroke-linecap="round"/>
<line x1="910.4" y1="1077.7" x2="1025.2" y2="1077.7" stroke="#120c2a" stroke-width="1.8" />
<line x1="910.4" y1="1056.2" x2="1025.2" y2="1056.2" stroke="#111" stroke-width="1.8" />
<rect x="910.4" y="1055.7" width="114.8" height="136.5" fill="none" stroke="#444" stroke-width="1.8"/>
<text x="0" y="0" transform="translate(913.3,1074.6) scale(1,1.05)" font-size="15.5" text-anchor="start" font-weight="bold" style="fill:#cfc9ef">SPC</text>
<text x="0" y="0" transform="translate(913.3,1100.0) scale(1,1.05)" font-size="15.5" text-anchor="start" font-weight="bold" style="fill:#e4e4e4">SS-</text>
<text x="0" y="0" transform="translate(912.7,1118.0) scale(1,1.05)" font-size="15.5" text-anchor="start" font-weight="bold" style="fill:#e8e8e8">EC</text>
<text x="0" y="0" transform="translate(913.3,1153.2) scale(1,1.05)" font-size="15.5" text-anchor="start" font-weight="bold" style="fill:#eeeeee">SS</text>
</g>
<polyline points="578.0,1452.3 582.0,1452.3 586.0,1452.4 590.0,1452.4 594.0,1452.5 598.0,1452.5 602.0,1452.6 606.0,1452.6 610.0,1452.7 614.0,1452.7 618.0,1452.8 622.0,1452.8 626.0,1452.9 630.0,1452.9 634.0,1453.0 638.0,1453.0 642.0,1453.1 646.0,1453.1 650.0,1453.2 654.0,1453.2 658.0,1453.3 662.0,1453.3 666.0,1453.4 670.0,1453.4 674.0,1453.5 678.0,1453.5 682.0,1453.6 686.0,1453.6 690.0,1453.7 694.0,1453.7 698.0,1453.8 702.0,1453.8 706.0,1453.9 710.0,1454.0 714.0,1454.0 718.0,1454.1 722.0,1454.2 726.0,1454.2 730.0,1454.3 734.0,1454.4 738.0,1454.4 742.0,1454.5 746.0,1454.6 750.0,1454.6 754.0,1454.7 758.0,1454.8 762.0,1454.9 766.0,1455.2 770.0,1455.5 774.0,1455.8 778.0,1456.1 782.0,1456.4 786.0,1456.7 790.0,1457.0 794.0,1457.3 798.0,1457.6 802.0,1457.9 806.0,1458.2 810.0,1458.6 814.0,1458.9 818.0,1459.2 822.0,1459.6 826.0,1459.9 830.0,1460.2 834.0,1460.6 838.0,1460.9 842.0,1461.2 846.0,1461.5 850.0,1461.9 854.0,1462.2 858.0,1462.5 862.0,1462.9 866.0,1463.2 870.0,1463.5 874.0,1463.9 878.0,1464.0 882.0,1464.1 886.0,1464.3 890.0,1464.4 894.0,1464.5 898.0,1464.6 902.0,1464.8 906.0,1464.9 910.0,1465.0 914.0,1465.2 918.0,1465.3 922.0,1465.4 926.0,1465.5 930.0,1465.7 934.0,1465.8 938.0,1465.9 942.0,1466.0 946.0,1466.2 950.0,1466.3 954.0,1466.4 958.0,1466.5 962.0,1466.6 966.0,1466.7 970.0,1466.7 974.0,1466.8 978.0,1466.8 982.0,1466.8 986.0,1466.9 990.0,1466.9 994.0,1467.0 998.0,1467.0 1002.0,1467.1 1006.0,1467.1 1010.0,1467.2 1014.0,1467.2 1018.0,1467.3 1022.0,1467.3 1026.0,1467.3 1030.0,1467.4 1034.0,1467.4 1038.0,1467.5" fill="none" stroke="#000" stroke-width="1.4" stroke-linejoin="round" stroke-linecap="round" />
<polyline points="578.0,1803.3 582.0,1803.4 586.0,1803.4 590.0,1803.5 594.0,1803.6 598.0,1803.7 602.0,1803.7 606.0,1803.8 610.0,1803.9 614.0,1803.9 618.0,1804.0 622.0,1804.1 626.0,1804.2 630.0,1804.2 634.0,1804.3 638.0,1804.4 642.0,1804.4 646.0,1804.5 650.0,1804.6 654.0,1804.7 658.0,1804.7 662.0,1804.8 666.0,1804.9 670.0,1804.9 674.0,1805.0 678.0,1805.1 682.0,1805.2 686.0,1805.2 690.0,1805.3 694.0,1805.4 698.0,1805.4 702.0,1805.5 706.0,1805.6 710.0,1805.7 714.0,1805.7 718.0,1805.8 722.0,1805.9 726.0,1805.9 730.0,1806.0 734.0,1806.1 738.0,1806.2 742.0,1806.2 746.0,1806.3 750.0,1806.4 754.0,1806.4 758.0,1806.5 762.0,1806.6 766.0,1806.7 770.0,1806.7 774.0,1806.8 778.0,1806.9 782.0,1807.0 786.0,1807.1 790.0,1807.2 794.0,1807.4 798.0,1807.5 802.0,1807.6 806.0,1807.8 810.0,1807.9 814.0,1808.0 818.0,1808.2 822.0,1808.3 826.0,1808.4 830.0,1808.6 834.0,1808.7 838.0,1808.8 842.0,1809.0 846.0,1809.1 850.0,1809.2 854.0,1809.4 858.0,1809.5 862.0,1809.6 866.0,1809.8 870.0,1809.9 874.0,1810.0 878.0,1810.2 882.0,1810.3 886.0,1810.4 890.0,1810.6 894.0,1810.7 898.0,1810.8 902.0,1810.9 906.0,1811.0 910.0,1811.1 914.0,1811.2 918.0,1811.3 922.0,1811.4 926.0,1811.5 930.0,1811.6 934.0,1811.7 938.0,1811.7 942.0,1811.8 946.0,1811.9 950.0,1812.0 954.0,1812.1 958.0,1812.2 962.0,1812.3 966.0,1812.4 970.0,1812.5 974.0,1812.5 978.0,1812.6 982.0,1812.7 986.0,1812.8 990.0,1812.9 994.0,1813.0 998.0,1813.1 1002.0,1813.2 1006.0,1813.2 1010.0,1813.3 1014.0,1813.4 1018.0,1813.5 1022.0,1813.6 1026.0,1813.7 1030.0,1813.8 1034.0,1813.9 1038.0,1814.0" fill="none" stroke="#000" stroke-width="1.4" stroke-linejoin="round" stroke-linecap="round" />
<polyline points="654.0,1452.9 655.0,1452.8 656.0,1452.8 657.0,1452.8 658.0,1452.7 659.0,1452.7 660.0,1452.6 661.0,1452.6 662.0,1452.5 663.0,1452.4 664.0,1452.3 665.0,1452.2 666.0,1452.1 667.0,1452.0 668.0,1451.8 669.0,1451.7 670.0,1451.5 671.0,1451.3 672.0,1451.2 673.0,1450.9 674.0,1450.7 675.0,1450.4 676.0,1450.2 677.0,1449.9 678.0,1449.5 679.0,1449.2 680.0,1448.8 681.0,1448.4 682.0,1447.9 683.0,1447.4 684.0,1446.9 685.0,1446.4 686.0,1445.7 687.0,1445.1 688.0,1444.4 689.0,1443.7 690.0,1442.9 691.0,1442.0 692.0,1441.1 693.0,1440.1 694.0,1439.1 695.0,1438.0 696.0,1436.8 697.0,1435.6 698.0,1434.3 699.0,1432.9 700.0,1431.4 701.0,1429.9 702.0,1428.2 703.0,1426.5 704.0,1424.7 705.0,1422.8 706.0,1420.8 707.0,1418.7 708.0,1416.5 709.0,1414.2 710.0,1411.8 711.0,1409.3 712.0,1406.7 713.0,1404.0 714.0,1401.2 715.0,1398.2 716.0,1395.2 717.0,1392.1 718.0,1388.8 719.0,1385.4 720.0,1382.0 721.0,1378.4 722.0,1374.7 723.0,1370.9 724.0,1367.1 725.0,1363.1 726.0,1359.0 727.0,1354.9 728.0,1350.6 729.0,1346.3 730.0,1341.9 731.0,1337.4 732.0,1332.9 733.0,1328.3 734.0,1323.7 735.0,1319.0 736.0,1314.3 737.0,1309.6 738.0,1304.8 739.0,1300.0 740.0,1295.2 741.0,1290.5 742.0,1285.7 743.0,1281.0 744.0,1276.3 745.0,1271.6 746.0,1267.0 747.0,1262.5 748.0,1258.0 749.0,1253.7 750.0,1249.4 751.0,1245.2 752.0,1241.2 753.0,1237.3 754.0,1233.5 755.0,1229.9 756.0,1226.4 757.0,1223.1 758.0,1219.9 759.0,1217.0 760.0,1214.2 761.0,1211.7 762.0,1209.4 763.0,1207.3 764.0,1205.4 765.0,1203.7 766.0,1202.3 767.0,1201.1 768.0,1200.1 769.0,1199.4 770.0,1198.9 771.0,1198.7 772.0,1198.7 773.0,1198.9 774.0,1199.4 775.0,1200.2 776.0,1201.1 777.0,1202.3 778.0,1203.8 779.0,1205.4 780.0,1207.3 781.0,1209.5 782.0,1211.8 783.0,1214.3 784.0,1217.1 785.0,1220.0 786.0,1223.1 787.0,1226.4 788.0,1229.9 789.0,1233.5 790.0,1237.3 791.0,1241.3 792.0,1245.3 793.0,1249.5 794.0,1253.8 795.0,1258.2 796.0,1262.7 797.0,1267.3 798.0,1271.9 799.0,1276.6 800.0,1281.4 801.0,1286.2 802.0,1291.0 803.0,1295.9 804.0,1300.8 805.0,1305.6 806.0,1310.5 807.0,1315.4 808.0,1320.2 809.0,1325.0 810.0,1329.8 811.0,1334.5 812.0,1339.1 813.0,1343.7 814.0,1348.3 815.0,1352.7 816.0,1357.1 817.0,1361.4 818.0,1365.7 819.0,1369.8 820.0,1373.8 821.0,1377.8 822.0,1381.6 823.0,1385.3 824.0,1389.0 825.0,1392.5 826.0,1395.9 827.0,1399.2 828.0,1402.4 829.0,1405.5 830.0,1408.5 831.0,1411.4 832.0,1414.2 833.0,1416.8 834.0,1419.4 835.0,1421.8 836.0,1424.2 837.0,1426.4 838.0,1428.6 839.0,1430.7 840.0,1432.6 841.0,1434.5 842.0,1436.3 843.0,1438.0 844.0,1439.6 845.0,1441.1 846.0,1442.6 847.0,1444.0 848.0,1445.3 849.0,1446.5 850.0,1447.7 851.0,1448.8 852.0,1449.8 853.0,1450.8 854.0,1451.7 855.0,1452.6 856.0,1453.4 857.0,1454.2 858.0,1454.9 859.0,1455.6 860.0,1456.2 861.0,1456.8 862.0,1457.4 863.0,1457.9 864.0,1458.4 865.0,1458.9 866.0,1459.4 867.0,1459.8 868.0,1460.2 869.0,1460.5 870.0,1460.9 871.0,1461.2 872.0,1461.5 873.0,1461.8 874.0,1462.0 875.0,1462.3 876.0,1462.4 877.0,1462.6 878.0,1462.8 879.0,1462.9 880.0,1463.1 881.0,1463.2 882.0,1463.3 883.0,1463.4 884.0,1463.5 885.0,1463.6 886.0,1463.7 887.0,1463.8 888.0,1463.9 889.0,1464.0" fill="none" stroke="#ff0000" stroke-width="2.4" stroke-linejoin="round" stroke-linecap="round" />
<polyline points="717.0,1453.7 718.0,1453.7 719.0,1453.7 720.0,1453.6 721.0,1453.6 722.0,1453.6 723.0,1453.5 724.0,1453.5 725.0,1453.4 726.0,1453.3 727.0,1453.2 728.0,1453.2 729.0,1453.1 730.0,1452.9 731.0,1452.8 732.0,1452.7 733.0,1452.5 734.0,1452.4 735.0,1452.2 736.0,1452.0 737.0,1451.8 738.0,1451.6 739.0,1451.3 740.0,1451.1 741.0,1450.8 742.0,1450.5 743.0,1450.1 744.0,1449.7 745.0,1449.3 746.0,1448.9 747.0,1448.4 748.0,1448.0 749.0,1447.4 750.0,1446.8 751.0,1446.2 752.0,1445.6 753.0,1444.9 754.0,1444.1 755.0,1443.3 756.0,1442.5 757.0,1441.6 758.0,1440.6 759.0,1439.6 760.0,1438.5 761.0,1437.4 762.0,1436.3 763.0,1435.1 764.0,1433.8 765.0,1432.4 766.0,1431.0 767.0,1429.5 768.0,1427.9 769.0,1426.2 770.0,1424.5 771.0,1422.7 772.0,1420.7 773.0,1418.7 774.0,1416.7 775.0,1414.5 776.0,1412.2 777.0,1409.9 778.0,1407.4 779.0,1404.9 780.0,1402.3 781.0,1399.5 782.0,1396.7 783.0,1393.8 784.0,1390.9 785.0,1387.8 786.0,1384.7 787.0,1381.4 788.0,1378.1 789.0,1374.7 790.0,1371.3 791.0,1367.8 792.0,1364.2 793.0,1360.5 794.0,1356.8 795.0,1353.0 796.0,1349.2 797.0,1345.4 798.0,1341.5 799.0,1337.6 800.0,1333.6 801.0,1329.7 802.0,1325.7 803.0,1321.7 804.0,1317.8 805.0,1313.8 806.0,1309.9 807.0,1306.0 808.0,1302.1 809.0,1298.3 810.0,1294.6 811.0,1290.9 812.0,1287.3 813.0,1283.7 814.0,1280.3 815.0,1276.9 816.0,1273.6 817.0,1270.5 818.0,1267.5 819.0,1264.6 820.0,1261.8 821.0,1259.2 822.0,1256.7 823.0,1254.4 824.0,1252.2 825.0,1250.3 826.0,1248.5 827.0,1246.8 828.0,1245.4 829.0,1244.1 830.0,1243.0 831.0,1242.2 832.0,1241.5 833.0,1241.0 834.0,1240.7 835.0,1240.6 836.0,1240.8 837.0,1241.1 838.0,1241.6 839.0,1242.3 840.0,1243.3 841.0,1244.4 842.0,1245.7 843.0,1247.2 844.0,1248.9 845.0,1250.8 846.0,1252.8 847.0,1255.0 848.0,1257.4 849.0,1260.0 850.0,1262.7 851.0,1265.5 852.0,1268.5 853.0,1271.6 854.0,1274.8 855.0,1278.2 856.0,1281.7 857.0,1285.2 858.0,1288.9 859.0,1292.6 860.0,1296.5 861.0,1300.3 862.0,1304.3 863.0,1308.3 864.0,1312.3 865.0,1316.4 866.0,1320.5 867.0,1324.6 868.0,1328.7 869.0,1332.9 870.0,1337.0 871.0,1341.1 872.0,1345.2 873.0,1349.2 874.0,1353.3 875.0,1357.2 876.0,1361.1 877.0,1365.0 878.0,1368.8 879.0,1372.5 880.0,1376.2 881.0,1379.8 882.0,1383.3 883.0,1386.8 884.0,1390.2 885.0,1393.5 886.0,1396.7 887.0,1399.8 888.0,1402.9 889.0,1405.8 890.0,1408.7 891.0,1411.5 892.0,1414.2 893.0,1416.8 894.0,1419.3 895.0,1421.7 896.0,1424.1 897.0,1426.3 898.0,1428.5 899.0,1430.5 900.0,1432.5 901.0,1434.4 902.0,1436.2 903.0,1438.0 904.0,1439.6 905.0,1441.2 906.0,1442.7 907.0,1444.2 908.0,1445.5 909.0,1446.8 910.0,1448.1 911.0,1449.2 912.0,1450.3 913.0,1451.4 914.0,1452.3 915.0,1453.3 916.0,1454.2 917.0,1455.0 918.0,1455.8 919.0,1456.5 920.0,1457.2 921.0,1457.8 922.0,1458.4 923.0,1459.0 924.0,1459.5 925.0,1460.0 926.0,1460.5 927.0,1460.9 928.0,1461.3 929.0,1461.7 930.0,1462.1 931.0,1462.4 932.0,1462.7 933.0,1463.0 934.0,1463.3 935.0,1463.5 936.0,1463.8 937.0,1464.0 938.0,1464.2 939.0,1464.4 940.0,1464.5 941.0,1464.7 942.0,1464.9 943.0,1465.0 944.0,1465.1 945.0,1465.3 946.0,1465.4 947.0,1465.5 948.0,1465.6 949.0,1465.7 950.0,1465.8 951.0,1465.8 952.0,1465.9 953.0,1466.0" fill="none" stroke="#0000ff" stroke-width="2.4" stroke-linejoin="round" stroke-linecap="round" />
<polyline points="786.0,1456.4 787.0,1456.4 788.0,1456.5 789.0,1456.5 790.0,1456.5 791.0,1456.5 792.0,1456.5 793.0,1456.6 794.0,1456.6 795.0,1456.6 796.0,1456.6 797.0,1456.5 798.0,1456.5 799.0,1456.5 800.0,1456.5 801.0,1456.4 802.0,1456.4 803.0,1456.3 804.0,1456.2 805.0,1456.1 806.0,1456.0 807.0,1455.9 808.0,1455.8 809.0,1455.7 810.0,1455.5 811.0,1455.4 812.0,1455.2 813.0,1455.0 814.0,1454.8 815.0,1454.5 816.0,1454.3 817.0,1454.0 818.0,1453.7 819.0,1453.3 820.0,1453.0 821.0,1452.6 822.0,1452.2 823.0,1451.8 824.0,1451.3 825.0,1450.8 826.0,1450.3 827.0,1449.7 828.0,1449.1 829.0,1448.5 830.0,1447.8 831.0,1447.1 832.0,1446.4 833.0,1445.6 834.0,1444.8 835.0,1444.0 836.0,1443.1 837.0,1442.1 838.0,1441.1 839.0,1440.1 840.0,1439.1 841.0,1438.0 842.0,1436.8 843.0,1435.6 844.0,1434.4 845.0,1433.1 846.0,1431.8 847.0,1430.4 848.0,1429.0 849.0,1427.6 850.0,1426.1 851.0,1424.5 852.0,1423.0 853.0,1421.4 854.0,1419.7 855.0,1418.0 856.0,1416.3 857.0,1414.6 858.0,1412.8 859.0,1411.0 860.0,1409.2 861.0,1407.4 862.0,1405.5 863.0,1403.6 864.0,1401.7 865.0,1399.8 866.0,1397.9 867.0,1396.0 868.0,1394.1 869.0,1392.1 870.0,1390.2 871.0,1388.3 872.0,1386.4 873.0,1384.6 874.0,1382.7 875.0,1380.8 876.0,1379.0 877.0,1377.2 878.0,1375.4 879.0,1373.7 880.0,1372.0 881.0,1370.3 882.0,1368.7 883.0,1367.2 884.0,1365.7 885.0,1364.3 886.0,1362.9 887.0,1361.6 888.0,1360.4 889.0,1359.3 890.0,1358.2 891.0,1357.3 892.0,1356.4 893.0,1355.6 894.0,1354.8 895.0,1354.2 896.0,1353.7 897.0,1353.3 898.0,1352.9 899.0,1352.7 900.0,1352.5 901.0,1352.4 902.0,1352.5 903.0,1352.6 904.0,1352.9 905.0,1353.2 906.0,1353.6 907.0,1354.1 908.0,1354.8 909.0,1355.5 910.0,1356.3 911.0,1357.1 912.0,1358.1 913.0,1359.2 914.0,1360.3 915.0,1361.5 916.0,1362.8 917.0,1364.2 918.0,1365.6 919.0,1367.1 920.0,1368.6 921.0,1370.3 922.0,1371.9 923.0,1373.7 924.0,1375.4 925.0,1377.2 926.0,1379.1 927.0,1381.0 928.0,1382.9 929.0,1384.8 930.0,1386.8 931.0,1388.8 932.0,1390.8 933.0,1392.8 934.0,1394.9 935.0,1396.9 936.0,1398.9 937.0,1401.0 938.0,1403.0 939.0,1405.0 940.0,1407.0 941.0,1409.0 942.0,1411.0 943.0,1412.9 944.0,1414.9 945.0,1416.8 946.0,1418.7 947.0,1420.5 948.0,1422.3 949.0,1424.1 950.0,1425.9 951.0,1427.6 952.0,1429.2 953.0,1430.9 954.0,1432.5 955.0,1434.0 956.0,1435.5 957.0,1437.0 958.0,1438.4 959.0,1439.8 960.0,1441.2 961.0,1442.4 962.0,1443.7 963.0,1444.9 964.0,1446.0 965.0,1447.1 966.0,1448.2 967.0,1449.2 968.0,1450.2 969.0,1451.1 970.0,1452.0 971.0,1452.9 972.0,1453.7 973.0,1454.5 974.0,1455.3 975.0,1456.0 976.0,1456.7 977.0,1457.3 978.0,1457.9 979.0,1458.5 980.0,1459.1 981.0,1459.6 982.0,1460.1 983.0,1460.6 984.0,1461.0 985.0,1461.4 986.0,1461.8 987.0,1462.2 988.0,1462.5 989.0,1462.9 990.0,1463.2 991.0,1463.5 992.0,1463.7 993.0,1464.0 994.0,1464.2 995.0,1464.5 996.0,1464.7 997.0,1464.9 998.0,1465.0 999.0,1465.2 1000.0,1465.4 1001.0,1465.5 1002.0,1465.7 1003.0,1465.8 1004.0,1465.9 1005.0,1466.0 1006.0,1466.1 1007.0,1466.2 1008.0,1466.3 1009.0,1466.4 1010.0,1466.5 1011.0,1466.6 1012.0,1466.6 1013.0,1466.7 1014.0,1466.7 1015.0,1466.8 1016.0,1466.8" fill="none" stroke="#000" stroke-width="1.8" stroke-linejoin="round" stroke-linecap="round" />
<polyline points="579.0,1454.1 581.4,1453.9 583.8,1453.7 586.2,1454.3 588.6,1453.0 591.0,1454.3 593.4,1454.1 595.8,1454.1 598.2,1454.2 600.6,1453.5 603.0,1453.8 605.4,1454.3 607.8,1454.1 610.2,1453.8 612.6,1452.5 615.0,1453.5 617.4,1453.5 619.8,1453.1 622.2,1452.3 624.6,1451.0 627.0,1452.2 629.4,1451.3 631.8,1449.5 634.2,1451.0 636.6,1449.5 639.0,1449.3 641.4,1449.3 643.8,1449.9 646.2,1448.4 648.6,1448.2 651.0,1448.4 653.4,1447.7 655.8,1446.1 658.2,1445.5 660.6,1444.4 663.0,1444.1 665.4,1444.2 667.8,1443.5 670.2,1442.5 672.6,1442.1 675.0,1439.9 677.4,1439.1 679.8,1438.2 682.2,1436.5 684.6,1435.0 687.0,1432.3 689.4,1429.4 691.8,1427.1 694.2,1423.5 696.6,1420.1 699.0,1418.3 701.4,1414.5 703.8,1411.5 706.2,1407.0 708.6,1403.8 711.0,1398.6 713.4,1392.9 715.8,1385.4 718.2,1378.5 720.6,1373.1 723.0,1363.5 725.4,1354.0 727.8,1346.6 730.2,1337.3 732.6,1325.6 735.0,1315.7 737.4,1303.5 739.8,1292.4 742.2,1278.7 744.6,1268.7 747.0,1254.3 749.4,1236.3 751.8,1224.3 754.2,1214.6 756.6,1206.5 759.0,1198.0 761.4,1191.9 763.8,1180.2 766.2,1170.0 768.6,1159.6 771.0,1153.9 773.4,1148.5 775.8,1146.3 778.2,1142.1 780.6,1140.5 783.0,1139.9 785.4,1140.8 787.8,1141.7 790.2,1141.0 792.6,1142.1 795.0,1143.6 797.4,1143.7 799.8,1144.0 802.2,1146.5 804.6,1147.4 807.0,1148.9 809.4,1150.0 811.8,1152.6 814.2,1153.5 816.6,1156.0 819.0,1156.5 821.4,1158.4 823.8,1161.1 826.2,1162.9 828.6,1166.2 831.0,1168.7 833.4,1171.0 835.8,1174.8 838.2,1178.1 840.6,1182.8 843.0,1186.3 845.4,1191.5 847.8,1198.3 850.2,1204.9 852.6,1210.4 855.0,1215.1 857.4,1221.2 859.8,1228.4 862.2,1234.1 864.6,1240.7 867.0,1249.5 869.4,1258.0 871.8,1264.5 874.2,1270.6 876.6,1276.5 879.0,1282.9 881.4,1286.7 883.8,1290.9 886.2,1294.5 888.6,1297.8 891.0,1300.2 893.4,1303.4 895.8,1305.3 898.2,1308.4 900.6,1311.3 903.0,1316.6 905.4,1321.8 907.8,1327.0 910.2,1331.6 912.6,1335.8 915.0,1340.4 917.4,1342.9 919.8,1347.3 922.2,1352.5 924.6,1360.5 927.0,1366.6 929.4,1374.0 931.8,1382.5 934.2,1389.9 936.6,1394.4 939.0,1400.0 941.4,1407.1 943.8,1412.8 946.2,1418.8 948.6,1423.9 951.0,1431.0 953.4,1435.4 955.8,1438.2 958.2,1441.2 960.6,1442.2 963.0,1446.2 965.4,1448.0 967.8,1450.5 970.2,1452.6 972.6,1453.5 975.0,1453.9 977.4,1456.2 979.8,1456.5 982.2,1457.6 984.6,1458.2 987.0,1458.9 989.4,1458.3 991.8,1460.8 994.2,1460.7 996.6,1461.6 999.0,1462.5 1001.4,1461.6 1003.8,1460.8 1006.2,1461.6 1008.6,1461.7 1011.0,1462.4 1013.4,1463.1 1015.8,1462.1 1018.2,1463.7 1020.6,1462.9 1023.0,1464.2 1025.4,1464.2 1027.8,1464.3 1030.2,1464.6 1032.6,1464.5 1035.0,1464.6 1037.4,1464.2" fill="none" stroke="#000" stroke-width="3" stroke-linejoin="round" stroke-linecap="round" />
<g fill="#000"><circle cx="579.0" cy="1454.1" r="4.6"/><circle cx="581.4" cy="1453.9" r="4.6"/><circle cx="583.8" cy="1453.7" r="4.6"/><circle cx="586.2" cy="1454.3" r="4.6"/><circle cx="588.6" cy="1453.0" r="4.6"/><circle cx="591.0" cy="1454.3" r="4.6"/><circle cx="593.4" cy="1454.1" r="4.6"/><circle cx="595.8" cy="1454.1" r="4.6"/><circle cx="598.2" cy="1454.2" r="4.6"/><circle cx="600.6" cy="1453.5" r="4.6"/><circle cx="603.0" cy="1453.8" r="4.6"/><circle cx="605.4" cy="1454.3" r="4.6"/><circle cx="607.8" cy="1454.1" r="4.6"/><circle cx="610.2" cy="1453.8" r="4.6"/><circle cx="612.6" cy="1452.5" r="4.6"/><circle cx="615.0" cy="1453.5" r="4.6"/><circle cx="617.4" cy="1453.5" r="4.6"/><circle cx="619.8" cy="1453.1" r="4.6"/><circle cx="622.2" cy="1452.3" r="4.6"/><circle cx="624.6" cy="1451.0" r="4.6"/><circle cx="627.0" cy="1452.2" r="4.6"/><circle cx="629.4" cy="1451.3" r="4.6"/><circle cx="631.8" cy="1449.5" r="4.6"/><circle cx="634.2" cy="1451.0" r="4.6"/><circle cx="636.6" cy="1449.5" r="4.6"/><circle cx="639.0" cy="1449.3" r="4.6"/><circle cx="641.4" cy="1449.3" r="4.6"/><circle cx="643.8" cy="1449.9" r="4.6"/><circle cx="646.2" cy="1448.4" r="4.6"/><circle cx="648.6" cy="1448.2" r="4.6"/><circle cx="651.0" cy="1448.4" r="4.6"/><circle cx="653.4" cy="1447.7" r="4.6"/><circle cx="655.8" cy="1446.1" r="4.6"/><circle cx="658.2" cy="1445.5" r="4.6"/><circle cx="660.6" cy="1444.4" r="4.6"/><circle cx="663.0" cy="1444.1" r="4.6"/><circle cx="665.4" cy="1444.2" r="4.6"/><circle cx="667.8" cy="1443.5" r="4.6"/><circle cx="670.2" cy="1442.5" r="4.6"/><circle cx="672.6" cy="1442.1" r="4.6"/><circle cx="675.0" cy="1439.9" r="4.6"/><circle cx="677.4" cy="1439.1" r="4.6"/><circle cx="679.8" cy="1438.2" r="4.6"/><circle cx="682.2" cy="1436.5" r="4.6"/><circle cx="684.6" cy="1435.0" r="4.6"/><circle cx="687.0" cy="1432.3" r="4.6"/><circle cx="689.4" cy="1429.4" r="4.6"/><circle cx="691.8" cy="1427.1" r="4.6"/><circle cx="694.2" cy="1423.5" r="4.6"/><circle cx="696.6" cy="1420.1" r="4.6"/><circle cx="699.0" cy="1418.3" r="4.6"/><circle cx="701.4" cy="1414.5" r="4.6"/><circle cx="703.8" cy="1411.5" r="4.6"/><circle cx="706.2" cy="1407.0" r="4.6"/><circle cx="708.6" cy="1403.8" r="4.6"/><circle cx="711.0" cy="1398.6" r="4.6"/><circle cx="713.4" cy="1392.9" r="4.6"/><circle cx="715.8" cy="1385.4" r="4.6"/><circle cx="718.2" cy="1378.5" r="4.6"/><circle cx="720.6" cy="1373.1" r="4.6"/><circle cx="723.0" cy="1363.5" r="4.6"/><circle cx="725.4" cy="1354.0" r="4.6"/><circle cx="727.8" cy="1346.6" r="4.6"/><circle cx="730.2" cy="1337.3" r="4.6"/><circle cx="732.6" cy="1325.6" r="4.6"/><circle cx="735.0" cy="1315.7" r="4.6"/><circle cx="737.4" cy="1303.5" r="4.6"/><circle cx="739.8" cy="1292.4" r="4.6"/><circle cx="742.2" cy="1278.7" r="4.6"/><circle cx="744.6" cy="1268.7" r="4.6"/><circle cx="747.0" cy="1254.3" r="4.6"/><circle cx="749.4" cy="1236.3" r="4.6"/><circle cx="751.8" cy="1224.3" r="4.6"/><circle cx="754.2" cy="1214.6" r="4.6"/><circle cx="756.6" cy="1206.5" r="4.6"/><circle cx="759.0" cy="1198.0" r="4.6"/><circle cx="761.4" cy="1191.9" r="4.6"/><circle cx="763.8" cy="1180.2" r="4.6"/><circle cx="766.2" cy="1170.0" r="4.6"/><circle cx="768.6" cy="1159.6" r="4.6"/><circle cx="771.0" cy="1153.9" r="4.6"/><circle cx="773.4" cy="1148.5" r="4.6"/><circle cx="775.8" cy="1146.3" r="4.6"/><circle cx="778.2" cy="1142.1" r="4.6"/><circle cx="780.6" cy="1140.5" r="4.6"/><circle cx="783.0" cy="1139.9" r="4.6"/><circle cx="785.4" cy="1140.8" r="4.6"/><circle cx="787.8" cy="1141.7" r="4.6"/><circle cx="790.2" cy="1141.0" r="4.6"/><circle cx="792.6" cy="1142.1" r="4.6"/><circle cx="795.0" cy="1143.6" r="4.6"/><circle cx="797.4" cy="1143.7" r="4.6"/><circle cx="799.8" cy="1144.0" r="4.6"/><circle cx="802.2" cy="1146.5" r="4.6"/><circle cx="804.6" cy="1147.4" r="4.6"/><circle cx="807.0" cy="1148.9" r="4.6"/><circle cx="809.4" cy="1150.0" r="4.6"/><circle cx="811.8" cy="1152.6" r="4.6"/><circle cx="814.2" cy="1153.5" r="4.6"/><circle cx="816.6" cy="1156.0" r="4.6"/><circle cx="819.0" cy="1156.5" r="4.6"/><circle cx="821.4" cy="1158.4" r="4.6"/><circle cx="823.8" cy="1161.1" r="4.6"/><circle cx="826.2" cy="1162.9" r="4.6"/><circle cx="828.6" cy="1166.2" r="4.6"/><circle cx="831.0" cy="1168.7" r="4.6"/><circle cx="833.4" cy="1171.0" r="4.6"/><circle cx="835.8" cy="1174.8" r="4.6"/><circle cx="838.2" cy="1178.1" r="4.6"/><circle cx="840.6" cy="1182.8" r="4.6"/><circle cx="843.0" cy="1186.3" r="4.6"/><circle cx="845.4" cy="1191.5" r="4.6"/><circle cx="847.8" cy="1198.3" r="4.6"/><circle cx="850.2" cy="1204.9" r="4.6"/><circle cx="852.6" cy="1210.4" r="4.6"/><circle cx="855.0" cy="1215.1" r="4.6"/><circle cx="857.4" cy="1221.2" r="4.6"/><circle cx="859.8" cy="1228.4" r="4.6"/><circle cx="862.2" cy="1234.1" r="4.6"/><circle cx="864.6" cy="1240.7" r="4.6"/><circle cx="867.0" cy="1249.5" r="4.6"/><circle cx="869.4" cy="1258.0" r="4.6"/><circle cx="871.8" cy="1264.5" r="4.6"/><circle cx="874.2" cy="1270.6" r="4.6"/><circle cx="876.6" cy="1276.5" r="4.6"/><circle cx="879.0" cy="1282.9" r="4.6"/><circle cx="881.4" cy="1286.7" r="4.6"/><circle cx="883.8" cy="1290.9" r="4.6"/><circle cx="886.2" cy="1294.5" r="4.6"/><circle cx="888.6" cy="1297.8" r="4.6"/><circle cx="891.0" cy="1300.2" r="4.6"/><circle cx="893.4" cy="1303.4" r="4.6"/><circle cx="895.8" cy="1305.3" r="4.6"/><circle cx="898.2" cy="1308.4" r="4.6"/><circle cx="900.6" cy="1311.3" r="4.6"/><circle cx="903.0" cy="1316.6" r="4.6"/><circle cx="905.4" cy="1321.8" r="4.6"/><circle cx="907.8" cy="1327.0" r="4.6"/><circle cx="910.2" cy="1331.6" r="4.6"/><circle cx="912.6" cy="1335.8" r="4.6"/><circle cx="915.0" cy="1340.4" r="4.6"/><circle cx="917.4" cy="1342.9" r="4.6"/><circle cx="919.8" cy="1347.3" r="4.6"/><circle cx="922.2" cy="1352.5" r="4.6"/><circle cx="924.6" cy="1360.5" r="4.6"/><circle cx="927.0" cy="1366.6" r="4.6"/><circle cx="929.4" cy="1374.0" r="4.6"/><circle cx="931.8" cy="1382.5" r="4.6"/><circle cx="934.2" cy="1389.9" r="4.6"/><circle cx="936.6" cy="1394.4" r="4.6"/><circle cx="939.0" cy="1400.0" r="4.6"/><circle cx="941.4" cy="1407.1" r="4.6"/><circle cx="943.8" cy="1412.8" r="4.6"/><circle cx="946.2" cy="1418.8" r="4.6"/><circle cx="948.6" cy="1423.9" r="4.6"/><circle cx="951.0" cy="1431.0" r="4.6"/><circle cx="953.4" cy="1435.4" r="4.6"/><circle cx="955.8" cy="1438.2" r="4.6"/><circle cx="958.2" cy="1441.2" r="4.6"/><circle cx="960.6" cy="1442.2" r="4.6"/><circle cx="963.0" cy="1446.2" r="4.6"/><circle cx="965.4" cy="1448.0" r="4.6"/><circle cx="967.8" cy="1450.5" r="4.6"/><circle cx="970.2" cy="1452.6" r="4.6"/><circle cx="972.6" cy="1453.5" r="4.6"/><circle cx="975.0" cy="1453.9" r="4.6"/><circle cx="977.4" cy="1456.2" r="4.6"/><circle cx="979.8" cy="1456.5" r="4.6"/><circle cx="982.2" cy="1457.6" r="4.6"/><circle cx="984.6" cy="1458.2" r="4.6"/><circle cx="987.0" cy="1458.9" r="4.6"/><circle cx="989.4" cy="1458.3" r="4.6"/><circle cx="991.8" cy="1460.8" r="4.6"/><circle cx="994.2" cy="1460.7" r="4.6"/><circle cx="996.6" cy="1461.6" r="4.6"/><circle cx="999.0" cy="1462.5" r="4.6"/><circle cx="1001.4" cy="1461.6" r="4.6"/><circle cx="1003.8" cy="1460.8" r="4.6"/><circle cx="1006.2" cy="1461.6" r="4.6"/><circle cx="1008.6" cy="1461.7" r="4.6"/><circle cx="1011.0" cy="1462.4" r="4.6"/><circle cx="1013.4" cy="1463.1" r="4.6"/><circle cx="1015.8" cy="1462.1" r="4.6"/><circle cx="1018.2" cy="1463.7" r="4.6"/><circle cx="1020.6" cy="1462.9" r="4.6"/><circle cx="1023.0" cy="1464.2" r="4.6"/><circle cx="1025.4" cy="1464.2" r="4.6"/><circle cx="1027.8" cy="1464.3" r="4.6"/><circle cx="1030.2" cy="1464.6" r="4.6"/><circle cx="1032.6" cy="1464.5" r="4.6"/><circle cx="1035.0" cy="1464.6" r="4.6"/><circle cx="1037.4" cy="1464.2" r="4.6"/></g>
<polyline points="618.0,1803.7 619.0,1803.6 620.0,1803.6 621.0,1803.6 622.0,1803.6 623.0,1803.5 624.0,1803.5 625.0,1803.5 626.0,1803.4 627.0,1803.4 628.0,1803.3 629.0,1803.3 630.0,1803.2 631.0,1803.2 632.0,1803.1 633.0,1803.0 634.0,1803.0 635.0,1802.9 636.0,1802.8 637.0,1802.7 638.0,1802.6 639.0,1802.5 640.0,1802.3 641.0,1802.2 642.0,1802.1 643.0,1801.9 644.0,1801.8 645.0,1801.6 646.0,1801.4 647.0,1801.3 648.0,1801.1 649.0,1800.9 650.0,1800.7 651.0,1800.4 652.0,1800.2 653.0,1800.0 654.0,1799.7 655.0,1799.5 656.0,1799.2 657.0,1798.9 658.0,1798.7 659.0,1798.4 660.0,1798.1 661.0,1797.8 662.0,1797.5 663.0,1797.1 664.0,1796.8 665.0,1796.5 666.0,1796.1 667.0,1795.8 668.0,1795.4 669.0,1795.0 670.0,1794.7 671.0,1794.3 672.0,1793.9 673.0,1793.6 674.0,1793.2 675.0,1792.8 676.0,1792.4 677.0,1792.0 678.0,1791.7 679.0,1791.3 680.0,1790.9 681.0,1790.5 682.0,1790.2 683.0,1789.8 684.0,1789.5 685.0,1789.1 686.0,1788.8 687.0,1788.5 688.0,1788.2 689.0,1787.9 690.0,1787.6 691.0,1787.3 692.0,1787.1 693.0,1786.8 694.0,1786.6 695.0,1786.4 696.0,1786.2 697.0,1786.0 698.0,1785.8 699.0,1785.7 700.0,1785.6 701.0,1785.5 702.0,1785.4 703.0,1785.3 704.0,1785.3 705.0,1785.3 706.0,1785.3 707.0,1785.3 708.0,1785.4 709.0,1785.4 710.0,1785.5 711.0,1785.6 712.0,1785.7 713.0,1785.9 714.0,1786.1 715.0,1786.2 716.0,1786.4 717.0,1786.7 718.0,1786.9 719.0,1787.2 720.0,1787.4 721.0,1787.7 722.0,1788.0 723.0,1788.4 724.0,1788.7 725.0,1789.0 726.0,1789.4 727.0,1789.7 728.0,1790.1 729.0,1790.5 730.0,1790.9 731.0,1791.3 732.0,1791.7 733.0,1792.1 734.0,1792.5 735.0,1792.9 736.0,1793.3 737.0,1793.7 738.0,1794.2 739.0,1794.6 740.0,1795.0 741.0,1795.4 742.0,1795.8 743.0,1796.2 744.0,1796.6 745.0,1797.0 746.0,1797.4 747.0,1797.8 748.0,1798.2 749.0,1798.5 750.0,1798.9 751.0,1799.2 752.0,1799.6 753.0,1799.9 754.0,1800.3 755.0,1800.6 756.0,1800.9 757.0,1801.2 758.0,1801.5 759.0,1801.8 760.0,1802.0 761.0,1802.3 762.0,1802.6 763.0,1802.8 764.0,1803.0 765.0,1803.3 766.0,1803.5 767.0,1803.7 768.0,1803.9 769.0,1804.1 770.0,1804.3 771.0,1804.5 772.0,1804.6 773.0,1804.8 774.0,1804.9 775.0,1805.1 776.0,1805.2 777.0,1805.4 778.0,1805.5 779.0,1805.6 780.0,1805.7 781.0,1805.8 782.0,1805.9 783.0,1806.1 784.0,1806.2 785.0,1806.3 786.0,1806.4 787.0,1806.5 788.0,1806.5 789.0,1806.6 790.0,1806.7 791.0,1806.8 792.0,1806.9 793.0,1806.9 794.0,1807.0" fill="none" stroke="#8c8c8c" stroke-width="2.4" stroke-linejoin="round" stroke-linecap="round" />
<polyline points="661.0,1804.4 662.0,1804.4 663.0,1804.4 664.0,1804.4 665.0,1804.3 666.0,1804.3 667.0,1804.3 668.0,1804.2 669.0,1804.2 670.0,1804.1 671.0,1804.1 672.0,1804.0 673.0,1803.9 674.0,1803.9 675.0,1803.8 676.0,1803.7 677.0,1803.6 678.0,1803.5 679.0,1803.4 680.0,1803.3 681.0,1803.1 682.0,1803.0 683.0,1802.8 684.0,1802.7 685.0,1802.5 686.0,1802.3 687.0,1802.1 688.0,1801.9 689.0,1801.6 690.0,1801.4 691.0,1801.1 692.0,1800.8 693.0,1800.5 694.0,1800.2 695.0,1799.8 696.0,1799.5 697.0,1799.1 698.0,1798.7 699.0,1798.2 700.0,1797.8 701.0,1797.3 702.0,1796.8 703.0,1796.3 704.0,1795.7 705.0,1795.1 706.0,1794.5 707.0,1793.9 708.0,1793.2 709.0,1792.5 710.0,1791.8 711.0,1791.0 712.0,1790.2 713.0,1789.4 714.0,1788.6 715.0,1787.7 716.0,1786.8 717.0,1785.8 718.0,1784.9 719.0,1783.9 720.0,1782.8 721.0,1781.7 722.0,1780.6 723.0,1779.5 724.0,1778.3 725.0,1777.2 726.0,1775.9 727.0,1774.7 728.0,1773.4 729.0,1772.1 730.0,1770.8 731.0,1769.4 732.0,1768.1 733.0,1766.7 734.0,1765.3 735.0,1763.8 736.0,1762.4 737.0,1761.0 738.0,1759.5 739.0,1758.0 740.0,1756.5 741.0,1755.0 742.0,1753.5 743.0,1752.1 744.0,1750.6 745.0,1749.1 746.0,1747.6 747.0,1746.1 748.0,1744.7 749.0,1743.2 750.0,1741.8 751.0,1740.4 752.0,1739.1 753.0,1737.7 754.0,1736.4 755.0,1735.1 756.0,1733.8 757.0,1732.6 758.0,1731.5 759.0,1730.3 760.0,1729.2 761.0,1728.2 762.0,1727.2 763.0,1726.3 764.0,1725.4 765.0,1724.6 766.0,1723.8 767.0,1723.1 768.0,1722.5 769.0,1721.9 770.0,1721.4 771.0,1721.0 772.0,1720.6 773.0,1720.3 774.0,1720.0 775.0,1719.9 776.0,1719.8 777.0,1719.7 778.0,1719.8 779.0,1719.9 780.0,1720.1 781.0,1720.4 782.0,1720.7 783.0,1721.1 784.0,1721.6 785.0,1722.2 786.0,1722.8 787.0,1723.4 788.0,1724.2 789.0,1725.0 790.0,1725.9 791.0,1726.8 792.0,1727.7 793.0,1728.8 794.0,1729.9 795.0,1731.0 796.0,1732.2 797.0,1733.4 798.0,1734.6 799.0,1735.9 800.0,1737.2 801.0,1738.6 802.0,1740.0 803.0,1741.4 804.0,1742.9 805.0,1744.3 806.0,1745.8 807.0,1747.3 808.0,1748.8 809.0,1750.4 810.0,1751.9 811.0,1753.4 812.0,1755.0 813.0,1756.5 814.0,1758.1 815.0,1759.6 816.0,1761.1 817.0,1762.7 818.0,1764.2 819.0,1765.7 820.0,1767.1 821.0,1768.6 822.0,1770.0 823.0,1771.5 824.0,1772.9 825.0,1774.3 826.0,1775.6 827.0,1776.9 828.0,1778.2 829.0,1779.5 830.0,1780.8 831.0,1782.0 832.0,1783.2 833.0,1784.3 834.0,1785.5 835.0,1786.6 836.0,1787.6 837.0,1788.7 838.0,1789.7 839.0,1790.6 840.0,1791.6 841.0,1792.5 842.0,1793.4 843.0,1794.2 844.0,1795.0 845.0,1795.8 846.0,1796.6 847.0,1797.3 848.0,1798.0 849.0,1798.6 850.0,1799.3 851.0,1799.9 852.0,1800.5 853.0,1801.0 854.0,1801.6 855.0,1802.1 856.0,1802.6 857.0,1803.0 858.0,1803.5 859.0,1803.9 860.0,1804.3 861.0,1804.7 862.0,1805.0 863.0,1805.4 864.0,1805.7 865.0,1806.0 866.0,1806.3 867.0,1806.6 868.0,1806.8 869.0,1807.1 870.0,1807.3 871.0,1807.6 872.0,1807.8 873.0,1808.0 874.0,1808.1 875.0,1808.3 876.0,1808.5 877.0,1808.7 878.0,1808.8 879.0,1808.9 880.0,1809.1 881.0,1809.2 882.0,1809.3 883.0,1809.4 884.0,1809.5 885.0,1809.6 886.0,1809.7 887.0,1809.8 888.0,1809.9 889.0,1810.0 890.0,1810.1 891.0,1810.2 892.0,1810.2 893.0,1810.3" fill="none" stroke="#800080" stroke-width="2.4" stroke-linejoin="round" stroke-linecap="round" />
<polyline points="704.0,1805.2 705.0,1805.2 706.0,1805.1 707.0,1805.1 708.0,1805.1 709.0,1805.0 710.0,1805.0 711.0,1804.9 712.0,1804.9 713.0,1804.8 714.0,1804.7 715.0,1804.6 716.0,1804.5 717.0,1804.4 718.0,1804.3 719.0,1804.1 720.0,1804.0 721.0,1803.8 722.0,1803.6 723.0,1803.4 724.0,1803.2 725.0,1802.9 726.0,1802.6 727.0,1802.3 728.0,1802.0 729.0,1801.7 730.0,1801.3 731.0,1800.9 732.0,1800.4 733.0,1799.9 734.0,1799.4 735.0,1798.8 736.0,1798.2 737.0,1797.6 738.0,1796.9 739.0,1796.1 740.0,1795.3 741.0,1794.5 742.0,1793.5 743.0,1792.5 744.0,1791.5 745.0,1790.4 746.0,1789.2 747.0,1787.9 748.0,1786.6 749.0,1785.2 750.0,1783.7 751.0,1782.1 752.0,1780.4 753.0,1778.6 754.0,1776.7 755.0,1774.8 756.0,1772.7 757.0,1770.5 758.0,1768.3 759.0,1765.9 760.0,1763.4 761.0,1760.8 762.0,1758.1 763.0,1755.2 764.0,1752.3 765.0,1749.2 766.0,1746.0 767.0,1742.7 768.0,1739.3 769.0,1735.8 770.0,1732.1 771.0,1728.4 772.0,1724.5 773.0,1720.5 774.0,1716.4 775.0,1712.2 776.0,1707.9 777.0,1703.4 778.0,1698.9 779.0,1694.3 780.0,1689.6 781.0,1684.9 782.0,1680.0 783.0,1675.1 784.0,1670.2 785.0,1665.2 786.0,1660.1 787.0,1655.0 788.0,1649.8 789.0,1644.7 790.0,1639.5 791.0,1634.3 792.0,1629.2 793.0,1624.0 794.0,1618.9 795.0,1613.8 796.0,1608.8 797.0,1603.8 798.0,1598.9 799.0,1594.1 800.0,1589.3 801.0,1584.7 802.0,1580.2 803.0,1575.8 804.0,1571.6 805.0,1567.5 806.0,1563.6 807.0,1559.8 808.0,1556.2 809.0,1552.8 810.0,1549.6 811.0,1546.6 812.0,1543.9 813.0,1541.3 814.0,1539.0 815.0,1536.9 816.0,1535.0 817.0,1533.4 818.0,1532.1 819.0,1531.0 820.0,1530.2 821.0,1529.6 822.0,1529.3 823.0,1529.2 824.0,1529.5 825.0,1529.9 826.0,1530.7 827.0,1531.7 828.0,1532.9 829.0,1534.5 830.0,1536.2 831.0,1538.2 832.0,1540.5 833.0,1543.0 834.0,1545.7 835.0,1548.6 836.0,1551.8 837.0,1555.1 838.0,1558.6 839.0,1562.4 840.0,1566.3 841.0,1570.3 842.0,1574.6 843.0,1578.9 844.0,1583.4 845.0,1588.0 846.0,1592.8 847.0,1597.6 848.0,1602.5 849.0,1607.5 850.0,1612.6 851.0,1617.7 852.0,1622.9 853.0,1628.1 854.0,1633.3 855.0,1638.6 856.0,1643.8 857.0,1649.0 858.0,1654.2 859.0,1659.4 860.0,1664.6 861.0,1669.7 862.0,1674.8 863.0,1679.8 864.0,1684.7 865.0,1689.6 866.0,1694.4 867.0,1699.1 868.0,1703.7 869.0,1708.3 870.0,1712.7 871.0,1717.0 872.0,1721.2 873.0,1725.3 874.0,1729.3 875.0,1733.2 876.0,1737.0 877.0,1740.7 878.0,1744.2 879.0,1747.6 880.0,1750.9 881.0,1754.1 882.0,1757.2 883.0,1760.1 884.0,1763.0 885.0,1765.7 886.0,1768.3 887.0,1770.8 888.0,1773.2 889.0,1775.5 890.0,1777.7 891.0,1779.7 892.0,1781.7 893.0,1783.6 894.0,1785.4 895.0,1787.1 896.0,1788.7 897.0,1790.2 898.0,1791.6 899.0,1793.0 900.0,1794.3 901.0,1795.5 902.0,1796.6 903.0,1797.7 904.0,1798.7 905.0,1799.6 906.0,1800.5 907.0,1801.3 908.0,1802.1 909.0,1802.8 910.0,1803.5 911.0,1804.1 912.0,1804.7 913.0,1805.3 914.0,1805.8 915.0,1806.2 916.0,1806.7 917.0,1807.1 918.0,1807.5 919.0,1807.8 920.0,1808.2 921.0,1808.5 922.0,1808.7 923.0,1809.0 924.0,1809.2 925.0,1809.5 926.0,1809.7 927.0,1809.9 928.0,1810.0 929.0,1810.2 930.0,1810.4 931.0,1810.5 932.0,1810.6 933.0,1810.7 934.0,1810.9 935.0,1811.0 936.0,1811.0 937.0,1811.1 938.0,1811.2 939.0,1811.3 940.0,1811.4 941.0,1811.4" fill="none" stroke="#0000ff" stroke-width="2.4" stroke-linejoin="round" stroke-linecap="round" />
<polyline points="773.0,1806.4 774.0,1806.4 775.0,1806.4 776.0,1806.3 777.0,1806.3 778.0,1806.3 779.0,1806.2 780.0,1806.2 781.0,1806.2 782.0,1806.1 783.0,1806.1 784.0,1806.0 785.0,1805.9 786.0,1805.9 787.0,1805.8 788.0,1805.7 789.0,1805.6 790.0,1805.5 791.0,1805.4 792.0,1805.2 793.0,1805.1 794.0,1804.9 795.0,1804.8 796.0,1804.6 797.0,1804.4 798.0,1804.2 799.0,1803.9 800.0,1803.7 801.0,1803.4 802.0,1803.1 803.0,1802.8 804.0,1802.4 805.0,1802.0 806.0,1801.6 807.0,1801.2 808.0,1800.8 809.0,1800.3 810.0,1799.8 811.0,1799.2 812.0,1798.7 813.0,1798.1 814.0,1797.4 815.0,1796.7 816.0,1796.0 817.0,1795.2 818.0,1794.4 819.0,1793.6 820.0,1792.7 821.0,1791.8 822.0,1790.8 823.0,1789.8 824.0,1788.7 825.0,1787.6 826.0,1786.4 827.0,1785.2 828.0,1783.9 829.0,1782.6 830.0,1781.2 831.0,1779.8 832.0,1778.3 833.0,1776.8 834.0,1775.2 835.0,1773.5 836.0,1771.8 837.0,1770.1 838.0,1768.3 839.0,1766.4 840.0,1764.5 841.0,1762.5 842.0,1760.5 843.0,1758.5 844.0,1756.3 845.0,1754.2 846.0,1752.0 847.0,1749.7 848.0,1747.5 849.0,1745.1 850.0,1742.8 851.0,1740.4 852.0,1738.0 853.0,1735.5 854.0,1733.0 855.0,1730.5 856.0,1728.0 857.0,1725.5 858.0,1723.0 859.0,1720.4 860.0,1717.9 861.0,1715.4 862.0,1712.8 863.0,1710.3 864.0,1707.8 865.0,1705.3 866.0,1702.8 867.0,1700.4 868.0,1698.0 869.0,1695.7 870.0,1693.4 871.0,1691.1 872.0,1688.9 873.0,1686.7 874.0,1684.6 875.0,1682.6 876.0,1680.7 877.0,1678.8 878.0,1677.0 879.0,1675.3 880.0,1673.7 881.0,1672.2 882.0,1670.7 883.0,1669.4 884.0,1668.2 885.0,1667.1 886.0,1666.1 887.0,1665.2 888.0,1664.4 889.0,1663.7 890.0,1663.1 891.0,1662.7 892.0,1662.4 893.0,1662.2 894.0,1662.1 895.0,1662.2 896.0,1662.3 897.0,1662.6 898.0,1663.0 899.0,1663.5 900.0,1664.2 901.0,1664.9 902.0,1665.8 903.0,1666.8 904.0,1667.9 905.0,1669.1 906.0,1670.4 907.0,1671.8 908.0,1673.3 909.0,1674.9 910.0,1676.6 911.0,1678.4 912.0,1680.2 913.0,1682.2 914.0,1684.2 915.0,1686.3 916.0,1688.4 917.0,1690.6 918.0,1692.9 919.0,1695.2 920.0,1697.6 921.0,1700.0 922.0,1702.5 923.0,1705.0 924.0,1707.5 925.0,1710.1 926.0,1712.6 927.0,1715.2 928.0,1717.8 929.0,1720.4 930.0,1723.0 931.0,1725.6 932.0,1728.2 933.0,1730.7 934.0,1733.3 935.0,1735.8 936.0,1738.4 937.0,1740.9 938.0,1743.3 939.0,1745.8 940.0,1748.2 941.0,1750.6 942.0,1752.9 943.0,1755.2 944.0,1757.4 945.0,1759.6 946.0,1761.8 947.0,1763.9 948.0,1766.0 949.0,1768.0 950.0,1769.9 951.0,1771.8 952.0,1773.7 953.0,1775.5 954.0,1777.2 955.0,1778.9 956.0,1780.6 957.0,1782.1 958.0,1783.7 959.0,1785.1 960.0,1786.6 961.0,1787.9 962.0,1789.3 963.0,1790.5 964.0,1791.7 965.0,1792.9 966.0,1794.0 967.0,1795.1 968.0,1796.1 969.0,1797.1 970.0,1798.0 971.0,1798.9 972.0,1799.8 973.0,1800.6 974.0,1801.3 975.0,1802.1 976.0,1802.8 977.0,1803.4 978.0,1804.1 979.0,1804.6 980.0,1805.2 981.0,1805.7 982.0,1806.2 983.0,1806.7 984.0,1807.2 985.0,1807.6 986.0,1808.0 987.0,1808.3 988.0,1808.7 989.0,1809.0 990.0,1809.3 991.0,1809.6 992.0,1809.9 993.0,1810.1 994.0,1810.4 995.0,1810.6 996.0,1810.8 997.0,1811.0 998.0,1811.2 999.0,1811.4 1000.0,1811.5 1001.0,1811.7 1002.0,1811.8 1003.0,1812.0 1004.0,1812.1 1005.0,1812.2 1006.0,1812.3 1007.0,1812.4 1008.0,1812.5 1009.0,1812.6 1010.0,1812.7 1011.0,1812.8 1012.0,1812.9 1013.0,1812.9 1014.0,1813.0 1015.0,1813.1 1016.0,1813.1" fill="none" stroke="#000" stroke-width="1.8" stroke-linejoin="round" stroke-linecap="round" />
<polyline points="579.0,1803.0 581.4,1804.1 583.8,1804.2 586.2,1803.8 588.6,1803.4 591.0,1802.5 593.4,1803.7 595.8,1802.7 598.2,1802.7 600.6,1802.5 603.0,1802.6 605.4,1802.2 607.8,1802.3 610.2,1801.6 612.6,1802.0 615.0,1803.4 617.4,1801.9 619.8,1801.7 622.2,1802.0 624.6,1802.0 627.0,1800.7 629.4,1801.0 631.8,1801.4 634.2,1800.7 636.6,1800.2 639.0,1800.6 641.4,1798.8 643.8,1798.8 646.2,1797.9 648.6,1798.6 651.0,1796.0 653.4,1796.2 655.8,1795.6 658.2,1795.6 660.6,1794.8 663.0,1794.5 665.4,1791.9 667.8,1792.4 670.2,1790.9 672.6,1789.8 675.0,1789.6 677.4,1787.8 679.8,1786.3 682.2,1786.4 684.6,1784.9 687.0,1784.5 689.4,1784.2 691.8,1783.2 694.2,1782.9 696.6,1780.8 699.0,1778.9 701.4,1778.1 703.8,1776.8 706.2,1775.2 708.6,1774.7 711.0,1772.5 713.4,1770.1 715.8,1770.0 718.2,1767.6 720.6,1765.9 723.0,1763.7 725.4,1761.8 727.8,1759.0 730.2,1757.1 732.6,1753.9 735.0,1750.9 737.4,1747.8 739.8,1743.2 742.2,1740.2 744.6,1735.9 747.0,1731.5 749.4,1725.3 751.8,1720.7 754.2,1712.4 756.6,1703.5 759.0,1694.4 761.4,1684.9 763.8,1674.1 766.2,1663.7 768.6,1654.7 771.0,1644.7 773.4,1635.4 775.8,1624.4 778.2,1613.8 780.6,1601.7 783.0,1590.5 785.4,1578.5 787.8,1569.4 790.2,1558.8 792.6,1549.0 795.0,1537.0 797.4,1526.5 799.8,1518.4 802.2,1511.0 804.6,1505.4 807.0,1500.6 809.4,1495.0 811.8,1492.2 814.2,1490.9 816.6,1489.9 819.0,1489.3 821.4,1489.4 823.8,1492.3 826.2,1495.5 828.6,1498.7 831.0,1502.7 833.4,1507.0 835.8,1513.4 838.2,1518.7 840.6,1525.0 843.0,1532.7 845.4,1541.4 847.8,1547.8 850.2,1555.7 852.6,1562.5 855.0,1571.5 857.4,1578.5 859.8,1586.1 862.2,1594.8 864.6,1600.7 867.0,1607.0 869.4,1613.1 871.8,1617.3 874.2,1620.9 876.6,1622.5 879.0,1624.3 881.4,1627.7 883.8,1630.3 886.2,1632.5 888.6,1635.2 891.0,1636.2 893.4,1638.2 895.8,1639.4 898.2,1643.8 900.6,1648.4 903.0,1651.7 905.4,1655.6 907.8,1660.3 910.2,1666.6 912.6,1671.2 915.0,1679.0 917.4,1687.3 919.8,1696.1 922.2,1704.6 924.6,1714.2 927.0,1723.0 929.4,1731.3 931.8,1738.5 934.2,1744.6 936.6,1751.8 939.0,1758.5 941.4,1763.2 943.8,1768.9 946.2,1774.5 948.6,1778.2 951.0,1783.3 953.4,1786.2 955.8,1790.8 958.2,1794.5 960.6,1797.1 963.0,1798.1 965.4,1800.8 967.8,1802.1 970.2,1803.6 972.6,1805.9 975.0,1805.3 977.4,1807.8 979.8,1807.9 982.2,1809.4 984.6,1809.3 987.0,1809.3 989.4,1810.3 991.8,1810.9 994.2,1810.8 996.6,1811.4 999.0,1811.1 1001.4,1810.3 1003.8,1812.4 1006.2,1812.5 1008.6,1812.4 1011.0,1812.5 1013.4,1813.3 1015.8,1812.6 1018.2,1812.6 1020.6,1813.1 1023.0,1814.2 1025.4,1812.8 1027.8,1814.5 1030.2,1813.6 1032.6,1813.5 1035.0,1815.1 1037.4,1814.4" fill="none" stroke="#000" stroke-width="3" stroke-linejoin="round" stroke-linecap="round" />
<g fill="#000"><circle cx="579.0" cy="1803.0" r="4.6"/><circle cx="581.4" cy="1804.1" r="4.6"/><circle cx="583.8" cy="1804.2" r="4.6"/><circle cx="586.2" cy="1803.8" r="4.6"/><circle cx="588.6" cy="1803.4" r="4.6"/><circle cx="591.0" cy="1802.5" r="4.6"/><circle cx="593.4" cy="1803.7" r="4.6"/><circle cx="595.8" cy="1802.7" r="4.6"/><circle cx="598.2" cy="1802.7" r="4.6"/><circle cx="600.6" cy="1802.5" r="4.6"/><circle cx="603.0" cy="1802.6" r="4.6"/><circle cx="605.4" cy="1802.2" r="4.6"/><circle cx="607.8" cy="1802.3" r="4.6"/><circle cx="610.2" cy="1801.6" r="4.6"/><circle cx="612.6" cy="1802.0" r="4.6"/><circle cx="615.0" cy="1803.4" r="4.6"/><circle cx="617.4" cy="1801.9" r="4.6"/><circle cx="619.8" cy="1801.7" r="4.6"/><circle cx="622.2" cy="1802.0" r="4.6"/><circle cx="624.6" cy="1802.0" r="4.6"/><circle cx="627.0" cy="1800.7" r="4.6"/><circle cx="629.4" cy="1801.0" r="4.6"/><circle cx="631.8" cy="1801.4" r="4.6"/><circle cx="634.2" cy="1800.7" r="4.6"/><circle cx="636.6" cy="1800.2" r="4.6"/><circle cx="639.0" cy="1800.6" r="4.6"/><circle cx="641.4" cy="1798.8" r="4.6"/><circle cx="643.8" cy="1798.8" r="4.6"/><circle cx="646.2" cy="1797.9" r="4.6"/><circle cx="648.6" cy="1798.6" r="4.6"/><circle cx="651.0" cy="1796.0" r="4.6"/><circle cx="653.4" cy="1796.2" r="4.6"/><circle cx="655.8" cy="1795.6" r="4.6"/><circle cx="658.2" cy="1795.6" r="4.6"/><circle cx="660.6" cy="1794.8" r="4.6"/><circle cx="663.0" cy="1794.5" r="4.6"/><circle cx="665.4" cy="1791.9" r="4.6"/><circle cx="667.8" cy="1792.4" r="4.6"/><circle cx="670.2" cy="1790.9" r="4.6"/><circle cx="672.6" cy="1789.8" r="4.6"/><circle cx="675.0" cy="1789.6" r="4.6"/><circle cx="677.4" cy="1787.8" r="4.6"/><circle cx="679.8" cy="1786.3" r="4.6"/><circle cx="682.2" cy="1786.4" r="4.6"/><circle cx="684.6" cy="1784.9" r="4.6"/><circle cx="687.0" cy="1784.5" r="4.6"/><circle cx="689.4" cy="1784.2" r="4.6"/><circle cx="691.8" cy="1783.2" r="4.6"/><circle cx="694.2" cy="1782.9" r="4.6"/><circle cx="696.6" cy="1780.8" r="4.6"/><circle cx="699.0" cy="1778.9" r="4.6"/><circle cx="701.4" cy="1778.1" r="4.6"/><circle cx="703.8" cy="1776.8" r="4.6"/><circle cx="706.2" cy="1775.2" r="4.6"/><circle cx="708.6" cy="1774.7" r="4.6"/><circle cx="711.0" cy="1772.5" r="4.6"/><circle cx="713.4" cy="1770.1" r="4.6"/><circle cx="715.8" cy="1770.0" r="4.6"/><circle cx="718.2" cy="1767.6" r="4.6"/><circle cx="720.6" cy="1765.9" r="4.6"/><circle cx="723.0" cy="1763.7" r="4.6"/><circle cx="725.4" cy="1761.8" r="4.6"/><circle cx="727.8" cy="1759.0" r="4.6"/><circle cx="730.2" cy="1757.1" r="4.6"/><circle cx="732.6" cy="1753.9" r="4.6"/><circle cx="735.0" cy="1750.9" r="4.6"/><circle cx="737.4" cy="1747.8" r="4.6"/><circle cx="739.8" cy="1743.2" r="4.6"/><circle cx="742.2" cy="1740.2" r="4.6"/><circle cx="744.6" cy="1735.9" r="4.6"/><circle cx="747.0" cy="1731.5" r="4.6"/><circle cx="749.4" cy="1725.3" r="4.6"/><circle cx="751.8" cy="1720.7" r="4.6"/><circle cx="754.2" cy="1712.4" r="4.6"/><circle cx="756.6" cy="1703.5" r="4.6"/><circle cx="759.0" cy="1694.4" r="4.6"/><circle cx="761.4" cy="1684.9" r="4.6"/><circle cx="763.8" cy="1674.1" r="4.6"/><circle cx="766.2" cy="1663.7" r="4.6"/><circle cx="768.6" cy="1654.7" r="4.6"/><circle cx="771.0" cy="1644.7" r="4.6"/><circle cx="773.4" cy="1635.4" r="4.6"/><circle cx="775.8" cy="1624.4" r="4.6"/><circle cx="778.2" cy="1613.8" r="4.6"/><circle cx="780.6" cy="1601.7" r="4.6"/><circle cx="783.0" cy="1590.5" r="4.6"/><circle cx="785.4" cy="1578.5" r="4.6"/><circle cx="787.8" cy="1569.4" r="4.6"/><circle cx="790.2" cy="1558.8" r="4.6"/><circle cx="792.6" cy="1549.0" r="4.6"/><circle cx="795.0" cy="1537.0" r="4.6"/><circle cx="797.4" cy="1526.5" r="4.6"/><circle cx="799.8" cy="1518.4" r="4.6"/><circle cx="802.2" cy="1511.0" r="4.6"/><circle cx="804.6" cy="1505.4" r="4.6"/><circle cx="807.0" cy="1500.6" r="4.6"/><circle cx="809.4" cy="1495.0" r="4.6"/><circle cx="811.8" cy="1492.2" r="4.6"/><circle cx="814.2" cy="1490.9" r="4.6"/><circle cx="816.6" cy="1489.9" r="4.6"/><circle cx="819.0" cy="1489.3" r="4.6"/><circle cx="821.4" cy="1489.4" r="4.6"/><circle cx="823.8" cy="1492.3" r="4.6"/><circle cx="826.2" cy="1495.5" r="4.6"/><circle cx="828.6" cy="1498.7" r="4.6"/><circle cx="831.0" cy="1502.7" r="4.6"/><circle cx="833.4" cy="1507.0" r="4.6"/><circle cx="835.8" cy="1513.4" r="4.6"/><circle cx="838.2" cy="1518.7" r="4.6"/><circle cx="840.6" cy="1525.0" r="4.6"/><circle cx="843.0" cy="1532.7" r="4.6"/><circle cx="845.4" cy="1541.4" r="4.6"/><circle cx="847.8" cy="1547.8" r="4.6"/><circle cx="850.2" cy="1555.7" r="4.6"/><circle cx="852.6" cy="1562.5" r="4.6"/><circle cx="855.0" cy="1571.5" r="4.6"/><circle cx="857.4" cy="1578.5" r="4.6"/><circle cx="859.8" cy="1586.1" r="4.6"/><circle cx="862.2" cy="1594.8" r="4.6"/><circle cx="864.6" cy="1600.7" r="4.6"/><circle cx="867.0" cy="1607.0" r="4.6"/><circle cx="869.4" cy="1613.1" r="4.6"/><circle cx="871.8" cy="1617.3" r="4.6"/><circle cx="874.2" cy="1620.9" r="4.6"/><circle cx="876.6" cy="1622.5" r="4.6"/><circle cx="879.0" cy="1624.3" r="4.6"/><circle cx="881.4" cy="1627.7" r="4.6"/><circle cx="883.8" cy="1630.3" r="4.6"/><circle cx="886.2" cy="1632.5" r="4.6"/><circle cx="888.6" cy="1635.2" r="4.6"/><circle cx="891.0" cy="1636.2" r="4.6"/><circle cx="893.4" cy="1638.2" r="4.6"/><circle cx="895.8" cy="1639.4" r="4.6"/><circle cx="898.2" cy="1643.8" r="4.6"/><circle cx="900.6" cy="1648.4" r="4.6"/><circle cx="903.0" cy="1651.7" r="4.6"/><circle cx="905.4" cy="1655.6" r="4.6"/><circle cx="907.8" cy="1660.3" r="4.6"/><circle cx="910.2" cy="1666.6" r="4.6"/><circle cx="912.6" cy="1671.2" r="4.6"/><circle cx="915.0" cy="1679.0" r="4.6"/><circle cx="917.4" cy="1687.3" r="4.6"/><circle cx="919.8" cy="1696.1" r="4.6"/><circle cx="922.2" cy="1704.6" r="4.6"/><circle cx="924.6" cy="1714.2" r="4.6"/><circle cx="927.0" cy="1723.0" r="4.6"/><circle cx="929.4" cy="1731.3" r="4.6"/><circle cx="931.8" cy="1738.5" r="4.6"/><circle cx="934.2" cy="1744.6" r="4.6"/><circle cx="936.6" cy="1751.8" r="4.6"/><circle cx="939.0" cy="1758.5" r="4.6"/><circle cx="941.4" cy="1763.2" r="4.6"/><circle cx="943.8" cy="1768.9" r="4.6"/><circle cx="946.2" cy="1774.5" r="4.6"/><circle cx="948.6" cy="1778.2" r="4.6"/><circle cx="951.0" cy="1783.3" r="4.6"/><circle cx="953.4" cy="1786.2" r="4.6"/><circle cx="955.8" cy="1790.8" r="4.6"/><circle cx="958.2" cy="1794.5" r="4.6"/><circle cx="960.6" cy="1797.1" r="4.6"/><circle cx="963.0" cy="1798.1" r="4.6"/><circle cx="965.4" cy="1800.8" r="4.6"/><circle cx="967.8" cy="1802.1" r="4.6"/><circle cx="970.2" cy="1803.6" r="4.6"/><circle cx="972.6" cy="1805.9" r="4.6"/><circle cx="975.0" cy="1805.3" r="4.6"/><circle cx="977.4" cy="1807.8" r="4.6"/><circle cx="979.8" cy="1807.9" r="4.6"/><circle cx="982.2" cy="1809.4" r="4.6"/><circle cx="984.6" cy="1809.3" r="4.6"/><circle cx="987.0" cy="1809.3" r="4.6"/><circle cx="989.4" cy="1810.3" r="4.6"/><circle cx="991.8" cy="1810.9" r="4.6"/><circle cx="994.2" cy="1810.8" r="4.6"/><circle cx="996.6" cy="1811.4" r="4.6"/><circle cx="999.0" cy="1811.1" r="4.6"/><circle cx="1001.4" cy="1810.3" r="4.6"/><circle cx="1003.8" cy="1812.4" r="4.6"/><circle cx="1006.2" cy="1812.5" r="4.6"/><circle cx="1008.6" cy="1812.4" r="4.6"/><circle cx="1011.0" cy="1812.5" r="4.6"/><circle cx="1013.4" cy="1813.3" r="4.6"/><circle cx="1015.8" cy="1812.6" r="4.6"/><circle cx="1018.2" cy="1812.6" r="4.6"/><circle cx="1020.6" cy="1813.1" r="4.6"/><circle cx="1023.0" cy="1814.2" r="4.6"/><circle cx="1025.4" cy="1812.8" r="4.6"/><circle cx="1027.8" cy="1814.5" r="4.6"/><circle cx="1030.2" cy="1813.6" r="4.6"/><circle cx="1032.6" cy="1813.5" r="4.6"/><circle cx="1035.0" cy="1815.1" r="4.6"/><circle cx="1037.4" cy="1814.4" r="4.6"/></g>
<text x="0" y="0" font-size="26.5" transform="translate(778.0,1326.7) rotate(-90) scale(1,1.05)" >-C-O</text>
<text x="0" y="0" font-size="26.5" transform="translate(843.5,1326.7) rotate(-90) scale(1,1.05)" >-OH</text>
<text x="0" y="0" font-size="26.5" transform="translate(920.0,1299.2) rotate(-90) scale(1,1.05)" >MO</text>
<text x="0" y="0" font-size="26" transform="translate(832.0,1602.7) rotate(-90) scale(1,1.05)" >-OH</text>
<text x="0" y="0" font-size="25.5" transform="translate(907.0,1596.8) rotate(-90) scale(1,1.05)" >MO</text>
<text x="0" y="0" font-size="25.5" transform="translate(757,1683.5) rotate(-90) scale(1,1.05)">-SO<tspan font-size="15" dy="6">4</tspan></text>
<text x="0" y="0" font-size="25.5" transform="translate(700,1768) rotate(-90) scale(1,1.05)">-C=O, H<tspan font-size="15" dy="6">2</tspan><tspan dy="-6">O</tspan></text>
</svg></body></html>
